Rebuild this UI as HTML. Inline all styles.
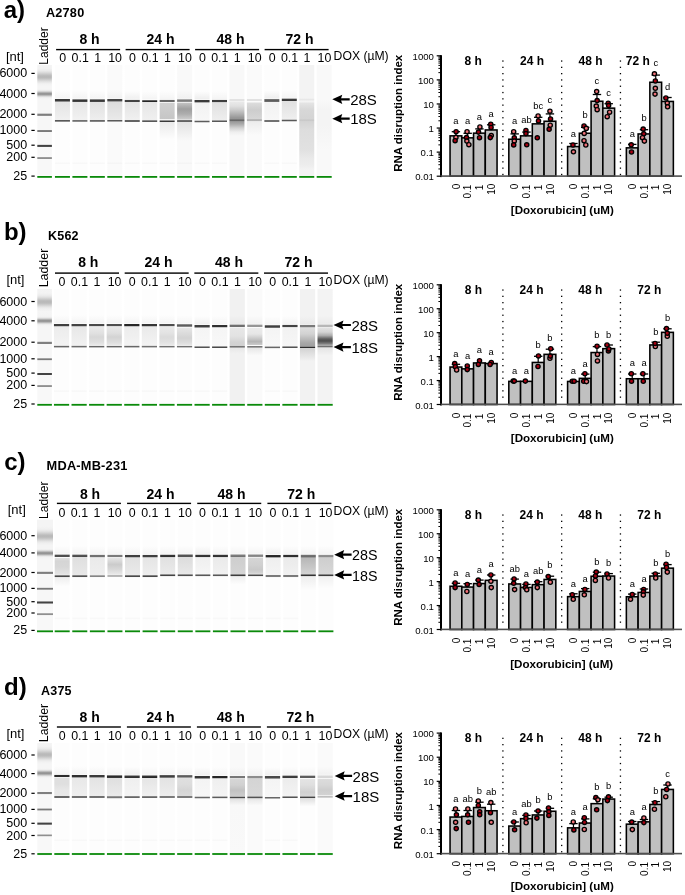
<!DOCTYPE html>
<html><head><meta charset="utf-8"><style>html,body{margin:0;padding:0;background:#fff;overflow:hidden}svg{display:block;filter:blur(0.3px)}text{font-family:"Liberation Sans", sans-serif}</style></head><body><svg width="685" height="895" viewBox="0 0 685 895" font-family='"Liberation Sans", sans-serif'><defs><linearGradient id="g1" x1="0" y1="0" x2="0" y2="1"><stop offset="0.0000" stop-color="rgb(244,244,244)"/><stop offset="0.0310" stop-color="rgb(242,242,242)"/><stop offset="0.0487" stop-color="rgb(236,236,236)"/><stop offset="0.0619" stop-color="rgb(225,225,225)"/><stop offset="0.0907" stop-color="rgb(191,191,191)"/><stop offset="0.0973" stop-color="rgb(187,187,187)"/><stop offset="0.1040" stop-color="rgb(185,185,185)"/><stop offset="0.1106" stop-color="rgb(186,186,186)"/><stop offset="0.1173" stop-color="rgb(191,191,191)"/><stop offset="0.1482" stop-color="rgb(227,227,227)"/><stop offset="0.1637" stop-color="rgb(239,239,239)"/><stop offset="0.1748" stop-color="rgb(243,243,243)"/><stop offset="0.1881" stop-color="rgb(245,245,245)"/><stop offset="0.2080" stop-color="rgb(245,245,245)"/><stop offset="0.2168" stop-color="rgb(243,243,243)"/><stop offset="0.2235" stop-color="rgb(238,238,238)"/><stop offset="0.2301" stop-color="rgb(226,226,226)"/><stop offset="0.2367" stop-color="rgb(205,205,205)"/><stop offset="0.2456" stop-color="rgb(169,169,169)"/><stop offset="0.2500" stop-color="rgb(154,154,154)"/><stop offset="0.2544" stop-color="rgb(146,146,146)"/><stop offset="0.2566" stop-color="rgb(146,146,146)"/><stop offset="0.2588" stop-color="rgb(148,148,148)"/><stop offset="0.2633" stop-color="rgb(159,159,159)"/><stop offset="0.2743" stop-color="rgb(204,204,204)"/><stop offset="0.2810" stop-color="rgb(226,226,226)"/><stop offset="0.2854" stop-color="rgb(235,235,235)"/><stop offset="0.2920" stop-color="rgb(242,242,242)"/><stop offset="0.3075" stop-color="rgb(246,246,246)"/><stop offset="0.4270" stop-color="rgb(246,246,246)"/><stop offset="0.4336" stop-color="rgb(126,126,126)"/><stop offset="0.4447" stop-color="rgb(127,127,127)"/><stop offset="0.4469" stop-color="rgb(143,143,143)"/><stop offset="0.4513" stop-color="rgb(223,223,223)"/><stop offset="0.4535" stop-color="rgb(247,247,247)"/><stop offset="0.5730" stop-color="rgb(247,247,247)"/><stop offset="0.5752" stop-color="rgb(214,214,214)"/><stop offset="0.5796" stop-color="rgb(130,130,130)"/><stop offset="0.5819" stop-color="rgb(122,122,122)"/><stop offset="0.5885" stop-color="rgb(122,122,122)"/><stop offset="0.5907" stop-color="rgb(139,139,139)"/><stop offset="0.5951" stop-color="rgb(222,222,222)"/><stop offset="0.5973" stop-color="rgb(247,247,247)"/><stop offset="0.7013" stop-color="rgb(247,247,247)"/><stop offset="0.7035" stop-color="rgb(223,223,223)"/><stop offset="0.7080" stop-color="rgb(103,103,103)"/><stop offset="0.7102" stop-color="rgb(67,67,67)"/><stop offset="0.7190" stop-color="rgb(67,67,67)"/><stop offset="0.7212" stop-color="rgb(79,79,79)"/><stop offset="0.7257" stop-color="rgb(199,199,199)"/><stop offset="0.7279" stop-color="rgb(247,247,247)"/><stop offset="0.8119" stop-color="rgb(248,248,248)"/><stop offset="0.8142" stop-color="rgb(227,227,227)"/><stop offset="0.8186" stop-color="rgb(157,157,157)"/><stop offset="0.8208" stop-color="rgb(143,143,143)"/><stop offset="0.8274" stop-color="rgb(143,143,143)"/><stop offset="0.8296" stop-color="rgb(164,164,164)"/><stop offset="0.8341" stop-color="rgb(234,234,234)"/><stop offset="0.8363" stop-color="rgb(248,248,248)"/><stop offset="0.9735" stop-color="rgb(248,248,248)"/><stop offset="0.9757" stop-color="rgb(251,251,251)"/><stop offset="1.0000" stop-color="rgb(251,251,251)"/></linearGradient><linearGradient id="g2" x1="0" y1="0" x2="0" y2="1"><stop offset="0.0000" stop-color="rgb(253,253,253)"/><stop offset="0.2235" stop-color="rgb(253,253,253)"/><stop offset="0.2898" stop-color="rgb(245,245,245)"/><stop offset="0.2987" stop-color="rgb(250,250,250)"/><stop offset="0.3053" stop-color="rgb(58,58,58)"/><stop offset="0.3164" stop-color="rgb(58,58,58)"/><stop offset="0.3186" stop-color="rgb(52,52,52)"/><stop offset="0.3208" stop-color="rgb(83,83,83)"/><stop offset="0.3230" stop-color="rgb(140,140,140)"/><stop offset="0.3252" stop-color="rgb(201,201,201)"/><stop offset="0.3274" stop-color="rgb(228,228,228)"/><stop offset="0.4823" stop-color="rgb(240,240,240)"/><stop offset="0.4845" stop-color="rgb(211,211,211)"/><stop offset="0.4889" stop-color="rgb(109,109,109)"/><stop offset="0.4912" stop-color="rgb(88,88,88)"/><stop offset="0.4978" stop-color="rgb(88,88,88)"/><stop offset="0.5044" stop-color="rgb(253,253,253)"/><stop offset="0.8584" stop-color="rgb(253,253,253)"/><stop offset="0.8673" stop-color="rgb(248,248,248)"/><stop offset="0.8739" stop-color="rgb(248,248,248)"/><stop offset="0.8805" stop-color="rgb(253,253,253)"/><stop offset="1.0000" stop-color="rgb(253,253,253)"/></linearGradient><linearGradient id="g3" x1="0" y1="0" x2="0" y2="1"><stop offset="0.0000" stop-color="rgb(253,253,253)"/><stop offset="0.2257" stop-color="rgb(253,253,253)"/><stop offset="0.2920" stop-color="rgb(245,245,245)"/><stop offset="0.3009" stop-color="rgb(250,250,250)"/><stop offset="0.3031" stop-color="rgb(198,198,198)"/><stop offset="0.3075" stop-color="rgb(66,66,66)"/><stop offset="0.3097" stop-color="rgb(53,53,53)"/><stop offset="0.3186" stop-color="rgb(53,53,53)"/><stop offset="0.3208" stop-color="rgb(49,49,49)"/><stop offset="0.3230" stop-color="rgb(68,68,68)"/><stop offset="0.3252" stop-color="rgb(128,128,128)"/><stop offset="0.3274" stop-color="rgb(190,190,190)"/><stop offset="0.3296" stop-color="rgb(230,230,230)"/><stop offset="0.4823" stop-color="rgb(241,241,241)"/><stop offset="0.4845" stop-color="rgb(234,234,234)"/><stop offset="0.4889" stop-color="rgb(148,148,148)"/><stop offset="0.4912" stop-color="rgb(113,113,113)"/><stop offset="0.4978" stop-color="rgb(113,113,113)"/><stop offset="0.5000" stop-color="rgb(141,141,141)"/><stop offset="0.5044" stop-color="rgb(234,234,234)"/><stop offset="0.5066" stop-color="rgb(253,253,253)"/><stop offset="0.8584" stop-color="rgb(253,253,253)"/><stop offset="0.8673" stop-color="rgb(248,248,248)"/><stop offset="0.8739" stop-color="rgb(248,248,248)"/><stop offset="0.8805" stop-color="rgb(253,253,253)"/><stop offset="1.0000" stop-color="rgb(253,253,253)"/></linearGradient><linearGradient id="g4" x1="0" y1="0" x2="0" y2="1"><stop offset="0.0000" stop-color="rgb(253,253,253)"/><stop offset="0.2257" stop-color="rgb(253,253,253)"/><stop offset="0.2920" stop-color="rgb(245,245,245)"/><stop offset="0.3009" stop-color="rgb(250,250,250)"/><stop offset="0.3031" stop-color="rgb(199,199,199)"/><stop offset="0.3075" stop-color="rgb(71,71,71)"/><stop offset="0.3097" stop-color="rgb(58,58,58)"/><stop offset="0.3186" stop-color="rgb(58,58,58)"/><stop offset="0.3208" stop-color="rgb(53,53,53)"/><stop offset="0.3230" stop-color="rgb(70,70,70)"/><stop offset="0.3252" stop-color="rgb(126,126,126)"/><stop offset="0.3274" stop-color="rgb(186,186,186)"/><stop offset="0.3296" stop-color="rgb(225,225,225)"/><stop offset="0.4823" stop-color="rgb(238,238,238)"/><stop offset="0.4845" stop-color="rgb(231,231,231)"/><stop offset="0.4889" stop-color="rgb(140,140,140)"/><stop offset="0.4912" stop-color="rgb(103,103,103)"/><stop offset="0.4978" stop-color="rgb(103,103,103)"/><stop offset="0.5000" stop-color="rgb(133,133,133)"/><stop offset="0.5044" stop-color="rgb(233,233,233)"/><stop offset="0.5066" stop-color="rgb(253,253,253)"/><stop offset="0.8584" stop-color="rgb(253,253,253)"/><stop offset="0.8673" stop-color="rgb(248,248,248)"/><stop offset="0.8739" stop-color="rgb(248,248,248)"/><stop offset="0.8805" stop-color="rgb(253,253,253)"/><stop offset="1.0000" stop-color="rgb(253,253,253)"/></linearGradient><linearGradient id="g5" x1="0" y1="0" x2="0" y2="1"><stop offset="0.0000" stop-color="rgb(250,250,250)"/><stop offset="0.2235" stop-color="rgb(250,250,250)"/><stop offset="0.2876" stop-color="rgb(242,242,242)"/><stop offset="0.2965" stop-color="rgb(246,246,246)"/><stop offset="0.2987" stop-color="rgb(224,224,224)"/><stop offset="0.3031" stop-color="rgb(106,106,106)"/><stop offset="0.3053" stop-color="rgb(70,70,70)"/><stop offset="0.3142" stop-color="rgb(70,70,70)"/><stop offset="0.3164" stop-color="rgb(68,68,68)"/><stop offset="0.3186" stop-color="rgb(59,59,59)"/><stop offset="0.3230" stop-color="rgb(160,160,160)"/><stop offset="0.3252" stop-color="rgb(220,220,220)"/><stop offset="0.4801" stop-color="rgb(233,233,233)"/><stop offset="0.4823" stop-color="rgb(235,235,235)"/><stop offset="0.4889" stop-color="rgb(90,90,90)"/><stop offset="0.4956" stop-color="rgb(90,90,90)"/><stop offset="0.4978" stop-color="rgb(111,111,111)"/><stop offset="0.5022" stop-color="rgb(218,218,218)"/><stop offset="0.5044" stop-color="rgb(250,250,250)"/><stop offset="0.8584" stop-color="rgb(250,250,250)"/><stop offset="0.8673" stop-color="rgb(245,245,245)"/><stop offset="0.8739" stop-color="rgb(245,245,245)"/><stop offset="0.8805" stop-color="rgb(250,250,250)"/><stop offset="1.0000" stop-color="rgb(250,250,250)"/></linearGradient><linearGradient id="g6" x1="0" y1="0" x2="0" y2="1"><stop offset="0.0000" stop-color="rgb(253,253,253)"/><stop offset="0.2279" stop-color="rgb(253,253,253)"/><stop offset="0.2942" stop-color="rgb(241,241,241)"/><stop offset="0.3031" stop-color="rgb(248,248,248)"/><stop offset="0.3053" stop-color="rgb(237,237,237)"/><stop offset="0.3097" stop-color="rgb(117,117,117)"/><stop offset="0.3119" stop-color="rgb(68,68,68)"/><stop offset="0.3208" stop-color="rgb(68,68,68)"/><stop offset="0.3230" stop-color="rgb(65,65,65)"/><stop offset="0.3252" stop-color="rgb(94,94,94)"/><stop offset="0.3296" stop-color="rgb(204,204,204)"/><stop offset="0.3319" stop-color="rgb(228,228,228)"/><stop offset="0.4845" stop-color="rgb(240,240,240)"/><stop offset="0.4867" stop-color="rgb(200,200,200)"/><stop offset="0.4912" stop-color="rgb(99,99,99)"/><stop offset="0.4934" stop-color="rgb(88,88,88)"/><stop offset="0.4978" stop-color="rgb(88,88,88)"/><stop offset="0.5000" stop-color="rgb(99,99,99)"/><stop offset="0.5044" stop-color="rgb(209,209,209)"/><stop offset="0.5066" stop-color="rgb(253,253,253)"/><stop offset="0.8584" stop-color="rgb(253,253,253)"/><stop offset="0.8673" stop-color="rgb(248,248,248)"/><stop offset="0.8739" stop-color="rgb(248,248,248)"/><stop offset="0.8805" stop-color="rgb(253,253,253)"/><stop offset="1.0000" stop-color="rgb(253,253,253)"/></linearGradient><linearGradient id="g7" x1="0" y1="0" x2="0" y2="1"><stop offset="0.0000" stop-color="rgb(253,253,253)"/><stop offset="0.2323" stop-color="rgb(253,253,253)"/><stop offset="0.2965" stop-color="rgb(245,245,245)"/><stop offset="0.3075" stop-color="rgb(251,251,251)"/><stop offset="0.3097" stop-color="rgb(238,238,238)"/><stop offset="0.3142" stop-color="rgb(95,95,95)"/><stop offset="0.3164" stop-color="rgb(38,38,38)"/><stop offset="0.3230" stop-color="rgb(38,38,38)"/><stop offset="0.3252" stop-color="rgb(51,51,51)"/><stop offset="0.3296" stop-color="rgb(180,180,180)"/><stop offset="0.3319" stop-color="rgb(230,230,230)"/><stop offset="0.4845" stop-color="rgb(239,239,239)"/><stop offset="0.4867" stop-color="rgb(241,241,241)"/><stop offset="0.4934" stop-color="rgb(88,88,88)"/><stop offset="0.5000" stop-color="rgb(88,88,88)"/><stop offset="0.5022" stop-color="rgb(110,110,110)"/><stop offset="0.5066" stop-color="rgb(220,220,220)"/><stop offset="0.5088" stop-color="rgb(253,253,253)"/><stop offset="0.8584" stop-color="rgb(253,253,253)"/><stop offset="0.8673" stop-color="rgb(248,248,248)"/><stop offset="0.8739" stop-color="rgb(248,248,248)"/><stop offset="0.8805" stop-color="rgb(253,253,253)"/><stop offset="1.0000" stop-color="rgb(253,253,253)"/></linearGradient><linearGradient id="g8" x1="0" y1="0" x2="0" y2="1"><stop offset="0.0000" stop-color="rgb(253,253,253)"/><stop offset="0.2301" stop-color="rgb(253,253,253)"/><stop offset="0.2965" stop-color="rgb(245,245,245)"/><stop offset="0.3031" stop-color="rgb(249,249,249)"/><stop offset="0.3053" stop-color="rgb(240,240,240)"/><stop offset="0.3097" stop-color="rgb(143,143,143)"/><stop offset="0.3119" stop-color="rgb(103,103,103)"/><stop offset="0.3252" stop-color="rgb(103,103,103)"/><stop offset="0.3274" stop-color="rgb(143,143,143)"/><stop offset="0.3319" stop-color="rgb(243,243,243)"/><stop offset="0.3341" stop-color="rgb(230,230,230)"/><stop offset="0.3363" stop-color="rgb(208,208,208)"/><stop offset="0.4779" stop-color="rgb(198,198,198)"/><stop offset="0.4823" stop-color="rgb(244,244,244)"/><stop offset="0.4845" stop-color="rgb(253,253,253)"/><stop offset="0.4867" stop-color="rgb(253,253,253)"/><stop offset="0.4889" stop-color="rgb(215,215,215)"/><stop offset="0.4934" stop-color="rgb(88,88,88)"/><stop offset="0.4956" stop-color="rgb(63,63,63)"/><stop offset="0.4978" stop-color="rgb(63,63,63)"/><stop offset="0.5022" stop-color="rgb(55,55,55)"/><stop offset="0.5066" stop-color="rgb(173,173,173)"/><stop offset="0.5088" stop-color="rgb(235,235,235)"/><stop offset="0.6571" stop-color="rgb(253,253,253)"/><stop offset="0.8584" stop-color="rgb(253,253,253)"/><stop offset="0.8673" stop-color="rgb(248,248,248)"/><stop offset="0.8717" stop-color="rgb(248,248,248)"/><stop offset="0.8805" stop-color="rgb(253,253,253)"/><stop offset="1.0000" stop-color="rgb(253,253,253)"/></linearGradient><linearGradient id="g9" x1="0" y1="0" x2="0" y2="1"><stop offset="0.0000" stop-color="rgb(249,249,249)"/><stop offset="0.2257" stop-color="rgb(249,249,249)"/><stop offset="0.2920" stop-color="rgb(241,241,241)"/><stop offset="0.3009" stop-color="rgb(246,246,246)"/><stop offset="0.3031" stop-color="rgb(214,214,214)"/><stop offset="0.3075" stop-color="rgb(132,132,132)"/><stop offset="0.3097" stop-color="rgb(124,124,124)"/><stop offset="0.3208" stop-color="rgb(124,124,124)"/><stop offset="0.3230" stop-color="rgb(141,141,141)"/><stop offset="0.3274" stop-color="rgb(224,224,224)"/><stop offset="0.3296" stop-color="rgb(249,249,249)"/><stop offset="0.3319" stop-color="rgb(233,233,233)"/><stop offset="0.3363" stop-color="rgb(194,194,194)"/><stop offset="0.3894" stop-color="rgb(159,159,159)"/><stop offset="0.4336" stop-color="rgb(174,174,174)"/><stop offset="0.4801" stop-color="rgb(204,204,204)"/><stop offset="0.4823" stop-color="rgb(222,222,222)"/><stop offset="0.4845" stop-color="rgb(245,245,245)"/><stop offset="0.4867" stop-color="rgb(209,209,209)"/><stop offset="0.4912" stop-color="rgb(109,109,109)"/><stop offset="0.4934" stop-color="rgb(99,99,99)"/><stop offset="0.4956" stop-color="rgb(99,99,99)"/><stop offset="0.4978" stop-color="rgb(94,94,94)"/><stop offset="0.5000" stop-color="rgb(98,98,98)"/><stop offset="0.5044" stop-color="rgb(187,187,187)"/><stop offset="0.5066" stop-color="rgb(227,227,227)"/><stop offset="0.6726" stop-color="rgb(249,249,249)"/><stop offset="0.8584" stop-color="rgb(249,249,249)"/><stop offset="0.8673" stop-color="rgb(244,244,244)"/><stop offset="0.8739" stop-color="rgb(244,244,244)"/><stop offset="0.8805" stop-color="rgb(249,249,249)"/><stop offset="1.0000" stop-color="rgb(249,249,249)"/></linearGradient><linearGradient id="g10" x1="0" y1="0" x2="0" y2="1"><stop offset="0.0000" stop-color="rgb(253,253,253)"/><stop offset="0.2323" stop-color="rgb(253,253,253)"/><stop offset="0.2965" stop-color="rgb(239,239,239)"/><stop offset="0.2987" stop-color="rgb(239,239,239)"/><stop offset="0.3053" stop-color="rgb(246,246,246)"/><stop offset="0.3075" stop-color="rgb(223,223,223)"/><stop offset="0.3119" stop-color="rgb(97,97,97)"/><stop offset="0.3142" stop-color="rgb(58,58,58)"/><stop offset="0.3230" stop-color="rgb(58,58,58)"/><stop offset="0.3252" stop-color="rgb(57,57,57)"/><stop offset="0.3274" stop-color="rgb(54,54,54)"/><stop offset="0.3319" stop-color="rgb(177,177,177)"/><stop offset="0.3341" stop-color="rgb(242,242,242)"/><stop offset="0.4889" stop-color="rgb(247,247,247)"/><stop offset="0.4912" stop-color="rgb(206,206,206)"/><stop offset="0.4956" stop-color="rgb(104,104,104)"/><stop offset="0.4978" stop-color="rgb(93,93,93)"/><stop offset="0.5022" stop-color="rgb(93,93,93)"/><stop offset="0.5044" stop-color="rgb(104,104,104)"/><stop offset="0.5088" stop-color="rgb(210,210,210)"/><stop offset="0.5111" stop-color="rgb(253,253,253)"/><stop offset="0.8584" stop-color="rgb(253,253,253)"/><stop offset="0.8673" stop-color="rgb(248,248,248)"/><stop offset="0.8739" stop-color="rgb(248,248,248)"/><stop offset="0.8805" stop-color="rgb(253,253,253)"/><stop offset="1.0000" stop-color="rgb(253,253,253)"/></linearGradient><linearGradient id="g11" x1="0" y1="0" x2="0" y2="1"><stop offset="0.0000" stop-color="rgb(253,253,253)"/><stop offset="0.2301" stop-color="rgb(253,253,253)"/><stop offset="0.2965" stop-color="rgb(245,245,245)"/><stop offset="0.3031" stop-color="rgb(249,249,249)"/><stop offset="0.3053" stop-color="rgb(238,238,238)"/><stop offset="0.3097" stop-color="rgb(114,114,114)"/><stop offset="0.3119" stop-color="rgb(63,63,63)"/><stop offset="0.3230" stop-color="rgb(63,63,63)"/><stop offset="0.3252" stop-color="rgb(54,54,54)"/><stop offset="0.3274" stop-color="rgb(96,96,96)"/><stop offset="0.3296" stop-color="rgb(150,150,150)"/><stop offset="0.3319" stop-color="rgb(212,212,212)"/><stop offset="0.3341" stop-color="rgb(225,225,225)"/><stop offset="0.4867" stop-color="rgb(238,238,238)"/><stop offset="0.4889" stop-color="rgb(209,209,209)"/><stop offset="0.4934" stop-color="rgb(109,109,109)"/><stop offset="0.4956" stop-color="rgb(88,88,88)"/><stop offset="0.5022" stop-color="rgb(88,88,88)"/><stop offset="0.5088" stop-color="rgb(253,253,253)"/><stop offset="0.8584" stop-color="rgb(253,253,253)"/><stop offset="0.8673" stop-color="rgb(248,248,248)"/><stop offset="0.8739" stop-color="rgb(248,248,248)"/><stop offset="0.8805" stop-color="rgb(253,253,253)"/><stop offset="1.0000" stop-color="rgb(253,253,253)"/></linearGradient><linearGradient id="g12" x1="0" y1="0" x2="0" y2="1"><stop offset="0.0000" stop-color="rgb(248,248,248)"/><stop offset="0.2987" stop-color="rgb(248,248,248)"/><stop offset="0.3053" stop-color="rgb(226,226,226)"/><stop offset="0.3142" stop-color="rgb(226,226,226)"/><stop offset="0.3186" stop-color="rgb(241,241,241)"/><stop offset="0.3208" stop-color="rgb(244,244,244)"/><stop offset="0.3274" stop-color="rgb(233,233,233)"/><stop offset="0.3628" stop-color="rgb(224,224,224)"/><stop offset="0.3982" stop-color="rgb(203,203,203)"/><stop offset="0.4690" stop-color="rgb(150,150,150)"/><stop offset="0.4779" stop-color="rgb(149,149,149)"/><stop offset="0.4801" stop-color="rgb(137,137,137)"/><stop offset="0.4845" stop-color="rgb(107,107,107)"/><stop offset="0.4867" stop-color="rgb(104,104,104)"/><stop offset="0.4934" stop-color="rgb(103,103,103)"/><stop offset="0.4956" stop-color="rgb(115,115,115)"/><stop offset="0.5000" stop-color="rgb(149,149,149)"/><stop offset="0.5022" stop-color="rgb(154,154,154)"/><stop offset="0.5221" stop-color="rgb(170,170,170)"/><stop offset="0.5575" stop-color="rgb(210,210,210)"/><stop offset="0.5929" stop-color="rgb(238,238,238)"/><stop offset="0.6283" stop-color="rgb(248,248,248)"/><stop offset="1.0000" stop-color="rgb(248,248,248)"/></linearGradient><linearGradient id="g13" x1="0" y1="0" x2="0" y2="1"><stop offset="0.0000" stop-color="rgb(250,250,250)"/><stop offset="0.2987" stop-color="rgb(250,250,250)"/><stop offset="0.3053" stop-color="rgb(225,225,225)"/><stop offset="0.3142" stop-color="rgb(225,225,225)"/><stop offset="0.3208" stop-color="rgb(250,250,250)"/><stop offset="0.3274" stop-color="rgb(250,250,250)"/><stop offset="0.3363" stop-color="rgb(220,220,220)"/><stop offset="0.3982" stop-color="rgb(205,205,205)"/><stop offset="0.4779" stop-color="rgb(214,214,214)"/><stop offset="0.4801" stop-color="rgb(201,201,201)"/><stop offset="0.4823" stop-color="rgb(185,185,185)"/><stop offset="0.4845" stop-color="rgb(172,172,172)"/><stop offset="0.4867" stop-color="rgb(172,172,172)"/><stop offset="0.4934" stop-color="rgb(182,182,182)"/><stop offset="0.5000" stop-color="rgb(232,232,232)"/><stop offset="0.5022" stop-color="rgb(236,236,236)"/><stop offset="0.6195" stop-color="rgb(250,250,250)"/><stop offset="1.0000" stop-color="rgb(250,250,250)"/></linearGradient><linearGradient id="g14" x1="0" y1="0" x2="0" y2="1"><stop offset="0.0000" stop-color="rgb(253,253,253)"/><stop offset="0.2257" stop-color="rgb(253,253,253)"/><stop offset="0.2920" stop-color="rgb(239,239,239)"/><stop offset="0.2987" stop-color="rgb(246,246,246)"/><stop offset="0.3009" stop-color="rgb(216,216,216)"/><stop offset="0.3053" stop-color="rgb(114,114,114)"/><stop offset="0.3075" stop-color="rgb(93,93,93)"/><stop offset="0.3186" stop-color="rgb(93,93,93)"/><stop offset="0.3208" stop-color="rgb(89,89,89)"/><stop offset="0.3230" stop-color="rgb(107,107,107)"/><stop offset="0.3252" stop-color="rgb(157,157,157)"/><stop offset="0.3274" stop-color="rgb(210,210,210)"/><stop offset="0.3296" stop-color="rgb(242,242,242)"/><stop offset="0.4845" stop-color="rgb(247,247,247)"/><stop offset="0.4867" stop-color="rgb(209,209,209)"/><stop offset="0.4912" stop-color="rgb(113,113,113)"/><stop offset="0.4934" stop-color="rgb(103,103,103)"/><stop offset="0.4978" stop-color="rgb(103,103,103)"/><stop offset="0.5000" stop-color="rgb(113,113,113)"/><stop offset="0.5044" stop-color="rgb(213,213,213)"/><stop offset="0.5066" stop-color="rgb(253,253,253)"/><stop offset="0.8584" stop-color="rgb(253,253,253)"/><stop offset="0.8673" stop-color="rgb(248,248,248)"/><stop offset="0.8739" stop-color="rgb(248,248,248)"/><stop offset="0.8805" stop-color="rgb(253,253,253)"/><stop offset="1.0000" stop-color="rgb(253,253,253)"/></linearGradient><linearGradient id="g15" x1="0" y1="0" x2="0" y2="1"><stop offset="0.0000" stop-color="rgb(253,253,253)"/><stop offset="0.2190" stop-color="rgb(253,253,253)"/><stop offset="0.2854" stop-color="rgb(245,245,245)"/><stop offset="0.2942" stop-color="rgb(250,250,250)"/><stop offset="0.3009" stop-color="rgb(63,63,63)"/><stop offset="0.3119" stop-color="rgb(63,63,63)"/><stop offset="0.3142" stop-color="rgb(56,56,56)"/><stop offset="0.3164" stop-color="rgb(85,85,85)"/><stop offset="0.3186" stop-color="rgb(139,139,139)"/><stop offset="0.3208" stop-color="rgb(199,199,199)"/><stop offset="0.3230" stop-color="rgb(225,225,225)"/><stop offset="0.4801" stop-color="rgb(239,239,239)"/><stop offset="0.4823" stop-color="rgb(199,199,199)"/><stop offset="0.4867" stop-color="rgb(99,99,99)"/><stop offset="0.4889" stop-color="rgb(88,88,88)"/><stop offset="0.4934" stop-color="rgb(88,88,88)"/><stop offset="0.4956" stop-color="rgb(99,99,99)"/><stop offset="0.5000" stop-color="rgb(209,209,209)"/><stop offset="0.5022" stop-color="rgb(253,253,253)"/><stop offset="0.8584" stop-color="rgb(253,253,253)"/><stop offset="0.8673" stop-color="rgb(248,248,248)"/><stop offset="0.8739" stop-color="rgb(248,248,248)"/><stop offset="0.8805" stop-color="rgb(253,253,253)"/><stop offset="1.0000" stop-color="rgb(253,253,253)"/></linearGradient><linearGradient id="g16" x1="0" y1="0" x2="0" y2="1"><stop offset="0.0000" stop-color="rgb(243,243,243)"/><stop offset="0.2942" stop-color="rgb(243,243,243)"/><stop offset="0.3009" stop-color="rgb(233,233,233)"/><stop offset="0.3031" stop-color="rgb(231,231,231)"/><stop offset="0.3097" stop-color="rgb(231,231,231)"/><stop offset="0.3164" stop-color="rgb(241,241,241)"/><stop offset="0.3186" stop-color="rgb(243,243,243)"/><stop offset="0.3274" stop-color="rgb(243,243,243)"/><stop offset="0.3363" stop-color="rgb(228,228,228)"/><stop offset="0.3982" stop-color="rgb(215,215,215)"/><stop offset="0.4779" stop-color="rgb(212,212,212)"/><stop offset="0.4845" stop-color="rgb(202,202,202)"/><stop offset="0.4934" stop-color="rgb(201,201,201)"/><stop offset="0.5000" stop-color="rgb(211,211,211)"/><stop offset="0.5022" stop-color="rgb(212,212,212)"/><stop offset="0.5752" stop-color="rgb(221,221,221)"/><stop offset="0.7522" stop-color="rgb(225,225,225)"/><stop offset="0.8230" stop-color="rgb(233,233,233)"/><stop offset="0.8850" stop-color="rgb(237,237,237)"/><stop offset="0.9292" stop-color="rgb(243,243,243)"/><stop offset="1.0000" stop-color="rgb(243,243,243)"/></linearGradient><linearGradient id="g17" x1="0" y1="0" x2="0" y2="1"><stop offset="0.0000" stop-color="rgb(249,249,249)"/><stop offset="0.3097" stop-color="rgb(249,249,249)"/><stop offset="0.3982" stop-color="rgb(244,244,244)"/><stop offset="0.5310" stop-color="rgb(244,244,244)"/><stop offset="0.7522" stop-color="rgb(249,249,249)"/><stop offset="1.0000" stop-color="rgb(249,249,249)"/></linearGradient><linearGradient id="g18" x1="0" y1="0" x2="0" y2="1"><stop offset="0.0000" stop-color="rgb(244,244,244)"/><stop offset="0.0342" stop-color="rgb(243,243,243)"/><stop offset="0.0534" stop-color="rgb(237,237,237)"/><stop offset="0.0684" stop-color="rgb(226,226,226)"/><stop offset="0.0983" stop-color="rgb(190,190,190)"/><stop offset="0.1047" stop-color="rgb(186,186,186)"/><stop offset="0.1111" stop-color="rgb(185,185,185)"/><stop offset="0.1175" stop-color="rgb(187,187,187)"/><stop offset="0.1239" stop-color="rgb(192,192,192)"/><stop offset="0.1517" stop-color="rgb(226,226,226)"/><stop offset="0.1603" stop-color="rgb(234,234,234)"/><stop offset="0.1688" stop-color="rgb(239,239,239)"/><stop offset="0.1923" stop-color="rgb(245,245,245)"/><stop offset="0.2329" stop-color="rgb(244,244,244)"/><stop offset="0.2415" stop-color="rgb(238,238,238)"/><stop offset="0.2479" stop-color="rgb(226,226,226)"/><stop offset="0.2543" stop-color="rgb(205,205,205)"/><stop offset="0.2628" stop-color="rgb(169,169,169)"/><stop offset="0.2671" stop-color="rgb(154,154,154)"/><stop offset="0.2714" stop-color="rgb(146,146,146)"/><stop offset="0.2735" stop-color="rgb(146,146,146)"/><stop offset="0.2756" stop-color="rgb(148,148,148)"/><stop offset="0.2799" stop-color="rgb(159,159,159)"/><stop offset="0.2906" stop-color="rgb(204,204,204)"/><stop offset="0.2970" stop-color="rgb(226,226,226)"/><stop offset="0.3034" stop-color="rgb(238,238,238)"/><stop offset="0.3098" stop-color="rgb(244,244,244)"/><stop offset="0.3248" stop-color="rgb(246,246,246)"/><stop offset="0.4466" stop-color="rgb(246,246,246)"/><stop offset="0.4487" stop-color="rgb(223,223,223)"/><stop offset="0.4530" stop-color="rgb(143,143,143)"/><stop offset="0.4551" stop-color="rgb(127,127,127)"/><stop offset="0.4658" stop-color="rgb(127,127,127)"/><stop offset="0.4722" stop-color="rgb(247,247,247)"/><stop offset="0.5897" stop-color="rgb(247,247,247)"/><stop offset="0.5962" stop-color="rgb(122,122,122)"/><stop offset="0.6047" stop-color="rgb(122,122,122)"/><stop offset="0.6068" stop-color="rgb(147,147,147)"/><stop offset="0.6111" stop-color="rgb(230,230,230)"/><stop offset="0.6132" stop-color="rgb(247,247,247)"/><stop offset="0.7137" stop-color="rgb(247,247,247)"/><stop offset="0.7201" stop-color="rgb(67,67,67)"/><stop offset="0.7308" stop-color="rgb(67,67,67)"/><stop offset="0.7329" stop-color="rgb(115,115,115)"/><stop offset="0.7372" stop-color="rgb(235,235,235)"/><stop offset="0.7393" stop-color="rgb(247,247,247)"/><stop offset="0.8184" stop-color="rgb(248,248,248)"/><stop offset="0.8205" stop-color="rgb(227,227,227)"/><stop offset="0.8248" stop-color="rgb(157,157,157)"/><stop offset="0.8269" stop-color="rgb(143,143,143)"/><stop offset="0.8333" stop-color="rgb(143,143,143)"/><stop offset="0.8355" stop-color="rgb(164,164,164)"/><stop offset="0.8397" stop-color="rgb(234,234,234)"/><stop offset="0.8419" stop-color="rgb(248,248,248)"/><stop offset="0.9744" stop-color="rgb(248,248,248)"/><stop offset="0.9765" stop-color="rgb(251,251,251)"/><stop offset="1.0000" stop-color="rgb(251,251,251)"/></linearGradient><linearGradient id="g19" x1="0" y1="0" x2="0" y2="1"><stop offset="0.0000" stop-color="rgb(253,253,253)"/><stop offset="0.2222" stop-color="rgb(253,253,253)"/><stop offset="0.2863" stop-color="rgb(245,245,245)"/><stop offset="0.2949" stop-color="rgb(250,250,250)"/><stop offset="0.2970" stop-color="rgb(200,200,200)"/><stop offset="0.3013" stop-color="rgb(76,76,76)"/><stop offset="0.3034" stop-color="rgb(63,63,63)"/><stop offset="0.3120" stop-color="rgb(63,63,63)"/><stop offset="0.3141" stop-color="rgb(60,60,60)"/><stop offset="0.3162" stop-color="rgb(80,80,80)"/><stop offset="0.3205" stop-color="rgb(198,198,198)"/><stop offset="0.3226" stop-color="rgb(236,236,236)"/><stop offset="0.4808" stop-color="rgb(243,243,243)"/><stop offset="0.4829" stop-color="rgb(225,225,225)"/><stop offset="0.4872" stop-color="rgb(132,132,132)"/><stop offset="0.4893" stop-color="rgb(103,103,103)"/><stop offset="0.4957" stop-color="rgb(103,103,103)"/><stop offset="0.4979" stop-color="rgb(143,143,143)"/><stop offset="0.5021" stop-color="rgb(243,243,243)"/><stop offset="0.5043" stop-color="rgb(253,253,253)"/><stop offset="0.8611" stop-color="rgb(253,253,253)"/><stop offset="0.8697" stop-color="rgb(248,248,248)"/><stop offset="0.8761" stop-color="rgb(248,248,248)"/><stop offset="0.8825" stop-color="rgb(253,253,253)"/><stop offset="1.0000" stop-color="rgb(253,253,253)"/></linearGradient><linearGradient id="g20" x1="0" y1="0" x2="0" y2="1"><stop offset="0.0000" stop-color="rgb(253,253,253)"/><stop offset="0.2222" stop-color="rgb(253,253,253)"/><stop offset="0.2863" stop-color="rgb(245,245,245)"/><stop offset="0.2949" stop-color="rgb(250,250,250)"/><stop offset="0.2970" stop-color="rgb(202,202,202)"/><stop offset="0.3013" stop-color="rgb(80,80,80)"/><stop offset="0.3034" stop-color="rgb(68,68,68)"/><stop offset="0.3120" stop-color="rgb(68,68,68)"/><stop offset="0.3141" stop-color="rgb(64,64,64)"/><stop offset="0.3162" stop-color="rgb(82,82,82)"/><stop offset="0.3184" stop-color="rgb(137,137,137)"/><stop offset="0.3205" stop-color="rgb(195,195,195)"/><stop offset="0.3226" stop-color="rgb(232,232,232)"/><stop offset="0.4808" stop-color="rgb(241,241,241)"/><stop offset="0.4829" stop-color="rgb(225,225,225)"/><stop offset="0.4872" stop-color="rgb(136,136,136)"/><stop offset="0.4893" stop-color="rgb(108,108,108)"/><stop offset="0.4957" stop-color="rgb(108,108,108)"/><stop offset="0.4979" stop-color="rgb(147,147,147)"/><stop offset="0.5021" stop-color="rgb(243,243,243)"/><stop offset="0.5043" stop-color="rgb(253,253,253)"/><stop offset="0.8611" stop-color="rgb(253,253,253)"/><stop offset="0.8697" stop-color="rgb(248,248,248)"/><stop offset="0.8761" stop-color="rgb(248,248,248)"/><stop offset="0.8825" stop-color="rgb(253,253,253)"/><stop offset="1.0000" stop-color="rgb(253,253,253)"/></linearGradient><linearGradient id="g21" x1="0" y1="0" x2="0" y2="1"><stop offset="0.0000" stop-color="rgb(253,253,253)"/><stop offset="0.2222" stop-color="rgb(253,253,253)"/><stop offset="0.2863" stop-color="rgb(245,245,245)"/><stop offset="0.2949" stop-color="rgb(250,250,250)"/><stop offset="0.2970" stop-color="rgb(203,203,203)"/><stop offset="0.3013" stop-color="rgb(85,85,85)"/><stop offset="0.3034" stop-color="rgb(73,73,73)"/><stop offset="0.3141" stop-color="rgb(73,73,73)"/><stop offset="0.3162" stop-color="rgb(97,97,97)"/><stop offset="0.3205" stop-color="rgb(217,217,217)"/><stop offset="0.3226" stop-color="rgb(253,253,253)"/><stop offset="0.3248" stop-color="rgb(253,253,253)"/><stop offset="0.3291" stop-color="rgb(233,233,233)"/><stop offset="0.3761" stop-color="rgb(225,225,225)"/><stop offset="0.4103" stop-color="rgb(215,215,215)"/><stop offset="0.4530" stop-color="rgb(223,223,223)"/><stop offset="0.4786" stop-color="rgb(233,233,233)"/><stop offset="0.4808" stop-color="rgb(250,250,250)"/><stop offset="0.4829" stop-color="rgb(233,233,233)"/><stop offset="0.4872" stop-color="rgb(133,133,133)"/><stop offset="0.4893" stop-color="rgb(103,103,103)"/><stop offset="0.4957" stop-color="rgb(103,103,103)"/><stop offset="0.4979" stop-color="rgb(143,143,143)"/><stop offset="0.5021" stop-color="rgb(243,243,243)"/><stop offset="0.5043" stop-color="rgb(253,253,253)"/><stop offset="0.8611" stop-color="rgb(253,253,253)"/><stop offset="0.8697" stop-color="rgb(248,248,248)"/><stop offset="0.8761" stop-color="rgb(248,248,248)"/><stop offset="0.8825" stop-color="rgb(253,253,253)"/><stop offset="1.0000" stop-color="rgb(253,253,253)"/></linearGradient><linearGradient id="g22" x1="0" y1="0" x2="0" y2="1"><stop offset="0.0000" stop-color="rgb(253,253,253)"/><stop offset="0.2222" stop-color="rgb(253,253,253)"/><stop offset="0.2863" stop-color="rgb(245,245,245)"/><stop offset="0.2949" stop-color="rgb(250,250,250)"/><stop offset="0.2970" stop-color="rgb(204,204,204)"/><stop offset="0.3013" stop-color="rgb(90,90,90)"/><stop offset="0.3034" stop-color="rgb(78,78,78)"/><stop offset="0.3141" stop-color="rgb(78,78,78)"/><stop offset="0.3162" stop-color="rgb(101,101,101)"/><stop offset="0.3205" stop-color="rgb(218,218,218)"/><stop offset="0.3226" stop-color="rgb(253,253,253)"/><stop offset="0.3248" stop-color="rgb(253,253,253)"/><stop offset="0.3291" stop-color="rgb(231,231,231)"/><stop offset="0.3761" stop-color="rgb(223,223,223)"/><stop offset="0.4103" stop-color="rgb(211,211,211)"/><stop offset="0.4530" stop-color="rgb(221,221,221)"/><stop offset="0.4786" stop-color="rgb(231,231,231)"/><stop offset="0.4808" stop-color="rgb(249,249,249)"/><stop offset="0.4829" stop-color="rgb(233,233,233)"/><stop offset="0.4872" stop-color="rgb(133,133,133)"/><stop offset="0.4893" stop-color="rgb(103,103,103)"/><stop offset="0.4957" stop-color="rgb(103,103,103)"/><stop offset="0.4979" stop-color="rgb(143,143,143)"/><stop offset="0.5021" stop-color="rgb(243,243,243)"/><stop offset="0.5043" stop-color="rgb(253,253,253)"/><stop offset="0.8611" stop-color="rgb(253,253,253)"/><stop offset="0.8697" stop-color="rgb(248,248,248)"/><stop offset="0.8761" stop-color="rgb(248,248,248)"/><stop offset="0.8825" stop-color="rgb(253,253,253)"/><stop offset="1.0000" stop-color="rgb(253,253,253)"/></linearGradient><linearGradient id="g23" x1="0" y1="0" x2="0" y2="1"><stop offset="0.0000" stop-color="rgb(253,253,253)"/><stop offset="0.2222" stop-color="rgb(253,253,253)"/><stop offset="0.2863" stop-color="rgb(245,245,245)"/><stop offset="0.2949" stop-color="rgb(250,250,250)"/><stop offset="0.2970" stop-color="rgb(194,194,194)"/><stop offset="0.3013" stop-color="rgb(52,52,52)"/><stop offset="0.3034" stop-color="rgb(38,38,38)"/><stop offset="0.3120" stop-color="rgb(38,38,38)"/><stop offset="0.3141" stop-color="rgb(35,35,35)"/><stop offset="0.3162" stop-color="rgb(58,58,58)"/><stop offset="0.3205" stop-color="rgb(193,193,193)"/><stop offset="0.3226" stop-color="rgb(236,236,236)"/><stop offset="0.4808" stop-color="rgb(243,243,243)"/><stop offset="0.4829" stop-color="rgb(225,225,225)"/><stop offset="0.4872" stop-color="rgb(132,132,132)"/><stop offset="0.4893" stop-color="rgb(103,103,103)"/><stop offset="0.4957" stop-color="rgb(103,103,103)"/><stop offset="0.4979" stop-color="rgb(143,143,143)"/><stop offset="0.5021" stop-color="rgb(243,243,243)"/><stop offset="0.5043" stop-color="rgb(253,253,253)"/><stop offset="0.8611" stop-color="rgb(253,253,253)"/><stop offset="0.8697" stop-color="rgb(248,248,248)"/><stop offset="0.8761" stop-color="rgb(248,248,248)"/><stop offset="0.8825" stop-color="rgb(253,253,253)"/><stop offset="1.0000" stop-color="rgb(253,253,253)"/></linearGradient><linearGradient id="g24" x1="0" y1="0" x2="0" y2="1"><stop offset="0.0000" stop-color="rgb(253,253,253)"/><stop offset="0.2222" stop-color="rgb(253,253,253)"/><stop offset="0.2863" stop-color="rgb(245,245,245)"/><stop offset="0.2949" stop-color="rgb(250,250,250)"/><stop offset="0.2970" stop-color="rgb(198,198,198)"/><stop offset="0.3013" stop-color="rgb(66,66,66)"/><stop offset="0.3034" stop-color="rgb(53,53,53)"/><stop offset="0.3120" stop-color="rgb(53,53,53)"/><stop offset="0.3141" stop-color="rgb(49,49,49)"/><stop offset="0.3162" stop-color="rgb(70,70,70)"/><stop offset="0.3184" stop-color="rgb(131,131,131)"/><stop offset="0.3205" stop-color="rgb(194,194,194)"/><stop offset="0.3226" stop-color="rgb(234,234,234)"/><stop offset="0.4808" stop-color="rgb(243,243,243)"/><stop offset="0.4829" stop-color="rgb(227,227,227)"/><stop offset="0.4872" stop-color="rgb(140,140,140)"/><stop offset="0.4893" stop-color="rgb(113,113,113)"/><stop offset="0.4957" stop-color="rgb(113,113,113)"/><stop offset="0.4979" stop-color="rgb(150,150,150)"/><stop offset="0.5021" stop-color="rgb(244,244,244)"/><stop offset="0.5043" stop-color="rgb(253,253,253)"/><stop offset="0.8611" stop-color="rgb(253,253,253)"/><stop offset="0.8697" stop-color="rgb(248,248,248)"/><stop offset="0.8761" stop-color="rgb(248,248,248)"/><stop offset="0.8825" stop-color="rgb(253,253,253)"/><stop offset="1.0000" stop-color="rgb(253,253,253)"/></linearGradient><linearGradient id="g25" x1="0" y1="0" x2="0" y2="1"><stop offset="0.0000" stop-color="rgb(253,253,253)"/><stop offset="0.2222" stop-color="rgb(253,253,253)"/><stop offset="0.2863" stop-color="rgb(245,245,245)"/><stop offset="0.2949" stop-color="rgb(250,250,250)"/><stop offset="0.2970" stop-color="rgb(204,204,204)"/><stop offset="0.3013" stop-color="rgb(90,90,90)"/><stop offset="0.3034" stop-color="rgb(78,78,78)"/><stop offset="0.3141" stop-color="rgb(78,78,78)"/><stop offset="0.3162" stop-color="rgb(101,101,101)"/><stop offset="0.3205" stop-color="rgb(218,218,218)"/><stop offset="0.3226" stop-color="rgb(253,253,253)"/><stop offset="0.3248" stop-color="rgb(253,253,253)"/><stop offset="0.3291" stop-color="rgb(233,233,233)"/><stop offset="0.3761" stop-color="rgb(227,227,227)"/><stop offset="0.4103" stop-color="rgb(219,219,219)"/><stop offset="0.4530" stop-color="rgb(225,225,225)"/><stop offset="0.4786" stop-color="rgb(233,233,233)"/><stop offset="0.4808" stop-color="rgb(250,250,250)"/><stop offset="0.4829" stop-color="rgb(234,234,234)"/><stop offset="0.4872" stop-color="rgb(141,141,141)"/><stop offset="0.4893" stop-color="rgb(113,113,113)"/><stop offset="0.4957" stop-color="rgb(113,113,113)"/><stop offset="0.4979" stop-color="rgb(150,150,150)"/><stop offset="0.5021" stop-color="rgb(244,244,244)"/><stop offset="0.5043" stop-color="rgb(253,253,253)"/><stop offset="0.8611" stop-color="rgb(253,253,253)"/><stop offset="0.8697" stop-color="rgb(248,248,248)"/><stop offset="0.8761" stop-color="rgb(248,248,248)"/><stop offset="0.8825" stop-color="rgb(253,253,253)"/><stop offset="1.0000" stop-color="rgb(253,253,253)"/></linearGradient><linearGradient id="g26" x1="0" y1="0" x2="0" y2="1"><stop offset="0.0000" stop-color="rgb(253,253,253)"/><stop offset="0.2265" stop-color="rgb(253,253,253)"/><stop offset="0.2906" stop-color="rgb(245,245,245)"/><stop offset="0.2970" stop-color="rgb(249,249,249)"/><stop offset="0.2991" stop-color="rgb(240,240,240)"/><stop offset="0.3034" stop-color="rgb(136,136,136)"/><stop offset="0.3056" stop-color="rgb(93,93,93)"/><stop offset="0.3184" stop-color="rgb(93,93,93)"/><stop offset="0.3205" stop-color="rgb(136,136,136)"/><stop offset="0.3248" stop-color="rgb(242,242,242)"/><stop offset="0.3269" stop-color="rgb(253,253,253)"/><stop offset="0.3291" stop-color="rgb(243,243,243)"/><stop offset="0.3312" stop-color="rgb(231,231,231)"/><stop offset="0.3333" stop-color="rgb(229,229,229)"/><stop offset="0.4188" stop-color="rgb(211,211,211)"/><stop offset="0.4530" stop-color="rgb(219,219,219)"/><stop offset="0.4786" stop-color="rgb(229,229,229)"/><stop offset="0.4808" stop-color="rgb(249,249,249)"/><stop offset="0.4829" stop-color="rgb(234,234,234)"/><stop offset="0.4872" stop-color="rgb(141,141,141)"/><stop offset="0.4893" stop-color="rgb(113,113,113)"/><stop offset="0.4957" stop-color="rgb(113,113,113)"/><stop offset="0.4979" stop-color="rgb(150,150,150)"/><stop offset="0.5021" stop-color="rgb(244,244,244)"/><stop offset="0.5043" stop-color="rgb(253,253,253)"/><stop offset="0.8611" stop-color="rgb(253,253,253)"/><stop offset="0.8697" stop-color="rgb(248,248,248)"/><stop offset="0.8761" stop-color="rgb(248,248,248)"/><stop offset="0.8825" stop-color="rgb(253,253,253)"/><stop offset="1.0000" stop-color="rgb(253,253,253)"/></linearGradient><linearGradient id="g27" x1="0" y1="0" x2="0" y2="1"><stop offset="0.0000" stop-color="rgb(253,253,253)"/><stop offset="0.2329" stop-color="rgb(253,253,253)"/><stop offset="0.2970" stop-color="rgb(241,241,241)"/><stop offset="0.3056" stop-color="rgb(249,249,249)"/><stop offset="0.3120" stop-color="rgb(63,63,63)"/><stop offset="0.3226" stop-color="rgb(63,63,63)"/><stop offset="0.3248" stop-color="rgb(61,61,61)"/><stop offset="0.3269" stop-color="rgb(97,97,97)"/><stop offset="0.3312" stop-color="rgb(220,220,220)"/><stop offset="0.3333" stop-color="rgb(245,245,245)"/><stop offset="0.4872" stop-color="rgb(248,248,248)"/><stop offset="0.4893" stop-color="rgb(215,215,215)"/><stop offset="0.4936" stop-color="rgb(105,105,105)"/><stop offset="0.4957" stop-color="rgb(83,83,83)"/><stop offset="0.5021" stop-color="rgb(83,83,83)"/><stop offset="0.5085" stop-color="rgb(253,253,253)"/><stop offset="0.8611" stop-color="rgb(253,253,253)"/><stop offset="0.8718" stop-color="rgb(248,248,248)"/><stop offset="0.8761" stop-color="rgb(248,248,248)"/><stop offset="0.8825" stop-color="rgb(253,253,253)"/><stop offset="1.0000" stop-color="rgb(253,253,253)"/></linearGradient><linearGradient id="g28" x1="0" y1="0" x2="0" y2="1"><stop offset="0.0000" stop-color="rgb(253,253,253)"/><stop offset="0.2308" stop-color="rgb(253,253,253)"/><stop offset="0.2949" stop-color="rgb(245,245,245)"/><stop offset="0.3034" stop-color="rgb(250,250,250)"/><stop offset="0.3056" stop-color="rgb(196,196,196)"/><stop offset="0.3098" stop-color="rgb(62,62,62)"/><stop offset="0.3120" stop-color="rgb(48,48,48)"/><stop offset="0.3226" stop-color="rgb(47,47,47)"/><stop offset="0.3248" stop-color="rgb(72,72,72)"/><stop offset="0.3291" stop-color="rgb(204,204,204)"/><stop offset="0.3312" stop-color="rgb(245,245,245)"/><stop offset="0.4872" stop-color="rgb(248,248,248)"/><stop offset="0.4893" stop-color="rgb(213,213,213)"/><stop offset="0.4936" stop-color="rgb(97,97,97)"/><stop offset="0.4957" stop-color="rgb(73,73,73)"/><stop offset="0.5021" stop-color="rgb(73,73,73)"/><stop offset="0.5085" stop-color="rgb(253,253,253)"/><stop offset="0.8611" stop-color="rgb(253,253,253)"/><stop offset="0.8697" stop-color="rgb(248,248,248)"/><stop offset="0.8761" stop-color="rgb(248,248,248)"/><stop offset="0.8825" stop-color="rgb(253,253,253)"/><stop offset="1.0000" stop-color="rgb(253,253,253)"/></linearGradient><linearGradient id="g29" x1="0" y1="0" x2="0" y2="1"><stop offset="0.0000" stop-color="rgb(241,241,241)"/><stop offset="0.2286" stop-color="rgb(241,241,241)"/><stop offset="0.2927" stop-color="rgb(233,233,233)"/><stop offset="0.3013" stop-color="rgb(238,238,238)"/><stop offset="0.3077" stop-color="rgb(111,111,111)"/><stop offset="0.3098" stop-color="rgb(111,111,111)"/><stop offset="0.3205" stop-color="rgb(111,111,111)"/><stop offset="0.3226" stop-color="rgb(137,137,137)"/><stop offset="0.3269" stop-color="rgb(224,224,224)"/><stop offset="0.3291" stop-color="rgb(241,241,241)"/><stop offset="0.3333" stop-color="rgb(231,231,231)"/><stop offset="0.4017" stop-color="rgb(227,227,227)"/><stop offset="0.4530" stop-color="rgb(211,211,211)"/><stop offset="0.4829" stop-color="rgb(209,209,209)"/><stop offset="0.4872" stop-color="rgb(158,158,158)"/><stop offset="0.4893" stop-color="rgb(116,116,116)"/><stop offset="0.4936" stop-color="rgb(115,115,115)"/><stop offset="0.4957" stop-color="rgb(113,113,113)"/><stop offset="0.4979" stop-color="rgb(127,127,127)"/><stop offset="0.5021" stop-color="rgb(206,206,206)"/><stop offset="0.5043" stop-color="rgb(232,232,232)"/><stop offset="0.5534" stop-color="rgb(241,241,241)"/><stop offset="1.0000" stop-color="rgb(241,241,241)"/></linearGradient><linearGradient id="g30" x1="0" y1="0" x2="0" y2="1"><stop offset="0.0000" stop-color="rgb(250,250,250)"/><stop offset="0.2286" stop-color="rgb(250,250,250)"/><stop offset="0.2927" stop-color="rgb(242,242,242)"/><stop offset="0.3013" stop-color="rgb(247,247,247)"/><stop offset="0.3077" stop-color="rgb(150,150,150)"/><stop offset="0.3098" stop-color="rgb(150,150,150)"/><stop offset="0.3205" stop-color="rgb(150,150,150)"/><stop offset="0.3226" stop-color="rgb(170,170,170)"/><stop offset="0.3269" stop-color="rgb(237,237,237)"/><stop offset="0.3291" stop-color="rgb(250,250,250)"/><stop offset="0.3333" stop-color="rgb(235,235,235)"/><stop offset="0.3846" stop-color="rgb(230,230,230)"/><stop offset="0.4188" stop-color="rgb(205,205,205)"/><stop offset="0.4487" stop-color="rgb(181,181,181)"/><stop offset="0.4509" stop-color="rgb(181,181,181)"/><stop offset="0.4744" stop-color="rgb(200,200,200)"/><stop offset="0.4829" stop-color="rgb(250,250,250)"/><stop offset="0.4893" stop-color="rgb(120,120,120)"/><stop offset="0.4936" stop-color="rgb(119,119,119)"/><stop offset="0.4957" stop-color="rgb(114,114,114)"/><stop offset="0.4979" stop-color="rgb(126,126,126)"/><stop offset="0.5021" stop-color="rgb(204,204,204)"/><stop offset="0.5043" stop-color="rgb(231,231,231)"/><stop offset="0.5684" stop-color="rgb(250,250,250)"/><stop offset="1.0000" stop-color="rgb(250,250,250)"/></linearGradient><linearGradient id="g31" x1="0" y1="0" x2="0" y2="1"><stop offset="0.0000" stop-color="rgb(253,253,253)"/><stop offset="0.2350" stop-color="rgb(253,253,253)"/><stop offset="0.2991" stop-color="rgb(245,245,245)"/><stop offset="0.3056" stop-color="rgb(249,249,249)"/><stop offset="0.3077" stop-color="rgb(238,238,238)"/><stop offset="0.3120" stop-color="rgb(114,114,114)"/><stop offset="0.3141" stop-color="rgb(63,63,63)"/><stop offset="0.3248" stop-color="rgb(63,63,63)"/><stop offset="0.3269" stop-color="rgb(60,60,60)"/><stop offset="0.3291" stop-color="rgb(108,108,108)"/><stop offset="0.3312" stop-color="rgb(168,168,168)"/><stop offset="0.3333" stop-color="rgb(231,231,231)"/><stop offset="0.3355" stop-color="rgb(244,244,244)"/><stop offset="0.4872" stop-color="rgb(248,248,248)"/><stop offset="0.4893" stop-color="rgb(239,239,239)"/><stop offset="0.4936" stop-color="rgb(142,142,142)"/><stop offset="0.4957" stop-color="rgb(103,103,103)"/><stop offset="0.5021" stop-color="rgb(103,103,103)"/><stop offset="0.5043" stop-color="rgb(133,133,133)"/><stop offset="0.5085" stop-color="rgb(233,233,233)"/><stop offset="0.5107" stop-color="rgb(253,253,253)"/><stop offset="0.8611" stop-color="rgb(253,253,253)"/><stop offset="0.8697" stop-color="rgb(248,248,248)"/><stop offset="0.8761" stop-color="rgb(248,248,248)"/><stop offset="0.8825" stop-color="rgb(253,253,253)"/><stop offset="1.0000" stop-color="rgb(253,253,253)"/></linearGradient><linearGradient id="g32" x1="0" y1="0" x2="0" y2="1"><stop offset="0.0000" stop-color="rgb(253,253,253)"/><stop offset="0.2308" stop-color="rgb(253,253,253)"/><stop offset="0.2949" stop-color="rgb(245,245,245)"/><stop offset="0.3013" stop-color="rgb(249,249,249)"/><stop offset="0.3034" stop-color="rgb(238,238,238)"/><stop offset="0.3077" stop-color="rgb(117,117,117)"/><stop offset="0.3098" stop-color="rgb(68,68,68)"/><stop offset="0.3205" stop-color="rgb(68,68,68)"/><stop offset="0.3226" stop-color="rgb(64,64,64)"/><stop offset="0.3248" stop-color="rgb(110,110,110)"/><stop offset="0.3269" stop-color="rgb(168,168,168)"/><stop offset="0.3291" stop-color="rgb(229,229,229)"/><stop offset="0.3312" stop-color="rgb(242,242,242)"/><stop offset="0.4872" stop-color="rgb(246,246,246)"/><stop offset="0.4893" stop-color="rgb(214,214,214)"/><stop offset="0.4936" stop-color="rgb(105,105,105)"/><stop offset="0.4957" stop-color="rgb(83,83,83)"/><stop offset="0.5021" stop-color="rgb(83,83,83)"/><stop offset="0.5085" stop-color="rgb(253,253,253)"/><stop offset="0.8611" stop-color="rgb(253,253,253)"/><stop offset="0.8718" stop-color="rgb(248,248,248)"/><stop offset="0.8761" stop-color="rgb(248,248,248)"/><stop offset="0.8825" stop-color="rgb(253,253,253)"/><stop offset="1.0000" stop-color="rgb(253,253,253)"/></linearGradient><linearGradient id="g33" x1="0" y1="0" x2="0" y2="1"><stop offset="0.0000" stop-color="rgb(242,242,242)"/><stop offset="0.2329" stop-color="rgb(242,242,242)"/><stop offset="0.2949" stop-color="rgb(234,234,234)"/><stop offset="0.3034" stop-color="rgb(238,238,238)"/><stop offset="0.3056" stop-color="rgb(224,224,224)"/><stop offset="0.3098" stop-color="rgb(146,146,146)"/><stop offset="0.3120" stop-color="rgb(122,122,122)"/><stop offset="0.3248" stop-color="rgb(122,122,122)"/><stop offset="0.3312" stop-color="rgb(242,242,242)"/><stop offset="0.3333" stop-color="rgb(242,242,242)"/><stop offset="0.3376" stop-color="rgb(220,220,220)"/><stop offset="0.3846" stop-color="rgb(210,210,210)"/><stop offset="0.4615" stop-color="rgb(167,167,167)"/><stop offset="0.4829" stop-color="rgb(162,162,162)"/><stop offset="0.4872" stop-color="rgb(242,242,242)"/><stop offset="0.4893" stop-color="rgb(204,204,204)"/><stop offset="0.4936" stop-color="rgb(77,77,77)"/><stop offset="0.4957" stop-color="rgb(52,52,52)"/><stop offset="0.4979" stop-color="rgb(52,52,52)"/><stop offset="0.5021" stop-color="rgb(39,39,39)"/><stop offset="0.5064" stop-color="rgb(150,150,150)"/><stop offset="0.5085" stop-color="rgb(212,212,212)"/><stop offset="0.6175" stop-color="rgb(242,242,242)"/><stop offset="1.0000" stop-color="rgb(242,242,242)"/></linearGradient><linearGradient id="g34" x1="0" y1="0" x2="0" y2="1"><stop offset="0.0000" stop-color="rgb(243,243,243)"/><stop offset="0.2286" stop-color="rgb(243,243,243)"/><stop offset="0.2927" stop-color="rgb(235,235,235)"/><stop offset="0.3013" stop-color="rgb(240,240,240)"/><stop offset="0.3077" stop-color="rgb(183,183,183)"/><stop offset="0.3205" stop-color="rgb(183,183,183)"/><stop offset="0.3226" stop-color="rgb(195,195,195)"/><stop offset="0.3248" stop-color="rgb(215,215,215)"/><stop offset="0.3269" stop-color="rgb(230,230,230)"/><stop offset="0.3291" stop-color="rgb(234,234,234)"/><stop offset="0.3333" stop-color="rgb(225,225,225)"/><stop offset="0.3675" stop-color="rgb(213,213,213)"/><stop offset="0.3974" stop-color="rgb(173,173,173)"/><stop offset="0.4274" stop-color="rgb(93,93,93)"/><stop offset="0.4444" stop-color="rgb(78,78,78)"/><stop offset="0.4658" stop-color="rgb(123,123,123)"/><stop offset="0.4808" stop-color="rgb(172,172,172)"/><stop offset="0.4829" stop-color="rgb(166,166,166)"/><stop offset="0.4850" stop-color="rgb(158,158,158)"/><stop offset="0.4872" stop-color="rgb(122,122,122)"/><stop offset="0.4893" stop-color="rgb(113,113,113)"/><stop offset="0.4915" stop-color="rgb(113,113,113)"/><stop offset="0.4936" stop-color="rgb(109,109,109)"/><stop offset="0.4957" stop-color="rgb(114,114,114)"/><stop offset="0.5000" stop-color="rgb(193,193,193)"/><stop offset="0.5021" stop-color="rgb(228,228,228)"/><stop offset="0.5684" stop-color="rgb(243,243,243)"/><stop offset="1.0000" stop-color="rgb(243,243,243)"/></linearGradient><linearGradient id="g35" x1="0" y1="0" x2="0" y2="1"><stop offset="0.0000" stop-color="rgb(244,244,244)"/><stop offset="0.0595" stop-color="rgb(244,244,244)"/><stop offset="0.0838" stop-color="rgb(240,240,240)"/><stop offset="0.0948" stop-color="rgb(234,234,234)"/><stop offset="0.1036" stop-color="rgb(227,227,227)"/><stop offset="0.1345" stop-color="rgb(191,191,191)"/><stop offset="0.1411" stop-color="rgb(186,186,186)"/><stop offset="0.1477" stop-color="rgb(185,185,185)"/><stop offset="0.1543" stop-color="rgb(187,187,187)"/><stop offset="0.1609" stop-color="rgb(192,192,192)"/><stop offset="0.1896" stop-color="rgb(226,226,226)"/><stop offset="0.2050" stop-color="rgb(238,238,238)"/><stop offset="0.2271" stop-color="rgb(244,244,244)"/><stop offset="0.2557" stop-color="rgb(244,244,244)"/><stop offset="0.2646" stop-color="rgb(238,238,238)"/><stop offset="0.2712" stop-color="rgb(225,225,225)"/><stop offset="0.2778" stop-color="rgb(204,204,204)"/><stop offset="0.2888" stop-color="rgb(159,159,159)"/><stop offset="0.2932" stop-color="rgb(148,148,148)"/><stop offset="0.2954" stop-color="rgb(146,146,146)"/><stop offset="0.2976" stop-color="rgb(146,146,146)"/><stop offset="0.3020" stop-color="rgb(154,154,154)"/><stop offset="0.3064" stop-color="rgb(169,169,169)"/><stop offset="0.3153" stop-color="rgb(206,206,206)"/><stop offset="0.3219" stop-color="rgb(227,227,227)"/><stop offset="0.3263" stop-color="rgb(236,236,236)"/><stop offset="0.3329" stop-color="rgb(243,243,243)"/><stop offset="0.3483" stop-color="rgb(246,246,246)"/><stop offset="0.4563" stop-color="rgb(246,246,246)"/><stop offset="0.4630" stop-color="rgb(126,126,126)"/><stop offset="0.4740" stop-color="rgb(127,127,127)"/><stop offset="0.4762" stop-color="rgb(143,143,143)"/><stop offset="0.4806" stop-color="rgb(223,223,223)"/><stop offset="0.4828" stop-color="rgb(247,247,247)"/><stop offset="0.5974" stop-color="rgb(247,247,247)"/><stop offset="0.5996" stop-color="rgb(214,214,214)"/><stop offset="0.6041" stop-color="rgb(130,130,130)"/><stop offset="0.6063" stop-color="rgb(122,122,122)"/><stop offset="0.6129" stop-color="rgb(122,122,122)"/><stop offset="0.6151" stop-color="rgb(139,139,139)"/><stop offset="0.6195" stop-color="rgb(222,222,222)"/><stop offset="0.6217" stop-color="rgb(247,247,247)"/><stop offset="0.7187" stop-color="rgb(247,247,247)"/><stop offset="0.7253" stop-color="rgb(67,67,67)"/><stop offset="0.7363" stop-color="rgb(67,67,67)"/><stop offset="0.7385" stop-color="rgb(115,115,115)"/><stop offset="0.7429" stop-color="rgb(235,235,235)"/><stop offset="0.7451" stop-color="rgb(247,247,247)"/><stop offset="0.8223" stop-color="rgb(248,248,248)"/><stop offset="0.8245" stop-color="rgb(227,227,227)"/><stop offset="0.8289" stop-color="rgb(157,157,157)"/><stop offset="0.8311" stop-color="rgb(143,143,143)"/><stop offset="0.8377" stop-color="rgb(143,143,143)"/><stop offset="0.8399" stop-color="rgb(164,164,164)"/><stop offset="0.8444" stop-color="rgb(234,234,234)"/><stop offset="0.8466" stop-color="rgb(248,248,248)"/><stop offset="0.9722" stop-color="rgb(248,248,248)"/><stop offset="0.9744" stop-color="rgb(251,251,251)"/><stop offset="0.9987" stop-color="rgb(251,251,251)"/></linearGradient><linearGradient id="g36" x1="0" y1="0" x2="0" y2="1"><stop offset="0.0000" stop-color="rgb(253,253,253)"/><stop offset="0.2315" stop-color="rgb(253,253,253)"/><stop offset="0.2954" stop-color="rgb(245,245,245)"/><stop offset="0.3042" stop-color="rgb(249,249,249)"/><stop offset="0.3064" stop-color="rgb(227,227,227)"/><stop offset="0.3108" stop-color="rgb(113,113,113)"/><stop offset="0.3131" stop-color="rgb(78,78,78)"/><stop offset="0.3263" stop-color="rgb(78,78,78)"/><stop offset="0.3329" stop-color="rgb(253,253,253)"/><stop offset="0.3351" stop-color="rgb(247,247,247)"/><stop offset="0.3373" stop-color="rgb(232,232,232)"/><stop offset="0.3395" stop-color="rgb(223,223,223)"/><stop offset="0.3660" stop-color="rgb(213,213,213)"/><stop offset="0.4189" stop-color="rgb(215,215,215)"/><stop offset="0.4828" stop-color="rgb(228,228,228)"/><stop offset="0.4850" stop-color="rgb(233,233,233)"/><stop offset="0.4872" stop-color="rgb(246,246,246)"/><stop offset="0.4894" stop-color="rgb(230,230,230)"/><stop offset="0.4938" stop-color="rgb(113,113,113)"/><stop offset="0.4960" stop-color="rgb(78,78,78)"/><stop offset="0.4982" stop-color="rgb(78,78,78)"/><stop offset="0.5026" stop-color="rgb(72,72,72)"/><stop offset="0.5049" stop-color="rgb(115,115,115)"/><stop offset="0.5071" stop-color="rgb(169,169,169)"/><stop offset="0.5093" stop-color="rgb(227,227,227)"/><stop offset="0.5115" stop-color="rgb(239,239,239)"/><stop offset="0.5886" stop-color="rgb(253,253,253)"/><stop offset="0.8598" stop-color="rgb(253,253,253)"/><stop offset="0.8686" stop-color="rgb(248,248,248)"/><stop offset="0.8752" stop-color="rgb(248,248,248)"/><stop offset="0.8818" stop-color="rgb(253,253,253)"/><stop offset="0.9987" stop-color="rgb(253,253,253)"/></linearGradient><linearGradient id="g37" x1="0" y1="0" x2="0" y2="1"><stop offset="0.0000" stop-color="rgb(253,253,253)"/><stop offset="0.2315" stop-color="rgb(253,253,253)"/><stop offset="0.2954" stop-color="rgb(245,245,245)"/><stop offset="0.3042" stop-color="rgb(249,249,249)"/><stop offset="0.3064" stop-color="rgb(228,228,228)"/><stop offset="0.3108" stop-color="rgb(117,117,117)"/><stop offset="0.3131" stop-color="rgb(83,83,83)"/><stop offset="0.3219" stop-color="rgb(83,83,83)"/><stop offset="0.3241" stop-color="rgb(81,81,81)"/><stop offset="0.3263" stop-color="rgb(72,72,72)"/><stop offset="0.3307" stop-color="rgb(166,166,166)"/><stop offset="0.3329" stop-color="rgb(223,223,223)"/><stop offset="0.4872" stop-color="rgb(232,232,232)"/><stop offset="0.4894" stop-color="rgb(214,214,214)"/><stop offset="0.4938" stop-color="rgb(114,114,114)"/><stop offset="0.4960" stop-color="rgb(83,83,83)"/><stop offset="0.5026" stop-color="rgb(83,83,83)"/><stop offset="0.5049" stop-color="rgb(128,128,128)"/><stop offset="0.5093" stop-color="rgb(242,242,242)"/><stop offset="0.5115" stop-color="rgb(253,253,253)"/><stop offset="0.8598" stop-color="rgb(253,253,253)"/><stop offset="0.8686" stop-color="rgb(248,248,248)"/><stop offset="0.8752" stop-color="rgb(248,248,248)"/><stop offset="0.8818" stop-color="rgb(253,253,253)"/><stop offset="0.9987" stop-color="rgb(253,253,253)"/></linearGradient><linearGradient id="g38" x1="0" y1="0" x2="0" y2="1"><stop offset="0.0000" stop-color="rgb(253,253,253)"/><stop offset="0.2315" stop-color="rgb(253,253,253)"/><stop offset="0.2976" stop-color="rgb(245,245,245)"/><stop offset="0.3064" stop-color="rgb(250,250,250)"/><stop offset="0.3086" stop-color="rgb(223,223,223)"/><stop offset="0.3131" stop-color="rgb(132,132,132)"/><stop offset="0.3153" stop-color="rgb(113,113,113)"/><stop offset="0.3241" stop-color="rgb(113,113,113)"/><stop offset="0.3263" stop-color="rgb(111,111,111)"/><stop offset="0.3285" stop-color="rgb(114,114,114)"/><stop offset="0.3329" stop-color="rgb(197,197,197)"/><stop offset="0.3351" stop-color="rgb(234,234,234)"/><stop offset="0.4872" stop-color="rgb(238,238,238)"/><stop offset="0.4894" stop-color="rgb(226,226,226)"/><stop offset="0.4938" stop-color="rgb(155,155,155)"/><stop offset="0.4960" stop-color="rgb(133,133,133)"/><stop offset="0.5026" stop-color="rgb(133,133,133)"/><stop offset="0.5049" stop-color="rgb(165,165,165)"/><stop offset="0.5093" stop-color="rgb(245,245,245)"/><stop offset="0.5115" stop-color="rgb(253,253,253)"/><stop offset="0.8598" stop-color="rgb(253,253,253)"/><stop offset="0.8686" stop-color="rgb(248,248,248)"/><stop offset="0.8752" stop-color="rgb(248,248,248)"/><stop offset="0.8818" stop-color="rgb(253,253,253)"/><stop offset="0.9987" stop-color="rgb(253,253,253)"/></linearGradient><linearGradient id="g39" x1="0" y1="0" x2="0" y2="1"><stop offset="0.0000" stop-color="rgb(253,253,253)"/><stop offset="0.2315" stop-color="rgb(253,253,253)"/><stop offset="0.2976" stop-color="rgb(245,245,245)"/><stop offset="0.3064" stop-color="rgb(250,250,250)"/><stop offset="0.3086" stop-color="rgb(225,225,225)"/><stop offset="0.3131" stop-color="rgb(140,140,140)"/><stop offset="0.3153" stop-color="rgb(123,123,123)"/><stop offset="0.3263" stop-color="rgb(123,123,123)"/><stop offset="0.3285" stop-color="rgb(132,132,132)"/><stop offset="0.3329" stop-color="rgb(218,218,218)"/><stop offset="0.3351" stop-color="rgb(248,248,248)"/><stop offset="0.3373" stop-color="rgb(235,235,235)"/><stop offset="0.3395" stop-color="rgb(228,228,228)"/><stop offset="0.3968" stop-color="rgb(203,203,203)"/><stop offset="0.4453" stop-color="rgb(218,218,218)"/><stop offset="0.4828" stop-color="rgb(233,233,233)"/><stop offset="0.4872" stop-color="rgb(242,242,242)"/><stop offset="0.4894" stop-color="rgb(221,221,221)"/><stop offset="0.4916" stop-color="rgb(194,194,194)"/><stop offset="0.4938" stop-color="rgb(173,173,173)"/><stop offset="0.5004" stop-color="rgb(173,173,173)"/><stop offset="0.5026" stop-color="rgb(189,189,189)"/><stop offset="0.5071" stop-color="rgb(242,242,242)"/><stop offset="0.5093" stop-color="rgb(253,253,253)"/><stop offset="0.8598" stop-color="rgb(253,253,253)"/><stop offset="0.8686" stop-color="rgb(248,248,248)"/><stop offset="0.8752" stop-color="rgb(248,248,248)"/><stop offset="0.8818" stop-color="rgb(253,253,253)"/><stop offset="0.9987" stop-color="rgb(253,253,253)"/></linearGradient><linearGradient id="g40" x1="0" y1="0" x2="0" y2="1"><stop offset="0.0000" stop-color="rgb(253,253,253)"/><stop offset="0.2337" stop-color="rgb(253,253,253)"/><stop offset="0.2998" stop-color="rgb(245,245,245)"/><stop offset="0.3064" stop-color="rgb(249,249,249)"/><stop offset="0.3086" stop-color="rgb(238,238,238)"/><stop offset="0.3131" stop-color="rgb(114,114,114)"/><stop offset="0.3153" stop-color="rgb(63,63,63)"/><stop offset="0.3263" stop-color="rgb(63,63,63)"/><stop offset="0.3285" stop-color="rgb(54,54,54)"/><stop offset="0.3307" stop-color="rgb(96,96,96)"/><stop offset="0.3329" stop-color="rgb(150,150,150)"/><stop offset="0.3351" stop-color="rgb(212,212,212)"/><stop offset="0.3373" stop-color="rgb(225,225,225)"/><stop offset="0.4872" stop-color="rgb(234,234,234)"/><stop offset="0.4894" stop-color="rgb(215,215,215)"/><stop offset="0.4938" stop-color="rgb(107,107,107)"/><stop offset="0.4960" stop-color="rgb(73,73,73)"/><stop offset="0.5026" stop-color="rgb(73,73,73)"/><stop offset="0.5049" stop-color="rgb(121,121,121)"/><stop offset="0.5093" stop-color="rgb(241,241,241)"/><stop offset="0.5115" stop-color="rgb(253,253,253)"/><stop offset="0.8598" stop-color="rgb(253,253,253)"/><stop offset="0.8686" stop-color="rgb(248,248,248)"/><stop offset="0.8752" stop-color="rgb(248,248,248)"/><stop offset="0.8818" stop-color="rgb(253,253,253)"/><stop offset="0.9987" stop-color="rgb(253,253,253)"/></linearGradient><linearGradient id="g41" x1="0" y1="0" x2="0" y2="1"><stop offset="0.0000" stop-color="rgb(253,253,253)"/><stop offset="0.2337" stop-color="rgb(253,253,253)"/><stop offset="0.2998" stop-color="rgb(245,245,245)"/><stop offset="0.3064" stop-color="rgb(249,249,249)"/><stop offset="0.3086" stop-color="rgb(238,238,238)"/><stop offset="0.3131" stop-color="rgb(114,114,114)"/><stop offset="0.3153" stop-color="rgb(63,63,63)"/><stop offset="0.3263" stop-color="rgb(63,63,63)"/><stop offset="0.3285" stop-color="rgb(56,56,56)"/><stop offset="0.3307" stop-color="rgb(99,99,99)"/><stop offset="0.3329" stop-color="rgb(155,155,155)"/><stop offset="0.3351" stop-color="rgb(217,217,217)"/><stop offset="0.3373" stop-color="rgb(229,229,229)"/><stop offset="0.4872" stop-color="rgb(238,238,238)"/><stop offset="0.4894" stop-color="rgb(218,218,218)"/><stop offset="0.4938" stop-color="rgb(107,107,107)"/><stop offset="0.4960" stop-color="rgb(73,73,73)"/><stop offset="0.5026" stop-color="rgb(73,73,73)"/><stop offset="0.5049" stop-color="rgb(121,121,121)"/><stop offset="0.5093" stop-color="rgb(241,241,241)"/><stop offset="0.5115" stop-color="rgb(253,253,253)"/><stop offset="0.8598" stop-color="rgb(253,253,253)"/><stop offset="0.8686" stop-color="rgb(248,248,248)"/><stop offset="0.8752" stop-color="rgb(248,248,248)"/><stop offset="0.8818" stop-color="rgb(253,253,253)"/><stop offset="0.9987" stop-color="rgb(253,253,253)"/></linearGradient><linearGradient id="g42" x1="0" y1="0" x2="0" y2="1"><stop offset="0.0000" stop-color="rgb(253,253,253)"/><stop offset="0.2315" stop-color="rgb(253,253,253)"/><stop offset="0.2976" stop-color="rgb(245,245,245)"/><stop offset="0.3064" stop-color="rgb(250,250,250)"/><stop offset="0.3131" stop-color="rgb(53,53,53)"/><stop offset="0.3241" stop-color="rgb(53,53,53)"/><stop offset="0.3263" stop-color="rgb(46,46,46)"/><stop offset="0.3285" stop-color="rgb(77,77,77)"/><stop offset="0.3307" stop-color="rgb(135,135,135)"/><stop offset="0.3329" stop-color="rgb(198,198,198)"/><stop offset="0.3351" stop-color="rgb(225,225,225)"/><stop offset="0.4784" stop-color="rgb(234,234,234)"/><stop offset="0.4806" stop-color="rgb(237,237,237)"/><stop offset="0.4872" stop-color="rgb(68,68,68)"/><stop offset="0.4938" stop-color="rgb(68,68,68)"/><stop offset="0.4960" stop-color="rgb(93,93,93)"/><stop offset="0.5004" stop-color="rgb(216,216,216)"/><stop offset="0.5026" stop-color="rgb(253,253,253)"/><stop offset="0.8598" stop-color="rgb(253,253,253)"/><stop offset="0.8686" stop-color="rgb(248,248,248)"/><stop offset="0.8752" stop-color="rgb(248,248,248)"/><stop offset="0.8818" stop-color="rgb(253,253,253)"/><stop offset="0.9987" stop-color="rgb(253,253,253)"/></linearGradient><linearGradient id="g43" x1="0" y1="0" x2="0" y2="1"><stop offset="0.0000" stop-color="rgb(253,253,253)"/><stop offset="0.2293" stop-color="rgb(253,253,253)"/><stop offset="0.2954" stop-color="rgb(245,245,245)"/><stop offset="0.3042" stop-color="rgb(250,250,250)"/><stop offset="0.3064" stop-color="rgb(206,206,206)"/><stop offset="0.3108" stop-color="rgb(94,94,94)"/><stop offset="0.3131" stop-color="rgb(83,83,83)"/><stop offset="0.3219" stop-color="rgb(83,83,83)"/><stop offset="0.3241" stop-color="rgb(77,77,77)"/><stop offset="0.3263" stop-color="rgb(89,89,89)"/><stop offset="0.3285" stop-color="rgb(135,135,135)"/><stop offset="0.3307" stop-color="rgb(186,186,186)"/><stop offset="0.3329" stop-color="rgb(220,220,220)"/><stop offset="0.4784" stop-color="rgb(232,232,232)"/><stop offset="0.4806" stop-color="rgb(234,234,234)"/><stop offset="0.4872" stop-color="rgb(78,78,78)"/><stop offset="0.4938" stop-color="rgb(78,78,78)"/><stop offset="0.4960" stop-color="rgb(101,101,101)"/><stop offset="0.5004" stop-color="rgb(218,218,218)"/><stop offset="0.5026" stop-color="rgb(253,253,253)"/><stop offset="0.8598" stop-color="rgb(253,253,253)"/><stop offset="0.8686" stop-color="rgb(248,248,248)"/><stop offset="0.8752" stop-color="rgb(248,248,248)"/><stop offset="0.8818" stop-color="rgb(253,253,253)"/><stop offset="0.9987" stop-color="rgb(253,253,253)"/></linearGradient><linearGradient id="g44" x1="0" y1="0" x2="0" y2="1"><stop offset="0.0000" stop-color="rgb(253,253,253)"/><stop offset="0.2315" stop-color="rgb(253,253,253)"/><stop offset="0.2976" stop-color="rgb(241,241,241)"/><stop offset="0.3064" stop-color="rgb(249,249,249)"/><stop offset="0.3131" stop-color="rgb(53,53,53)"/><stop offset="0.3241" stop-color="rgb(53,53,53)"/><stop offset="0.3263" stop-color="rgb(49,49,49)"/><stop offset="0.3285" stop-color="rgb(85,85,85)"/><stop offset="0.3307" stop-color="rgb(147,147,147)"/><stop offset="0.3329" stop-color="rgb(212,212,212)"/><stop offset="0.3351" stop-color="rgb(239,239,239)"/><stop offset="0.4806" stop-color="rgb(246,246,246)"/><stop offset="0.4872" stop-color="rgb(88,88,88)"/><stop offset="0.4938" stop-color="rgb(88,88,88)"/><stop offset="0.4960" stop-color="rgb(110,110,110)"/><stop offset="0.5004" stop-color="rgb(220,220,220)"/><stop offset="0.5026" stop-color="rgb(253,253,253)"/><stop offset="0.8598" stop-color="rgb(253,253,253)"/><stop offset="0.8686" stop-color="rgb(248,248,248)"/><stop offset="0.8752" stop-color="rgb(248,248,248)"/><stop offset="0.8818" stop-color="rgb(253,253,253)"/><stop offset="0.9987" stop-color="rgb(253,253,253)"/></linearGradient><linearGradient id="g45" x1="0" y1="0" x2="0" y2="1"><stop offset="0.0000" stop-color="rgb(253,253,253)"/><stop offset="0.2315" stop-color="rgb(253,253,253)"/><stop offset="0.2976" stop-color="rgb(245,245,245)"/><stop offset="0.3064" stop-color="rgb(250,250,250)"/><stop offset="0.3131" stop-color="rgb(53,53,53)"/><stop offset="0.3241" stop-color="rgb(53,53,53)"/><stop offset="0.3263" stop-color="rgb(48,48,48)"/><stop offset="0.3285" stop-color="rgb(82,82,82)"/><stop offset="0.3307" stop-color="rgb(143,143,143)"/><stop offset="0.3329" stop-color="rgb(207,207,207)"/><stop offset="0.3351" stop-color="rgb(234,234,234)"/><stop offset="0.4784" stop-color="rgb(241,241,241)"/><stop offset="0.4806" stop-color="rgb(243,243,243)"/><stop offset="0.4872" stop-color="rgb(88,88,88)"/><stop offset="0.4938" stop-color="rgb(88,88,88)"/><stop offset="0.4960" stop-color="rgb(110,110,110)"/><stop offset="0.5004" stop-color="rgb(220,220,220)"/><stop offset="0.5026" stop-color="rgb(253,253,253)"/><stop offset="0.8598" stop-color="rgb(253,253,253)"/><stop offset="0.8686" stop-color="rgb(248,248,248)"/><stop offset="0.8752" stop-color="rgb(248,248,248)"/><stop offset="0.8818" stop-color="rgb(253,253,253)"/><stop offset="0.9987" stop-color="rgb(253,253,253)"/></linearGradient><linearGradient id="g46" x1="0" y1="0" x2="0" y2="1"><stop offset="0.0000" stop-color="rgb(253,253,253)"/><stop offset="0.2293" stop-color="rgb(253,253,253)"/><stop offset="0.2954" stop-color="rgb(245,245,245)"/><stop offset="0.3042" stop-color="rgb(250,250,250)"/><stop offset="0.3064" stop-color="rgb(216,216,216)"/><stop offset="0.3108" stop-color="rgb(132,132,132)"/><stop offset="0.3131" stop-color="rgb(123,123,123)"/><stop offset="0.3219" stop-color="rgb(123,123,123)"/><stop offset="0.3241" stop-color="rgb(114,114,114)"/><stop offset="0.3263" stop-color="rgb(117,117,117)"/><stop offset="0.3285" stop-color="rgb(145,145,145)"/><stop offset="0.3307" stop-color="rgb(180,180,180)"/><stop offset="0.3329" stop-color="rgb(206,206,206)"/><stop offset="0.4784" stop-color="rgb(212,212,212)"/><stop offset="0.4806" stop-color="rgb(217,217,217)"/><stop offset="0.4850" stop-color="rgb(116,116,116)"/><stop offset="0.4872" stop-color="rgb(63,63,63)"/><stop offset="0.4916" stop-color="rgb(62,62,62)"/><stop offset="0.4938" stop-color="rgb(58,58,58)"/><stop offset="0.4960" stop-color="rgb(80,80,80)"/><stop offset="0.5004" stop-color="rgb(200,200,200)"/><stop offset="0.5026" stop-color="rgb(239,239,239)"/><stop offset="0.5710" stop-color="rgb(253,253,253)"/><stop offset="0.8598" stop-color="rgb(253,253,253)"/><stop offset="0.8686" stop-color="rgb(248,248,248)"/><stop offset="0.8752" stop-color="rgb(248,248,248)"/><stop offset="0.8818" stop-color="rgb(253,253,253)"/><stop offset="0.9987" stop-color="rgb(253,253,253)"/></linearGradient><linearGradient id="g47" x1="0" y1="0" x2="0" y2="1"><stop offset="0.0000" stop-color="rgb(253,253,253)"/><stop offset="0.2293" stop-color="rgb(253,253,253)"/><stop offset="0.2954" stop-color="rgb(245,245,245)"/><stop offset="0.3042" stop-color="rgb(250,250,250)"/><stop offset="0.3064" stop-color="rgb(219,219,219)"/><stop offset="0.3108" stop-color="rgb(141,141,141)"/><stop offset="0.3131" stop-color="rgb(133,133,133)"/><stop offset="0.3241" stop-color="rgb(133,133,133)"/><stop offset="0.3263" stop-color="rgb(149,149,149)"/><stop offset="0.3307" stop-color="rgb(229,229,229)"/><stop offset="0.3329" stop-color="rgb(249,249,249)"/><stop offset="0.3351" stop-color="rgb(229,229,229)"/><stop offset="0.3373" stop-color="rgb(213,213,213)"/><stop offset="0.4012" stop-color="rgb(208,208,208)"/><stop offset="0.4431" stop-color="rgb(201,201,201)"/><stop offset="0.4740" stop-color="rgb(212,212,212)"/><stop offset="0.4762" stop-color="rgb(221,221,221)"/><stop offset="0.4784" stop-color="rgb(241,241,241)"/><stop offset="0.4806" stop-color="rgb(253,253,253)"/><stop offset="0.4872" stop-color="rgb(73,73,73)"/><stop offset="0.4938" stop-color="rgb(73,73,73)"/><stop offset="0.4960" stop-color="rgb(97,97,97)"/><stop offset="0.5004" stop-color="rgb(217,217,217)"/><stop offset="0.5026" stop-color="rgb(253,253,253)"/><stop offset="0.8598" stop-color="rgb(253,253,253)"/><stop offset="0.8686" stop-color="rgb(248,248,248)"/><stop offset="0.8752" stop-color="rgb(248,248,248)"/><stop offset="0.8818" stop-color="rgb(253,253,253)"/><stop offset="0.9987" stop-color="rgb(253,253,253)"/></linearGradient><linearGradient id="g48" x1="0" y1="0" x2="0" y2="1"><stop offset="0.0000" stop-color="rgb(253,253,253)"/><stop offset="0.2337" stop-color="rgb(253,253,253)"/><stop offset="0.2998" stop-color="rgb(241,241,241)"/><stop offset="0.3086" stop-color="rgb(248,248,248)"/><stop offset="0.3108" stop-color="rgb(193,193,193)"/><stop offset="0.3153" stop-color="rgb(52,52,52)"/><stop offset="0.3175" stop-color="rgb(38,38,38)"/><stop offset="0.3263" stop-color="rgb(38,38,38)"/><stop offset="0.3285" stop-color="rgb(35,35,35)"/><stop offset="0.3307" stop-color="rgb(60,60,60)"/><stop offset="0.3351" stop-color="rgb(196,196,196)"/><stop offset="0.3373" stop-color="rgb(239,239,239)"/><stop offset="0.4850" stop-color="rgb(244,244,244)"/><stop offset="0.4916" stop-color="rgb(121,121,121)"/><stop offset="0.4938" stop-color="rgb(123,123,123)"/><stop offset="0.5026" stop-color="rgb(123,123,123)"/><stop offset="0.5049" stop-color="rgb(158,158,158)"/><stop offset="0.5093" stop-color="rgb(244,244,244)"/><stop offset="0.5115" stop-color="rgb(253,253,253)"/><stop offset="0.8598" stop-color="rgb(253,253,253)"/><stop offset="0.8686" stop-color="rgb(248,248,248)"/><stop offset="0.8752" stop-color="rgb(248,248,248)"/><stop offset="0.8818" stop-color="rgb(253,253,253)"/><stop offset="0.9987" stop-color="rgb(253,253,253)"/></linearGradient><linearGradient id="g49" x1="0" y1="0" x2="0" y2="1"><stop offset="0.0000" stop-color="rgb(253,253,253)"/><stop offset="0.2315" stop-color="rgb(253,253,253)"/><stop offset="0.2976" stop-color="rgb(245,245,245)"/><stop offset="0.3064" stop-color="rgb(250,250,250)"/><stop offset="0.3086" stop-color="rgb(210,210,210)"/><stop offset="0.3131" stop-color="rgb(75,75,75)"/><stop offset="0.3153" stop-color="rgb(48,48,48)"/><stop offset="0.3241" stop-color="rgb(48,48,48)"/><stop offset="0.3263" stop-color="rgb(46,46,46)"/><stop offset="0.3285" stop-color="rgb(53,53,53)"/><stop offset="0.3329" stop-color="rgb(179,179,179)"/><stop offset="0.3351" stop-color="rgb(234,234,234)"/><stop offset="0.4850" stop-color="rgb(241,241,241)"/><stop offset="0.4916" stop-color="rgb(121,121,121)"/><stop offset="0.4938" stop-color="rgb(123,123,123)"/><stop offset="0.5026" stop-color="rgb(123,123,123)"/><stop offset="0.5049" stop-color="rgb(158,158,158)"/><stop offset="0.5093" stop-color="rgb(244,244,244)"/><stop offset="0.5115" stop-color="rgb(253,253,253)"/><stop offset="0.8598" stop-color="rgb(253,253,253)"/><stop offset="0.8686" stop-color="rgb(248,248,248)"/><stop offset="0.8752" stop-color="rgb(248,248,248)"/><stop offset="0.8818" stop-color="rgb(253,253,253)"/><stop offset="0.9987" stop-color="rgb(253,253,253)"/></linearGradient><linearGradient id="g50" x1="0" y1="0" x2="0" y2="1"><stop offset="0.0000" stop-color="rgb(253,253,253)"/><stop offset="0.2315" stop-color="rgb(253,253,253)"/><stop offset="0.2976" stop-color="rgb(245,245,245)"/><stop offset="0.3064" stop-color="rgb(250,250,250)"/><stop offset="0.3131" stop-color="rgb(113,113,113)"/><stop offset="0.3241" stop-color="rgb(113,113,113)"/><stop offset="0.3263" stop-color="rgb(104,104,104)"/><stop offset="0.3285" stop-color="rgb(82,82,82)"/><stop offset="0.3307" stop-color="rgb(97,97,97)"/><stop offset="0.3329" stop-color="rgb(126,126,126)"/><stop offset="0.3351" stop-color="rgb(173,173,173)"/><stop offset="0.3373" stop-color="rgb(183,183,183)"/><stop offset="0.4784" stop-color="rgb(210,210,210)"/><stop offset="0.4806" stop-color="rgb(216,216,216)"/><stop offset="0.4850" stop-color="rgb(109,109,109)"/><stop offset="0.4872" stop-color="rgb(53,53,53)"/><stop offset="0.4916" stop-color="rgb(52,52,52)"/><stop offset="0.4938" stop-color="rgb(48,48,48)"/><stop offset="0.4960" stop-color="rgb(71,71,71)"/><stop offset="0.5004" stop-color="rgb(198,198,198)"/><stop offset="0.5026" stop-color="rgb(238,238,238)"/><stop offset="0.6239" stop-color="rgb(253,253,253)"/><stop offset="0.9987" stop-color="rgb(253,253,253)"/></linearGradient><linearGradient id="g51" x1="0" y1="0" x2="0" y2="1"><stop offset="0.0000" stop-color="rgb(253,253,253)"/><stop offset="0.2315" stop-color="rgb(253,253,253)"/><stop offset="0.2976" stop-color="rgb(245,245,245)"/><stop offset="0.3064" stop-color="rgb(250,250,250)"/><stop offset="0.3086" stop-color="rgb(229,229,229)"/><stop offset="0.3131" stop-color="rgb(158,158,158)"/><stop offset="0.3153" stop-color="rgb(143,143,143)"/><stop offset="0.3241" stop-color="rgb(143,143,143)"/><stop offset="0.3285" stop-color="rgb(130,130,130)"/><stop offset="0.3307" stop-color="rgb(151,151,151)"/><stop offset="0.3329" stop-color="rgb(176,176,176)"/><stop offset="0.3351" stop-color="rgb(206,206,206)"/><stop offset="0.4784" stop-color="rgb(215,215,215)"/><stop offset="0.4806" stop-color="rgb(220,220,220)"/><stop offset="0.4850" stop-color="rgb(117,117,117)"/><stop offset="0.4872" stop-color="rgb(63,63,63)"/><stop offset="0.4916" stop-color="rgb(62,62,62)"/><stop offset="0.4938" stop-color="rgb(59,59,59)"/><stop offset="0.4960" stop-color="rgb(82,82,82)"/><stop offset="0.5004" stop-color="rgb(203,203,203)"/><stop offset="0.5026" stop-color="rgb(241,241,241)"/><stop offset="0.6063" stop-color="rgb(253,253,253)"/><stop offset="0.9987" stop-color="rgb(253,253,253)"/></linearGradient><linearGradient id="g52" x1="0" y1="0" x2="0" y2="1"><stop offset="0.0000" stop-color="rgb(244,244,244)"/><stop offset="0.0288" stop-color="rgb(242,242,242)"/><stop offset="0.0465" stop-color="rgb(236,236,236)"/><stop offset="0.0619" stop-color="rgb(224,224,224)"/><stop offset="0.0907" stop-color="rgb(191,191,191)"/><stop offset="0.0973" stop-color="rgb(186,186,186)"/><stop offset="0.1040" stop-color="rgb(185,185,185)"/><stop offset="0.1106" stop-color="rgb(187,187,187)"/><stop offset="0.1173" stop-color="rgb(192,192,192)"/><stop offset="0.1460" stop-color="rgb(226,226,226)"/><stop offset="0.1549" stop-color="rgb(234,234,234)"/><stop offset="0.1637" stop-color="rgb(239,239,239)"/><stop offset="0.1748" stop-color="rgb(243,243,243)"/><stop offset="0.1903" stop-color="rgb(245,245,245)"/><stop offset="0.2168" stop-color="rgb(245,245,245)"/><stop offset="0.2279" stop-color="rgb(244,244,244)"/><stop offset="0.2345" stop-color="rgb(239,239,239)"/><stop offset="0.2412" stop-color="rgb(228,228,228)"/><stop offset="0.2478" stop-color="rgb(207,207,207)"/><stop offset="0.2566" stop-color="rgb(170,170,170)"/><stop offset="0.2611" stop-color="rgb(155,155,155)"/><stop offset="0.2655" stop-color="rgb(147,147,147)"/><stop offset="0.2677" stop-color="rgb(146,146,146)"/><stop offset="0.2699" stop-color="rgb(148,148,148)"/><stop offset="0.2743" stop-color="rgb(158,158,158)"/><stop offset="0.2876" stop-color="rgb(210,210,210)"/><stop offset="0.2920" stop-color="rgb(224,224,224)"/><stop offset="0.2965" stop-color="rgb(234,234,234)"/><stop offset="0.3031" stop-color="rgb(242,242,242)"/><stop offset="0.3097" stop-color="rgb(245,245,245)"/><stop offset="0.3186" stop-color="rgb(246,246,246)"/><stop offset="0.4292" stop-color="rgb(246,246,246)"/><stop offset="0.4314" stop-color="rgb(230,230,230)"/><stop offset="0.4358" stop-color="rgb(150,150,150)"/><stop offset="0.4381" stop-color="rgb(126,126,126)"/><stop offset="0.4491" stop-color="rgb(127,127,127)"/><stop offset="0.4513" stop-color="rgb(159,159,159)"/><stop offset="0.4558" stop-color="rgb(239,239,239)"/><stop offset="0.4580" stop-color="rgb(247,247,247)"/><stop offset="0.5752" stop-color="rgb(247,247,247)"/><stop offset="0.5774" stop-color="rgb(239,239,239)"/><stop offset="0.5819" stop-color="rgb(155,155,155)"/><stop offset="0.5841" stop-color="rgb(122,122,122)"/><stop offset="0.5929" stop-color="rgb(122,122,122)"/><stop offset="0.5951" stop-color="rgb(155,155,155)"/><stop offset="0.5996" stop-color="rgb(239,239,239)"/><stop offset="0.6018" stop-color="rgb(247,247,247)"/><stop offset="0.6991" stop-color="rgb(247,247,247)"/><stop offset="0.7013" stop-color="rgb(235,235,235)"/><stop offset="0.7058" stop-color="rgb(115,115,115)"/><stop offset="0.7080" stop-color="rgb(67,67,67)"/><stop offset="0.7190" stop-color="rgb(67,67,67)"/><stop offset="0.7257" stop-color="rgb(247,247,247)"/><stop offset="0.8053" stop-color="rgb(248,248,248)"/><stop offset="0.8075" stop-color="rgb(234,234,234)"/><stop offset="0.8119" stop-color="rgb(164,164,164)"/><stop offset="0.8142" stop-color="rgb(143,143,143)"/><stop offset="0.8208" stop-color="rgb(143,143,143)"/><stop offset="0.8230" stop-color="rgb(157,157,157)"/><stop offset="0.8274" stop-color="rgb(227,227,227)"/><stop offset="0.8296" stop-color="rgb(248,248,248)"/><stop offset="0.9735" stop-color="rgb(248,248,248)"/><stop offset="0.9757" stop-color="rgb(251,251,251)"/><stop offset="1.0000" stop-color="rgb(251,251,251)"/></linearGradient><linearGradient id="g53" x1="0" y1="0" x2="0" y2="1"><stop offset="0.0000" stop-color="rgb(253,253,253)"/><stop offset="0.2035" stop-color="rgb(253,253,253)"/><stop offset="0.2699" stop-color="rgb(245,245,245)"/><stop offset="0.2765" stop-color="rgb(249,249,249)"/><stop offset="0.2788" stop-color="rgb(236,236,236)"/><stop offset="0.2832" stop-color="rgb(99,99,99)"/><stop offset="0.2854" stop-color="rgb(43,43,43)"/><stop offset="0.2987" stop-color="rgb(43,43,43)"/><stop offset="0.3009" stop-color="rgb(99,99,99)"/><stop offset="0.3053" stop-color="rgb(239,239,239)"/><stop offset="0.3075" stop-color="rgb(250,250,250)"/><stop offset="0.3097" stop-color="rgb(235,235,235)"/><stop offset="0.3119" stop-color="rgb(223,223,223)"/><stop offset="0.3628" stop-color="rgb(223,223,223)"/><stop offset="0.4159" stop-color="rgb(231,231,231)"/><stop offset="0.4646" stop-color="rgb(233,233,233)"/><stop offset="0.4668" stop-color="rgb(213,213,213)"/><stop offset="0.4690" stop-color="rgb(173,173,173)"/><stop offset="0.4712" stop-color="rgb(123,123,123)"/><stop offset="0.4735" stop-color="rgb(103,103,103)"/><stop offset="0.4823" stop-color="rgb(103,103,103)"/><stop offset="0.4845" stop-color="rgb(123,123,123)"/><stop offset="0.4889" stop-color="rgb(223,223,223)"/><stop offset="0.4912" stop-color="rgb(253,253,253)"/><stop offset="0.8496" stop-color="rgb(253,253,253)"/><stop offset="0.8584" stop-color="rgb(248,248,248)"/><stop offset="0.8650" stop-color="rgb(248,248,248)"/><stop offset="0.8717" stop-color="rgb(253,253,253)"/><stop offset="1.0000" stop-color="rgb(253,253,253)"/></linearGradient><linearGradient id="g54" x1="0" y1="0" x2="0" y2="1"><stop offset="0.0000" stop-color="rgb(253,253,253)"/><stop offset="0.2058" stop-color="rgb(253,253,253)"/><stop offset="0.2699" stop-color="rgb(245,245,245)"/><stop offset="0.2788" stop-color="rgb(249,249,249)"/><stop offset="0.2810" stop-color="rgb(223,223,223)"/><stop offset="0.2854" stop-color="rgb(89,89,89)"/><stop offset="0.2876" stop-color="rgb(48,48,48)"/><stop offset="0.2965" stop-color="rgb(48,48,48)"/><stop offset="0.2987" stop-color="rgb(47,47,47)"/><stop offset="0.3009" stop-color="rgb(40,40,40)"/><stop offset="0.3053" stop-color="rgb(164,164,164)"/><stop offset="0.3075" stop-color="rgb(232,232,232)"/><stop offset="0.4646" stop-color="rgb(239,239,239)"/><stop offset="0.4668" stop-color="rgb(222,222,222)"/><stop offset="0.4712" stop-color="rgb(137,137,137)"/><stop offset="0.4735" stop-color="rgb(113,113,113)"/><stop offset="0.4823" stop-color="rgb(113,113,113)"/><stop offset="0.4845" stop-color="rgb(141,141,141)"/><stop offset="0.4889" stop-color="rgb(234,234,234)"/><stop offset="0.4912" stop-color="rgb(253,253,253)"/><stop offset="0.8496" stop-color="rgb(253,253,253)"/><stop offset="0.8584" stop-color="rgb(248,248,248)"/><stop offset="0.8650" stop-color="rgb(248,248,248)"/><stop offset="0.8717" stop-color="rgb(253,253,253)"/><stop offset="1.0000" stop-color="rgb(253,253,253)"/></linearGradient><linearGradient id="g55" x1="0" y1="0" x2="0" y2="1"><stop offset="0.0000" stop-color="rgb(253,253,253)"/><stop offset="0.2058" stop-color="rgb(253,253,253)"/><stop offset="0.2699" stop-color="rgb(245,245,245)"/><stop offset="0.2788" stop-color="rgb(249,249,249)"/><stop offset="0.2810" stop-color="rgb(225,225,225)"/><stop offset="0.2854" stop-color="rgb(97,97,97)"/><stop offset="0.2876" stop-color="rgb(58,58,58)"/><stop offset="0.2965" stop-color="rgb(58,58,58)"/><stop offset="0.2987" stop-color="rgb(56,56,56)"/><stop offset="0.3009" stop-color="rgb(48,48,48)"/><stop offset="0.3053" stop-color="rgb(161,161,161)"/><stop offset="0.3075" stop-color="rgb(227,227,227)"/><stop offset="0.4668" stop-color="rgb(236,236,236)"/><stop offset="0.4735" stop-color="rgb(111,111,111)"/><stop offset="0.4757" stop-color="rgb(113,113,113)"/><stop offset="0.4823" stop-color="rgb(113,113,113)"/><stop offset="0.4845" stop-color="rgb(122,122,122)"/><stop offset="0.4889" stop-color="rgb(216,216,216)"/><stop offset="0.4912" stop-color="rgb(253,253,253)"/><stop offset="0.8496" stop-color="rgb(253,253,253)"/><stop offset="0.8584" stop-color="rgb(248,248,248)"/><stop offset="0.8650" stop-color="rgb(248,248,248)"/><stop offset="0.8717" stop-color="rgb(253,253,253)"/><stop offset="1.0000" stop-color="rgb(253,253,253)"/></linearGradient><linearGradient id="g56" x1="0" y1="0" x2="0" y2="1"><stop offset="0.0000" stop-color="rgb(253,253,253)"/><stop offset="0.2080" stop-color="rgb(253,253,253)"/><stop offset="0.2743" stop-color="rgb(245,245,245)"/><stop offset="0.2832" stop-color="rgb(250,250,250)"/><stop offset="0.2854" stop-color="rgb(195,195,195)"/><stop offset="0.2898" stop-color="rgb(57,57,57)"/><stop offset="0.2920" stop-color="rgb(43,43,43)"/><stop offset="0.3009" stop-color="rgb(43,43,43)"/><stop offset="0.3031" stop-color="rgb(37,37,37)"/><stop offset="0.3053" stop-color="rgb(56,56,56)"/><stop offset="0.3075" stop-color="rgb(116,116,116)"/><stop offset="0.3097" stop-color="rgb(181,181,181)"/><stop offset="0.3119" stop-color="rgb(223,223,223)"/><stop offset="0.4668" stop-color="rgb(234,234,234)"/><stop offset="0.4690" stop-color="rgb(225,225,225)"/><stop offset="0.4735" stop-color="rgb(147,147,147)"/><stop offset="0.4757" stop-color="rgb(117,117,117)"/><stop offset="0.4845" stop-color="rgb(118,118,118)"/><stop offset="0.4867" stop-color="rgb(136,136,136)"/><stop offset="0.4912" stop-color="rgb(226,226,226)"/><stop offset="0.4934" stop-color="rgb(253,253,253)"/><stop offset="0.8496" stop-color="rgb(253,253,253)"/><stop offset="0.8584" stop-color="rgb(248,248,248)"/><stop offset="0.8650" stop-color="rgb(248,248,248)"/><stop offset="0.8717" stop-color="rgb(253,253,253)"/><stop offset="1.0000" stop-color="rgb(253,253,253)"/></linearGradient><linearGradient id="g57" x1="0" y1="0" x2="0" y2="1"><stop offset="0.0000" stop-color="rgb(253,253,253)"/><stop offset="0.2102" stop-color="rgb(253,253,253)"/><stop offset="0.2743" stop-color="rgb(241,241,241)"/><stop offset="0.2765" stop-color="rgb(241,241,241)"/><stop offset="0.2832" stop-color="rgb(247,247,247)"/><stop offset="0.2854" stop-color="rgb(223,223,223)"/><stop offset="0.2898" stop-color="rgb(93,93,93)"/><stop offset="0.2920" stop-color="rgb(53,53,53)"/><stop offset="0.3009" stop-color="rgb(53,53,53)"/><stop offset="0.3031" stop-color="rgb(52,52,52)"/><stop offset="0.3053" stop-color="rgb(48,48,48)"/><stop offset="0.3097" stop-color="rgb(172,172,172)"/><stop offset="0.3119" stop-color="rgb(239,239,239)"/><stop offset="0.4668" stop-color="rgb(244,244,244)"/><stop offset="0.4690" stop-color="rgb(227,227,227)"/><stop offset="0.4735" stop-color="rgb(132,132,132)"/><stop offset="0.4757" stop-color="rgb(103,103,103)"/><stop offset="0.4823" stop-color="rgb(103,103,103)"/><stop offset="0.4845" stop-color="rgb(143,143,143)"/><stop offset="0.4889" stop-color="rgb(243,243,243)"/><stop offset="0.4912" stop-color="rgb(253,253,253)"/><stop offset="0.8496" stop-color="rgb(253,253,253)"/><stop offset="0.8584" stop-color="rgb(248,248,248)"/><stop offset="0.8650" stop-color="rgb(248,248,248)"/><stop offset="0.8717" stop-color="rgb(253,253,253)"/><stop offset="1.0000" stop-color="rgb(253,253,253)"/></linearGradient><linearGradient id="g58" x1="0" y1="0" x2="0" y2="1"><stop offset="0.0000" stop-color="rgb(253,253,253)"/><stop offset="0.2102" stop-color="rgb(253,253,253)"/><stop offset="0.2743" stop-color="rgb(245,245,245)"/><stop offset="0.2832" stop-color="rgb(249,249,249)"/><stop offset="0.2854" stop-color="rgb(223,223,223)"/><stop offset="0.2898" stop-color="rgb(89,89,89)"/><stop offset="0.2920" stop-color="rgb(48,48,48)"/><stop offset="0.3009" stop-color="rgb(48,48,48)"/><stop offset="0.3031" stop-color="rgb(47,47,47)"/><stop offset="0.3053" stop-color="rgb(39,39,39)"/><stop offset="0.3097" stop-color="rgb(161,161,161)"/><stop offset="0.3119" stop-color="rgb(229,229,229)"/><stop offset="0.4668" stop-color="rgb(240,240,240)"/><stop offset="0.4690" stop-color="rgb(223,223,223)"/><stop offset="0.4735" stop-color="rgb(131,131,131)"/><stop offset="0.4757" stop-color="rgb(103,103,103)"/><stop offset="0.4823" stop-color="rgb(103,103,103)"/><stop offset="0.4845" stop-color="rgb(143,143,143)"/><stop offset="0.4889" stop-color="rgb(243,243,243)"/><stop offset="0.4912" stop-color="rgb(253,253,253)"/><stop offset="0.8496" stop-color="rgb(253,253,253)"/><stop offset="0.8584" stop-color="rgb(248,248,248)"/><stop offset="0.8650" stop-color="rgb(248,248,248)"/><stop offset="0.8717" stop-color="rgb(253,253,253)"/><stop offset="1.0000" stop-color="rgb(253,253,253)"/></linearGradient><linearGradient id="g59" x1="0" y1="0" x2="0" y2="1"><stop offset="0.0000" stop-color="rgb(253,253,253)"/><stop offset="0.2058" stop-color="rgb(253,253,253)"/><stop offset="0.2721" stop-color="rgb(245,245,245)"/><stop offset="0.2810" stop-color="rgb(250,250,250)"/><stop offset="0.2832" stop-color="rgb(213,213,213)"/><stop offset="0.2876" stop-color="rgb(88,88,88)"/><stop offset="0.2898" stop-color="rgb(63,63,63)"/><stop offset="0.2987" stop-color="rgb(63,63,63)"/><stop offset="0.3009" stop-color="rgb(60,60,60)"/><stop offset="0.3031" stop-color="rgb(64,64,64)"/><stop offset="0.3075" stop-color="rgb(176,176,176)"/><stop offset="0.3097" stop-color="rgb(227,227,227)"/><stop offset="0.4668" stop-color="rgb(237,237,237)"/><stop offset="0.4690" stop-color="rgb(205,205,205)"/><stop offset="0.4735" stop-color="rgb(122,122,122)"/><stop offset="0.4757" stop-color="rgb(113,113,113)"/><stop offset="0.4801" stop-color="rgb(113,113,113)"/><stop offset="0.4823" stop-color="rgb(122,122,122)"/><stop offset="0.4867" stop-color="rgb(216,216,216)"/><stop offset="0.4889" stop-color="rgb(253,253,253)"/><stop offset="0.8496" stop-color="rgb(253,253,253)"/><stop offset="0.8584" stop-color="rgb(248,248,248)"/><stop offset="0.8650" stop-color="rgb(248,248,248)"/><stop offset="0.8717" stop-color="rgb(253,253,253)"/><stop offset="1.0000" stop-color="rgb(253,253,253)"/></linearGradient><linearGradient id="g60" x1="0" y1="0" x2="0" y2="1"><stop offset="0.0000" stop-color="rgb(253,253,253)"/><stop offset="0.2058" stop-color="rgb(253,253,253)"/><stop offset="0.2721" stop-color="rgb(245,245,245)"/><stop offset="0.2810" stop-color="rgb(250,250,250)"/><stop offset="0.2832" stop-color="rgb(219,219,219)"/><stop offset="0.2876" stop-color="rgb(114,114,114)"/><stop offset="0.2898" stop-color="rgb(93,93,93)"/><stop offset="0.3009" stop-color="rgb(93,93,93)"/><stop offset="0.3031" stop-color="rgb(104,104,104)"/><stop offset="0.3075" stop-color="rgb(210,210,210)"/><stop offset="0.3097" stop-color="rgb(253,253,253)"/><stop offset="0.3142" stop-color="rgb(223,223,223)"/><stop offset="0.3717" stop-color="rgb(220,220,220)"/><stop offset="0.4159" stop-color="rgb(213,213,213)"/><stop offset="0.4646" stop-color="rgb(218,218,218)"/><stop offset="0.4668" stop-color="rgb(236,236,236)"/><stop offset="0.4690" stop-color="rgb(216,216,216)"/><stop offset="0.4735" stop-color="rgb(122,122,122)"/><stop offset="0.4757" stop-color="rgb(113,113,113)"/><stop offset="0.4801" stop-color="rgb(113,113,113)"/><stop offset="0.4823" stop-color="rgb(122,122,122)"/><stop offset="0.4867" stop-color="rgb(216,216,216)"/><stop offset="0.4889" stop-color="rgb(253,253,253)"/><stop offset="0.8496" stop-color="rgb(253,253,253)"/><stop offset="0.8584" stop-color="rgb(248,248,248)"/><stop offset="0.8650" stop-color="rgb(248,248,248)"/><stop offset="0.8717" stop-color="rgb(253,253,253)"/><stop offset="1.0000" stop-color="rgb(253,253,253)"/></linearGradient><linearGradient id="g61" x1="0" y1="0" x2="0" y2="1"><stop offset="0.0000" stop-color="rgb(253,253,253)"/><stop offset="0.2146" stop-color="rgb(253,253,253)"/><stop offset="0.2810" stop-color="rgb(241,241,241)"/><stop offset="0.2898" stop-color="rgb(249,249,249)"/><stop offset="0.2965" stop-color="rgb(53,53,53)"/><stop offset="0.3075" stop-color="rgb(53,53,53)"/><stop offset="0.3097" stop-color="rgb(51,51,51)"/><stop offset="0.3119" stop-color="rgb(88,88,88)"/><stop offset="0.3164" stop-color="rgb(217,217,217)"/><stop offset="0.3186" stop-color="rgb(244,244,244)"/><stop offset="0.4712" stop-color="rgb(247,247,247)"/><stop offset="0.4735" stop-color="rgb(209,209,209)"/><stop offset="0.4779" stop-color="rgb(113,113,113)"/><stop offset="0.4801" stop-color="rgb(103,103,103)"/><stop offset="0.4845" stop-color="rgb(103,103,103)"/><stop offset="0.4867" stop-color="rgb(113,113,113)"/><stop offset="0.4912" stop-color="rgb(213,213,213)"/><stop offset="0.4934" stop-color="rgb(253,253,253)"/><stop offset="0.8496" stop-color="rgb(253,253,253)"/><stop offset="0.8584" stop-color="rgb(248,248,248)"/><stop offset="0.8650" stop-color="rgb(248,248,248)"/><stop offset="0.8717" stop-color="rgb(253,253,253)"/><stop offset="1.0000" stop-color="rgb(253,253,253)"/></linearGradient><linearGradient id="g62" x1="0" y1="0" x2="0" y2="1"><stop offset="0.0000" stop-color="rgb(253,253,253)"/><stop offset="0.2124" stop-color="rgb(253,253,253)"/><stop offset="0.2788" stop-color="rgb(245,245,245)"/><stop offset="0.2876" stop-color="rgb(250,250,250)"/><stop offset="0.2898" stop-color="rgb(194,194,194)"/><stop offset="0.2942" stop-color="rgb(52,52,52)"/><stop offset="0.2965" stop-color="rgb(38,38,38)"/><stop offset="0.3053" stop-color="rgb(38,38,38)"/><stop offset="0.3075" stop-color="rgb(35,35,35)"/><stop offset="0.3097" stop-color="rgb(60,60,60)"/><stop offset="0.3142" stop-color="rgb(196,196,196)"/><stop offset="0.3164" stop-color="rgb(239,239,239)"/><stop offset="0.4690" stop-color="rgb(244,244,244)"/><stop offset="0.4712" stop-color="rgb(235,235,235)"/><stop offset="0.4757" stop-color="rgb(134,134,134)"/><stop offset="0.4779" stop-color="rgb(93,93,93)"/><stop offset="0.4845" stop-color="rgb(93,93,93)"/><stop offset="0.4867" stop-color="rgb(125,125,125)"/><stop offset="0.4912" stop-color="rgb(232,232,232)"/><stop offset="0.4934" stop-color="rgb(253,253,253)"/><stop offset="0.8496" stop-color="rgb(253,253,253)"/><stop offset="0.8584" stop-color="rgb(248,248,248)"/><stop offset="0.8650" stop-color="rgb(248,248,248)"/><stop offset="0.8717" stop-color="rgb(253,253,253)"/><stop offset="1.0000" stop-color="rgb(253,253,253)"/></linearGradient><linearGradient id="g63" x1="0" y1="0" x2="0" y2="1"><stop offset="0.0000" stop-color="rgb(249,249,249)"/><stop offset="0.2124" stop-color="rgb(249,249,249)"/><stop offset="0.2788" stop-color="rgb(241,241,241)"/><stop offset="0.2876" stop-color="rgb(246,246,246)"/><stop offset="0.2898" stop-color="rgb(212,212,212)"/><stop offset="0.2942" stop-color="rgb(128,128,128)"/><stop offset="0.2965" stop-color="rgb(119,119,119)"/><stop offset="0.3075" stop-color="rgb(119,119,119)"/><stop offset="0.3097" stop-color="rgb(136,136,136)"/><stop offset="0.3142" stop-color="rgb(223,223,223)"/><stop offset="0.3164" stop-color="rgb(246,246,246)"/><stop offset="0.3186" stop-color="rgb(228,228,228)"/><stop offset="0.3208" stop-color="rgb(214,214,214)"/><stop offset="0.3717" stop-color="rgb(209,209,209)"/><stop offset="0.4181" stop-color="rgb(194,194,194)"/><stop offset="0.4668" stop-color="rgb(204,204,204)"/><stop offset="0.4690" stop-color="rgb(226,226,226)"/><stop offset="0.4712" stop-color="rgb(237,237,237)"/><stop offset="0.4757" stop-color="rgb(121,121,121)"/><stop offset="0.4779" stop-color="rgb(74,74,74)"/><stop offset="0.4801" stop-color="rgb(74,74,74)"/><stop offset="0.4823" stop-color="rgb(71,71,71)"/><stop offset="0.4845" stop-color="rgb(65,65,65)"/><stop offset="0.4867" stop-color="rgb(94,94,94)"/><stop offset="0.4889" stop-color="rgb(146,146,146)"/><stop offset="0.4912" stop-color="rgb(201,201,201)"/><stop offset="0.4934" stop-color="rgb(225,225,225)"/><stop offset="0.5509" stop-color="rgb(248,248,248)"/><stop offset="1.0000" stop-color="rgb(249,249,249)"/></linearGradient><linearGradient id="g64" x1="0" y1="0" x2="0" y2="1"><stop offset="0.0000" stop-color="rgb(250,250,250)"/><stop offset="0.2124" stop-color="rgb(250,250,250)"/><stop offset="0.2788" stop-color="rgb(242,242,242)"/><stop offset="0.2854" stop-color="rgb(246,246,246)"/><stop offset="0.2876" stop-color="rgb(240,240,240)"/><stop offset="0.2920" stop-color="rgb(169,169,169)"/><stop offset="0.2942" stop-color="rgb(140,140,140)"/><stop offset="0.3053" stop-color="rgb(140,140,140)"/><stop offset="0.3075" stop-color="rgb(128,128,128)"/><stop offset="0.3097" stop-color="rgb(146,146,146)"/><stop offset="0.3119" stop-color="rgb(170,170,170)"/><stop offset="0.3142" stop-color="rgb(205,205,205)"/><stop offset="0.3164" stop-color="rgb(212,212,212)"/><stop offset="0.4690" stop-color="rgb(216,216,216)"/><stop offset="0.4712" stop-color="rgb(211,211,211)"/><stop offset="0.4757" stop-color="rgb(123,123,123)"/><stop offset="0.4779" stop-color="rgb(85,85,85)"/><stop offset="0.4823" stop-color="rgb(83,83,83)"/><stop offset="0.4845" stop-color="rgb(78,78,78)"/><stop offset="0.4867" stop-color="rgb(106,106,106)"/><stop offset="0.4912" stop-color="rgb(208,208,208)"/><stop offset="0.4934" stop-color="rgb(231,231,231)"/><stop offset="0.5531" stop-color="rgb(250,250,250)"/><stop offset="1.0000" stop-color="rgb(250,250,250)"/></linearGradient><linearGradient id="g65" x1="0" y1="0" x2="0" y2="1"><stop offset="0.0000" stop-color="rgb(253,253,253)"/><stop offset="0.2146" stop-color="rgb(253,253,253)"/><stop offset="0.2810" stop-color="rgb(241,241,241)"/><stop offset="0.2876" stop-color="rgb(247,247,247)"/><stop offset="0.2898" stop-color="rgb(237,237,237)"/><stop offset="0.2942" stop-color="rgb(121,121,121)"/><stop offset="0.2965" stop-color="rgb(73,73,73)"/><stop offset="0.3075" stop-color="rgb(73,73,73)"/><stop offset="0.3097" stop-color="rgb(71,71,71)"/><stop offset="0.3119" stop-color="rgb(92,92,92)"/><stop offset="0.3164" stop-color="rgb(208,208,208)"/><stop offset="0.3186" stop-color="rgb(244,244,244)"/><stop offset="0.4735" stop-color="rgb(247,247,247)"/><stop offset="0.4801" stop-color="rgb(103,103,103)"/><stop offset="0.4867" stop-color="rgb(103,103,103)"/><stop offset="0.4889" stop-color="rgb(123,123,123)"/><stop offset="0.4934" stop-color="rgb(223,223,223)"/><stop offset="0.4956" stop-color="rgb(253,253,253)"/><stop offset="0.8496" stop-color="rgb(253,253,253)"/><stop offset="0.8584" stop-color="rgb(248,248,248)"/><stop offset="0.8650" stop-color="rgb(248,248,248)"/><stop offset="0.8717" stop-color="rgb(253,253,253)"/><stop offset="1.0000" stop-color="rgb(253,253,253)"/></linearGradient><linearGradient id="g66" x1="0" y1="0" x2="0" y2="1"><stop offset="0.0000" stop-color="rgb(253,253,253)"/><stop offset="0.2102" stop-color="rgb(253,253,253)"/><stop offset="0.2765" stop-color="rgb(245,245,245)"/><stop offset="0.2854" stop-color="rgb(250,250,250)"/><stop offset="0.2920" stop-color="rgb(63,63,63)"/><stop offset="0.3031" stop-color="rgb(63,63,63)"/><stop offset="0.3053" stop-color="rgb(59,59,59)"/><stop offset="0.3075" stop-color="rgb(91,91,91)"/><stop offset="0.3097" stop-color="rgb(149,149,149)"/><stop offset="0.3119" stop-color="rgb(211,211,211)"/><stop offset="0.3142" stop-color="rgb(236,236,236)"/><stop offset="0.4690" stop-color="rgb(243,243,243)"/><stop offset="0.4712" stop-color="rgb(212,212,212)"/><stop offset="0.4757" stop-color="rgb(105,105,105)"/><stop offset="0.4779" stop-color="rgb(83,83,83)"/><stop offset="0.4845" stop-color="rgb(83,83,83)"/><stop offset="0.4912" stop-color="rgb(253,253,253)"/><stop offset="0.8496" stop-color="rgb(253,253,253)"/><stop offset="0.8584" stop-color="rgb(248,248,248)"/><stop offset="0.8650" stop-color="rgb(248,248,248)"/><stop offset="0.8717" stop-color="rgb(253,253,253)"/><stop offset="1.0000" stop-color="rgb(253,253,253)"/></linearGradient><linearGradient id="g67" x1="0" y1="0" x2="0" y2="1"><stop offset="0.0000" stop-color="rgb(253,253,253)"/><stop offset="0.2102" stop-color="rgb(253,253,253)"/><stop offset="0.2765" stop-color="rgb(245,245,245)"/><stop offset="0.2854" stop-color="rgb(250,250,250)"/><stop offset="0.2920" stop-color="rgb(93,93,93)"/><stop offset="0.3053" stop-color="rgb(93,93,93)"/><stop offset="0.3075" stop-color="rgb(125,125,125)"/><stop offset="0.3119" stop-color="rgb(232,232,232)"/><stop offset="0.3142" stop-color="rgb(249,249,249)"/><stop offset="0.3186" stop-color="rgb(228,228,228)"/><stop offset="0.3717" stop-color="rgb(223,223,223)"/><stop offset="0.4336" stop-color="rgb(208,208,208)"/><stop offset="0.4668" stop-color="rgb(213,213,213)"/><stop offset="0.4690" stop-color="rgb(233,233,233)"/><stop offset="0.4712" stop-color="rgb(217,217,217)"/><stop offset="0.4757" stop-color="rgb(97,97,97)"/><stop offset="0.4779" stop-color="rgb(73,73,73)"/><stop offset="0.4801" stop-color="rgb(73,73,73)"/><stop offset="0.4845" stop-color="rgb(60,60,60)"/><stop offset="0.4889" stop-color="rgb(165,165,165)"/><stop offset="0.4912" stop-color="rgb(224,224,224)"/><stop offset="0.5597" stop-color="rgb(253,253,253)"/><stop offset="1.0000" stop-color="rgb(253,253,253)"/></linearGradient><linearGradient id="g68" x1="0" y1="0" x2="0" y2="1"><stop offset="0.0000" stop-color="rgb(250,250,250)"/><stop offset="0.2102" stop-color="rgb(250,250,250)"/><stop offset="0.2743" stop-color="rgb(242,242,242)"/><stop offset="0.2832" stop-color="rgb(246,246,246)"/><stop offset="0.2854" stop-color="rgb(243,243,243)"/><stop offset="0.2898" stop-color="rgb(222,222,222)"/><stop offset="0.2920" stop-color="rgb(215,215,215)"/><stop offset="0.3053" stop-color="rgb(215,215,215)"/><stop offset="0.3119" stop-color="rgb(250,250,250)"/><stop offset="0.3142" stop-color="rgb(245,245,245)"/><stop offset="0.3186" stop-color="rgb(220,220,220)"/><stop offset="0.3717" stop-color="rgb(215,215,215)"/><stop offset="0.4159" stop-color="rgb(205,205,205)"/><stop offset="0.4624" stop-color="rgb(210,210,210)"/><stop offset="0.4646" stop-color="rgb(237,237,237)"/><stop offset="0.4668" stop-color="rgb(238,238,238)"/><stop offset="0.4712" stop-color="rgb(198,198,198)"/><stop offset="0.4735" stop-color="rgb(190,190,190)"/><stop offset="0.4801" stop-color="rgb(190,190,190)"/><stop offset="0.4867" stop-color="rgb(250,250,250)"/><stop offset="1.0000" stop-color="rgb(250,250,250)"/></linearGradient></defs><rect width="685" height="895" fill="#fff"/><text x="3.70" y="17.50" font-size="24" font-weight="bold">a)</text><text x="46.00" y="17.30" font-size="12.7" font-weight="bold" letter-spacing="0.2">A2780</text><text transform="translate(48.40,64.70) rotate(-90)" font-size="12">Ladder</text><text x="5.90" y="60.60" font-size="13">[nt]</text><rect x="56.10" y="48.90" width="64.00" height="1.4" fill="#000"/><text x="89.55" y="44.40" font-size="14" font-weight="bold" text-anchor="middle">8 h</text><rect x="125.60" y="48.90" width="64.00" height="1.4" fill="#000"/><text x="160.50" y="44.40" font-size="14" font-weight="bold" text-anchor="middle">24 h</text><rect x="195.10" y="48.90" width="64.00" height="1.4" fill="#000"/><text x="230.50" y="44.40" font-size="14" font-weight="bold" text-anchor="middle">48 h</text><rect x="264.60" y="48.90" width="64.00" height="1.4" fill="#000"/><text x="299.50" y="44.40" font-size="14" font-weight="bold" text-anchor="middle">72 h</text><text x="62.75" y="62.40" font-size="12.4" text-anchor="middle">0</text><text x="80.20" y="62.40" font-size="12.4" text-anchor="middle">0.1</text><text x="97.65" y="62.40" font-size="12.4" text-anchor="middle">1</text><text x="115.10" y="62.40" font-size="12.4" text-anchor="middle">10</text><text x="132.55" y="62.40" font-size="12.4" text-anchor="middle">0</text><text x="150.00" y="62.40" font-size="12.4" text-anchor="middle">0.1</text><text x="167.45" y="62.40" font-size="12.4" text-anchor="middle">1</text><text x="184.90" y="62.40" font-size="12.4" text-anchor="middle">10</text><text x="202.35" y="62.40" font-size="12.4" text-anchor="middle">0</text><text x="219.80" y="62.40" font-size="12.4" text-anchor="middle">0.1</text><text x="237.25" y="62.40" font-size="12.4" text-anchor="middle">1</text><text x="254.70" y="62.40" font-size="12.4" text-anchor="middle">10</text><text x="272.15" y="62.40" font-size="12.4" text-anchor="middle">0</text><text x="289.60" y="62.40" font-size="12.4" text-anchor="middle">0.1</text><text x="307.05" y="62.40" font-size="12.4" text-anchor="middle">1</text><text x="324.50" y="62.40" font-size="12.4" text-anchor="middle">10</text><text x="333.60" y="60.10" font-size="12.2">DOX (µM)</text><rect x="37.30" y="65.00" width="14.60" height="113.00" fill="url(#g1)"/><rect x="54.95" y="65.00" width="15.00" height="113.00" fill="url(#g2)"/><rect x="72.40" y="65.00" width="15.00" height="113.00" fill="url(#g3)"/><rect x="89.85" y="65.00" width="15.00" height="113.00" fill="url(#g4)"/><rect x="107.30" y="65.00" width="15.00" height="113.00" fill="url(#g5)"/><rect x="124.75" y="65.00" width="15.00" height="113.00" fill="url(#g6)"/><rect x="142.20" y="65.00" width="15.00" height="113.00" fill="url(#g7)"/><rect x="159.65" y="65.00" width="15.00" height="113.00" fill="url(#g8)"/><rect x="177.10" y="65.00" width="15.00" height="113.00" fill="url(#g9)"/><rect x="194.55" y="65.00" width="15.00" height="113.00" fill="url(#g10)"/><rect x="212.00" y="65.00" width="15.00" height="113.00" fill="url(#g11)"/><rect x="229.45" y="65.00" width="15.00" height="113.00" fill="url(#g12)"/><rect x="246.90" y="65.00" width="15.00" height="113.00" fill="url(#g13)"/><rect x="264.35" y="65.00" width="15.00" height="113.00" fill="url(#g14)"/><rect x="281.80" y="65.00" width="15.00" height="113.00" fill="url(#g15)"/><rect x="299.25" y="65.00" width="15.00" height="113.00" fill="url(#g16)"/><rect x="316.70" y="65.00" width="15.00" height="113.00" fill="url(#g17)"/><rect x="37.30" y="176.00" width="14.60" height="1.8" fill="#0a8a0a"/><rect x="54.95" y="176.00" width="15.00" height="1.8" fill="#0a8a0a"/><rect x="72.40" y="176.00" width="15.00" height="1.8" fill="#0a8a0a"/><rect x="89.85" y="176.00" width="15.00" height="1.8" fill="#0a8a0a"/><rect x="107.30" y="176.00" width="15.00" height="1.8" fill="#0a8a0a"/><rect x="124.75" y="176.00" width="15.00" height="1.8" fill="#0a8a0a"/><rect x="142.20" y="176.00" width="15.00" height="1.8" fill="#0a8a0a"/><rect x="159.65" y="176.00" width="15.00" height="1.8" fill="#0a8a0a"/><rect x="177.10" y="176.00" width="15.00" height="1.8" fill="#0a8a0a"/><rect x="194.55" y="176.00" width="15.00" height="1.8" fill="#0a8a0a"/><rect x="212.00" y="176.00" width="15.00" height="1.8" fill="#0a8a0a"/><rect x="229.45" y="176.00" width="15.00" height="1.8" fill="#0a8a0a"/><rect x="246.90" y="176.00" width="15.00" height="1.8" fill="#0a8a0a"/><rect x="264.35" y="176.00" width="15.00" height="1.8" fill="#0a8a0a"/><rect x="281.80" y="176.00" width="15.00" height="1.8" fill="#0a8a0a"/><rect x="299.25" y="176.00" width="15.00" height="1.8" fill="#0a8a0a"/><rect x="316.70" y="176.00" width="15.00" height="1.8" fill="#0a8a0a"/><text x="27.20" y="77.45" font-size="12.5" text-anchor="end">6000</text><rect x="31.4" y="72.80" width="3.3" height="1.2" fill="#000"/><text x="27.20" y="97.55" font-size="12.5" text-anchor="end">4000</text><rect x="31.4" y="92.90" width="3.3" height="1.2" fill="#000"/><text x="27.20" y="118.35" font-size="12.5" text-anchor="end">2000</text><rect x="31.4" y="113.70" width="3.3" height="1.2" fill="#000"/><text x="27.20" y="134.45" font-size="12.5" text-anchor="end">1000</text><rect x="31.4" y="129.80" width="3.3" height="1.2" fill="#000"/><text x="27.20" y="149.25" font-size="12.5" text-anchor="end">500</text><rect x="31.4" y="144.60" width="3.3" height="1.2" fill="#000"/><text x="27.20" y="161.35" font-size="12.5" text-anchor="end">200</text><rect x="31.4" y="156.70" width="3.3" height="1.2" fill="#000"/><text x="27.20" y="180.15" font-size="12.5" text-anchor="end">25</text><rect x="31.4" y="175.50" width="3.3" height="1.2" fill="#000"/><path d="M332.30,99.30 L342.30,94.70 L341.10,98.20 L349.70,98.20 L349.70,100.40 L341.10,100.40 L342.30,103.90 Z" fill="#000"/><text x="350.20" y="104.90" font-size="15">28S</text><path d="M332.30,118.70 L342.30,114.10 L341.10,117.60 L349.70,117.60 L349.70,119.80 L341.10,119.80 L342.30,123.30 Z" fill="#000"/><text x="350.20" y="124.30" font-size="15">18S</text><rect x="502.25" y="60.40" width="1.3" height="1.3" fill="#000"/><rect x="502.25" y="66.70" width="1.3" height="1.3" fill="#000"/><rect x="502.25" y="73.00" width="1.3" height="1.3" fill="#000"/><rect x="502.25" y="79.30" width="1.3" height="1.3" fill="#000"/><rect x="502.25" y="85.60" width="1.3" height="1.3" fill="#000"/><rect x="502.25" y="91.90" width="1.3" height="1.3" fill="#000"/><rect x="502.25" y="98.20" width="1.3" height="1.3" fill="#000"/><rect x="502.25" y="104.50" width="1.3" height="1.3" fill="#000"/><rect x="502.25" y="110.80" width="1.3" height="1.3" fill="#000"/><rect x="502.25" y="117.10" width="1.3" height="1.3" fill="#000"/><rect x="502.25" y="123.40" width="1.3" height="1.3" fill="#000"/><rect x="502.25" y="129.70" width="1.3" height="1.3" fill="#000"/><rect x="502.25" y="136.00" width="1.3" height="1.3" fill="#000"/><rect x="502.25" y="142.30" width="1.3" height="1.3" fill="#000"/><rect x="502.25" y="148.60" width="1.3" height="1.3" fill="#000"/><rect x="502.25" y="154.90" width="1.3" height="1.3" fill="#000"/><rect x="502.25" y="161.20" width="1.3" height="1.3" fill="#000"/><rect x="502.25" y="167.50" width="1.3" height="1.3" fill="#000"/><rect x="502.25" y="173.80" width="1.3" height="1.3" fill="#000"/><rect x="561.02" y="60.40" width="1.3" height="1.3" fill="#000"/><rect x="561.02" y="66.70" width="1.3" height="1.3" fill="#000"/><rect x="561.02" y="73.00" width="1.3" height="1.3" fill="#000"/><rect x="561.02" y="79.30" width="1.3" height="1.3" fill="#000"/><rect x="561.02" y="85.60" width="1.3" height="1.3" fill="#000"/><rect x="561.02" y="91.90" width="1.3" height="1.3" fill="#000"/><rect x="561.02" y="98.20" width="1.3" height="1.3" fill="#000"/><rect x="561.02" y="104.50" width="1.3" height="1.3" fill="#000"/><rect x="561.02" y="110.80" width="1.3" height="1.3" fill="#000"/><rect x="561.02" y="117.10" width="1.3" height="1.3" fill="#000"/><rect x="561.02" y="123.40" width="1.3" height="1.3" fill="#000"/><rect x="561.02" y="129.70" width="1.3" height="1.3" fill="#000"/><rect x="561.02" y="136.00" width="1.3" height="1.3" fill="#000"/><rect x="561.02" y="142.30" width="1.3" height="1.3" fill="#000"/><rect x="561.02" y="148.60" width="1.3" height="1.3" fill="#000"/><rect x="561.02" y="154.90" width="1.3" height="1.3" fill="#000"/><rect x="561.02" y="161.20" width="1.3" height="1.3" fill="#000"/><rect x="561.02" y="167.50" width="1.3" height="1.3" fill="#000"/><rect x="561.02" y="173.80" width="1.3" height="1.3" fill="#000"/><rect x="619.79" y="60.40" width="1.3" height="1.3" fill="#000"/><rect x="619.79" y="66.70" width="1.3" height="1.3" fill="#000"/><rect x="619.79" y="73.00" width="1.3" height="1.3" fill="#000"/><rect x="619.79" y="79.30" width="1.3" height="1.3" fill="#000"/><rect x="619.79" y="85.60" width="1.3" height="1.3" fill="#000"/><rect x="619.79" y="91.90" width="1.3" height="1.3" fill="#000"/><rect x="619.79" y="98.20" width="1.3" height="1.3" fill="#000"/><rect x="619.79" y="104.50" width="1.3" height="1.3" fill="#000"/><rect x="619.79" y="110.80" width="1.3" height="1.3" fill="#000"/><rect x="619.79" y="117.10" width="1.3" height="1.3" fill="#000"/><rect x="619.79" y="123.40" width="1.3" height="1.3" fill="#000"/><rect x="619.79" y="129.70" width="1.3" height="1.3" fill="#000"/><rect x="619.79" y="136.00" width="1.3" height="1.3" fill="#000"/><rect x="619.79" y="142.30" width="1.3" height="1.3" fill="#000"/><rect x="619.79" y="148.60" width="1.3" height="1.3" fill="#000"/><rect x="619.79" y="154.90" width="1.3" height="1.3" fill="#000"/><rect x="619.79" y="161.20" width="1.3" height="1.3" fill="#000"/><rect x="619.79" y="167.50" width="1.3" height="1.3" fill="#000"/><rect x="619.79" y="173.80" width="1.3" height="1.3" fill="#000"/><rect x="450.05" y="135.85" width="11.75" height="40.35" fill="#c0c0c0" stroke="#000" stroke-width="1.55"/><rect x="461.80" y="137.85" width="11.75" height="38.35" fill="#c0c0c0" stroke="#000" stroke-width="1.55"/><rect x="473.55" y="133.15" width="11.75" height="43.05" fill="#c0c0c0" stroke="#000" stroke-width="1.55"/><rect x="485.30" y="129.95" width="11.75" height="46.25" fill="#c0c0c0" stroke="#000" stroke-width="1.55"/><rect x="508.82" y="139.25" width="11.75" height="36.95" fill="#c0c0c0" stroke="#000" stroke-width="1.55"/><rect x="520.57" y="135.85" width="11.75" height="40.35" fill="#c0c0c0" stroke="#000" stroke-width="1.55"/><rect x="532.32" y="123.85" width="11.75" height="52.35" fill="#c0c0c0" stroke="#000" stroke-width="1.55"/><rect x="544.07" y="121.25" width="11.75" height="54.95" fill="#c0c0c0" stroke="#000" stroke-width="1.55"/><rect x="567.59" y="146.55" width="11.75" height="29.65" fill="#c0c0c0" stroke="#000" stroke-width="1.55"/><rect x="579.34" y="133.25" width="11.75" height="42.95" fill="#c0c0c0" stroke="#000" stroke-width="1.55"/><rect x="591.09" y="101.25" width="11.75" height="74.95" fill="#c0c0c0" stroke="#000" stroke-width="1.55"/><rect x="602.84" y="108.15" width="11.75" height="68.05" fill="#c0c0c0" stroke="#000" stroke-width="1.55"/><rect x="626.36" y="147.85" width="11.75" height="28.35" fill="#c0c0c0" stroke="#000" stroke-width="1.55"/><rect x="638.11" y="133.95" width="11.75" height="42.25" fill="#c0c0c0" stroke="#000" stroke-width="1.55"/><rect x="649.86" y="82.25" width="11.75" height="93.95" fill="#c0c0c0" stroke="#000" stroke-width="1.55"/><rect x="661.61" y="101.45" width="11.75" height="74.75" fill="#c0c0c0" stroke="#000" stroke-width="1.55"/><rect x="455.32" y="131.70" width="1.2" height="4.00" fill="#000"/><rect x="451.72" y="131.05" width="8.4" height="1.3" fill="#000"/><circle cx="456.12" cy="131.70" r="2.1" fill="#a80012" stroke="#000" stroke-width="1.35"/><circle cx="455.92" cy="137.40" r="2.1" fill="#ee7077" stroke="#000" stroke-width="1.35"/><circle cx="455.12" cy="140.70" r="2.1" fill="#a80012" stroke="#000" stroke-width="1.35"/><text x="455.92" y="124.20" font-size="9.4" text-anchor="middle">a</text><rect x="467.07" y="133.30" width="1.2" height="4.40" fill="#000"/><rect x="463.47" y="132.65" width="8.4" height="1.3" fill="#000"/><circle cx="467.07" cy="131.70" r="2.1" fill="#ee7077" stroke="#000" stroke-width="1.35"/><circle cx="466.47" cy="137.60" r="2.1" fill="#a80012" stroke="#000" stroke-width="1.35"/><circle cx="466.87" cy="141.10" r="2.1" fill="#ee7077" stroke="#000" stroke-width="1.35"/><circle cx="468.87" cy="144.70" r="2.1" fill="#ee7077" stroke="#000" stroke-width="1.35"/><text x="467.67" y="124.30" font-size="9.4" text-anchor="middle">a</text><rect x="478.82" y="128.90" width="1.2" height="4.10" fill="#000"/><rect x="475.22" y="128.25" width="8.4" height="1.3" fill="#000"/><circle cx="479.92" cy="127.00" r="2.1" fill="#ee7077" stroke="#000" stroke-width="1.35"/><circle cx="478.52" cy="132.10" r="2.1" fill="#a80012" stroke="#000" stroke-width="1.35"/><circle cx="479.52" cy="137.70" r="2.1" fill="#a80012" stroke="#000" stroke-width="1.35"/><text x="479.42" y="119.90" font-size="9.4" text-anchor="middle">a</text><rect x="490.57" y="124.80" width="1.2" height="5.00" fill="#000"/><rect x="486.97" y="124.15" width="8.4" height="1.3" fill="#000"/><circle cx="490.77" cy="124.20" r="2.1" fill="#a80012" stroke="#000" stroke-width="1.35"/><circle cx="491.07" cy="127.50" r="2.1" fill="#a80012" stroke="#000" stroke-width="1.35"/><circle cx="491.27" cy="135.60" r="2.1" fill="#ee7077" stroke="#000" stroke-width="1.35"/><circle cx="490.27" cy="137.60" r="2.1" fill="#a80012" stroke="#000" stroke-width="1.35"/><text x="491.17" y="116.80" font-size="9.4" text-anchor="middle">a</text><rect x="514.09" y="133.90" width="1.2" height="5.20" fill="#000"/><rect x="510.49" y="133.25" width="8.4" height="1.3" fill="#000"/><circle cx="513.69" cy="131.70" r="2.1" fill="#ee7077" stroke="#000" stroke-width="1.35"/><circle cx="514.29" cy="137.80" r="2.1" fill="#a80012" stroke="#000" stroke-width="1.35"/><circle cx="514.29" cy="141.10" r="2.1" fill="#ee7077" stroke="#000" stroke-width="1.35"/><circle cx="513.69" cy="144.90" r="2.1" fill="#a80012" stroke="#000" stroke-width="1.35"/><text x="514.69" y="124.20" font-size="9.4" text-anchor="middle">a</text><rect x="525.84" y="132.10" width="1.2" height="3.60" fill="#000"/><rect x="522.24" y="131.45" width="8.4" height="1.3" fill="#000"/><circle cx="525.94" cy="130.50" r="2.1" fill="#a80012" stroke="#000" stroke-width="1.35"/><circle cx="525.94" cy="133.60" r="2.1" fill="#a80012" stroke="#000" stroke-width="1.35"/><circle cx="526.74" cy="144.80" r="2.1" fill="#a80012" stroke="#000" stroke-width="1.35"/><text x="526.44" y="123.10" font-size="9.4" text-anchor="middle">ab</text><rect x="537.59" y="117.30" width="1.2" height="6.40" fill="#000"/><rect x="533.99" y="116.65" width="8.4" height="1.3" fill="#000"/><circle cx="538.09" cy="115.90" r="2.1" fill="#ee7077" stroke="#000" stroke-width="1.35"/><circle cx="538.49" cy="120.90" r="2.1" fill="#a80012" stroke="#000" stroke-width="1.35"/><circle cx="537.29" cy="137.80" r="2.1" fill="#a80012" stroke="#000" stroke-width="1.35"/><text x="538.19" y="109.10" font-size="9.4" text-anchor="middle">bc</text><rect x="549.34" y="113.90" width="1.2" height="7.20" fill="#000"/><rect x="545.74" y="113.25" width="8.4" height="1.3" fill="#000"/><circle cx="549.94" cy="111.20" r="2.1" fill="#ee7077" stroke="#000" stroke-width="1.35"/><circle cx="550.54" cy="118.90" r="2.1" fill="#a80012" stroke="#000" stroke-width="1.35"/><circle cx="550.24" cy="125.20" r="2.1" fill="#ee7077" stroke="#000" stroke-width="1.35"/><circle cx="549.14" cy="129.30" r="2.1" fill="#a80012" stroke="#000" stroke-width="1.35"/><text x="549.94" y="103.40" font-size="9.4" text-anchor="middle">c</text><rect x="572.86" y="143.50" width="1.2" height="2.90" fill="#000"/><rect x="569.26" y="142.85" width="8.4" height="1.3" fill="#000"/><circle cx="572.96" cy="145.00" r="2.1" fill="#a80012" stroke="#000" stroke-width="1.35"/><circle cx="573.46" cy="151.80" r="2.1" fill="#ee7077" stroke="#000" stroke-width="1.35"/><text x="573.46" y="136.90" font-size="9.4" text-anchor="middle">a</text><rect x="584.61" y="127.40" width="1.2" height="5.70" fill="#000"/><rect x="581.01" y="126.75" width="8.4" height="1.3" fill="#000"/><circle cx="584.01" cy="126.00" r="2.1" fill="#a80012" stroke="#000" stroke-width="1.35"/><circle cx="586.31" cy="128.40" r="2.1" fill="#ee7077" stroke="#000" stroke-width="1.35"/><circle cx="584.21" cy="133.40" r="2.1" fill="#ee7077" stroke="#000" stroke-width="1.35"/><circle cx="584.01" cy="140.70" r="2.1" fill="#ee7077" stroke="#000" stroke-width="1.35"/><circle cx="585.81" cy="145.00" r="2.1" fill="#ee7077" stroke="#000" stroke-width="1.35"/><text x="585.21" y="118.00" font-size="9.4" text-anchor="middle">b</text><rect x="596.36" y="94.50" width="1.2" height="6.60" fill="#000"/><rect x="592.76" y="93.85" width="8.4" height="1.3" fill="#000"/><circle cx="596.66" cy="91.60" r="2.1" fill="#ee7077" stroke="#000" stroke-width="1.35"/><circle cx="597.16" cy="100.60" r="2.1" fill="#a80012" stroke="#000" stroke-width="1.35"/><circle cx="596.26" cy="106.10" r="2.1" fill="#ee7077" stroke="#000" stroke-width="1.35"/><circle cx="597.16" cy="109.70" r="2.1" fill="#ee7077" stroke="#000" stroke-width="1.35"/><text x="596.96" y="83.80" font-size="9.4" text-anchor="middle">c</text><rect x="608.11" y="103.70" width="1.2" height="4.30" fill="#000"/><rect x="604.51" y="103.05" width="8.4" height="1.3" fill="#000"/><circle cx="608.21" cy="103.20" r="2.1" fill="#a80012" stroke="#000" stroke-width="1.35"/><circle cx="608.61" cy="105.60" r="2.1" fill="#a80012" stroke="#000" stroke-width="1.35"/><circle cx="609.61" cy="112.20" r="2.1" fill="#ee7077" stroke="#000" stroke-width="1.35"/><circle cx="607.21" cy="116.70" r="2.1" fill="#ee7077" stroke="#000" stroke-width="1.35"/><text x="608.71" y="95.90" font-size="9.4" text-anchor="middle">c</text><rect x="631.63" y="144.40" width="1.2" height="3.30" fill="#000"/><rect x="628.03" y="143.75" width="8.4" height="1.3" fill="#000"/><circle cx="631.24" cy="144.80" r="2.1" fill="#a80012" stroke="#000" stroke-width="1.35"/><circle cx="631.53" cy="152.00" r="2.1" fill="#a80012" stroke="#000" stroke-width="1.35"/><text x="632.24" y="137.10" font-size="9.4" text-anchor="middle">a</text><rect x="643.38" y="129.70" width="1.2" height="4.10" fill="#000"/><rect x="639.78" y="129.05" width="8.4" height="1.3" fill="#000"/><circle cx="643.19" cy="129.10" r="2.1" fill="#a80012" stroke="#000" stroke-width="1.35"/><circle cx="643.78" cy="133.80" r="2.1" fill="#a80012" stroke="#000" stroke-width="1.35"/><circle cx="642.49" cy="137.70" r="2.1" fill="#ee7077" stroke="#000" stroke-width="1.35"/><circle cx="644.38" cy="141.10" r="2.1" fill="#ee7077" stroke="#000" stroke-width="1.35"/><text x="643.99" y="120.90" font-size="9.4" text-anchor="middle">b</text><rect x="655.13" y="75.10" width="1.2" height="7.00" fill="#000"/><rect x="651.53" y="74.45" width="8.4" height="1.3" fill="#000"/><circle cx="654.44" cy="73.80" r="2.1" fill="#ee7077" stroke="#000" stroke-width="1.35"/><circle cx="655.34" cy="81.00" r="2.1" fill="#a80012" stroke="#000" stroke-width="1.35"/><circle cx="655.34" cy="88.30" r="2.1" fill="#ee7077" stroke="#000" stroke-width="1.35"/><circle cx="655.03" cy="94.10" r="2.1" fill="#ee7077" stroke="#000" stroke-width="1.35"/><text x="655.74" y="66.10" font-size="9.4" text-anchor="middle">c</text><rect x="666.88" y="97.50" width="1.2" height="3.80" fill="#000"/><rect x="663.28" y="96.85" width="8.4" height="1.3" fill="#000"/><circle cx="665.88" cy="98.00" r="2.1" fill="#a80012" stroke="#000" stroke-width="1.35"/><circle cx="667.28" cy="103.10" r="2.1" fill="#ee7077" stroke="#000" stroke-width="1.35"/><circle cx="667.59" cy="106.80" r="2.1" fill="#ee7077" stroke="#000" stroke-width="1.35"/><text x="667.49" y="89.60" font-size="9.4" text-anchor="middle">d</text><rect x="440.00" y="55.20" width="2" height="121.90" fill="#000"/><rect x="440.00" y="175.30" width="242.00" height="1.6" fill="#505050"/><rect x="436.7" y="55.20" width="4.5" height="1.2" fill="#000"/><text x="433.90" y="59.90" font-size="9.6" text-anchor="end">1000</text><rect x="438.4" y="72.13" width="2.8" height="1" fill="#000"/><rect x="438.4" y="67.89" width="2.8" height="1" fill="#000"/><rect x="438.4" y="64.88" width="2.8" height="1" fill="#000"/><rect x="438.4" y="62.55" width="2.8" height="1" fill="#000"/><rect x="438.4" y="60.64" width="2.8" height="1" fill="#000"/><rect x="438.4" y="59.03" width="2.8" height="1" fill="#000"/><rect x="438.4" y="57.63" width="2.8" height="1" fill="#000"/><rect x="438.4" y="56.40" width="2.8" height="1" fill="#000"/><rect x="436.7" y="79.28" width="4.5" height="1.2" fill="#000"/><text x="433.90" y="83.98" font-size="9.6" text-anchor="end">100</text><rect x="438.4" y="96.21" width="2.8" height="1" fill="#000"/><rect x="438.4" y="91.97" width="2.8" height="1" fill="#000"/><rect x="438.4" y="88.96" width="2.8" height="1" fill="#000"/><rect x="438.4" y="86.63" width="2.8" height="1" fill="#000"/><rect x="438.4" y="84.72" width="2.8" height="1" fill="#000"/><rect x="438.4" y="83.11" width="2.8" height="1" fill="#000"/><rect x="438.4" y="81.71" width="2.8" height="1" fill="#000"/><rect x="438.4" y="80.48" width="2.8" height="1" fill="#000"/><rect x="436.7" y="103.36" width="4.5" height="1.2" fill="#000"/><text x="433.90" y="108.06" font-size="9.6" text-anchor="end">10</text><rect x="438.4" y="120.29" width="2.8" height="1" fill="#000"/><rect x="438.4" y="116.05" width="2.8" height="1" fill="#000"/><rect x="438.4" y="113.04" width="2.8" height="1" fill="#000"/><rect x="438.4" y="110.71" width="2.8" height="1" fill="#000"/><rect x="438.4" y="108.80" width="2.8" height="1" fill="#000"/><rect x="438.4" y="107.19" width="2.8" height="1" fill="#000"/><rect x="438.4" y="105.79" width="2.8" height="1" fill="#000"/><rect x="438.4" y="104.56" width="2.8" height="1" fill="#000"/><rect x="436.7" y="127.44" width="4.5" height="1.2" fill="#000"/><text x="433.90" y="132.14" font-size="9.6" text-anchor="end">1</text><rect x="438.4" y="144.37" width="2.8" height="1" fill="#000"/><rect x="438.4" y="140.13" width="2.8" height="1" fill="#000"/><rect x="438.4" y="137.12" width="2.8" height="1" fill="#000"/><rect x="438.4" y="134.79" width="2.8" height="1" fill="#000"/><rect x="438.4" y="132.88" width="2.8" height="1" fill="#000"/><rect x="438.4" y="131.27" width="2.8" height="1" fill="#000"/><rect x="438.4" y="129.87" width="2.8" height="1" fill="#000"/><rect x="438.4" y="128.64" width="2.8" height="1" fill="#000"/><rect x="436.7" y="151.52" width="4.5" height="1.2" fill="#000"/><text x="433.90" y="156.22" font-size="9.6" text-anchor="end">0.1</text><rect x="438.4" y="168.45" width="2.8" height="1" fill="#000"/><rect x="438.4" y="164.21" width="2.8" height="1" fill="#000"/><rect x="438.4" y="161.20" width="2.8" height="1" fill="#000"/><rect x="438.4" y="158.87" width="2.8" height="1" fill="#000"/><rect x="438.4" y="156.96" width="2.8" height="1" fill="#000"/><rect x="438.4" y="155.35" width="2.8" height="1" fill="#000"/><rect x="438.4" y="153.95" width="2.8" height="1" fill="#000"/><rect x="438.4" y="152.72" width="2.8" height="1" fill="#000"/><rect x="436.7" y="175.60" width="4.5" height="1.2" fill="#000"/><text x="433.90" y="180.30" font-size="9.6" text-anchor="end">0.01</text><text x="473.20" y="64.80" font-size="12" font-weight="bold" text-anchor="middle">8 h</text><text x="532.00" y="64.80" font-size="12" font-weight="bold" text-anchor="middle">24 h</text><text x="590.50" y="64.80" font-size="12" font-weight="bold" text-anchor="middle">48 h</text><text x="637.80" y="64.80" font-size="12" font-weight="bold" text-anchor="middle">72 h</text><text transform="translate(459.52,183.60) rotate(-90)" font-size="10" text-anchor="end">0</text><text transform="translate(471.27,184.70) rotate(-90)" font-size="10" text-anchor="end">0.1</text><text transform="translate(483.02,184.70) rotate(-90)" font-size="10" text-anchor="end">1</text><text transform="translate(494.77,183.60) rotate(-90)" font-size="10" text-anchor="end">10</text><text transform="translate(518.29,183.60) rotate(-90)" font-size="10" text-anchor="end">0</text><text transform="translate(530.04,184.70) rotate(-90)" font-size="10" text-anchor="end">0.1</text><text transform="translate(541.79,184.70) rotate(-90)" font-size="10" text-anchor="end">1</text><text transform="translate(553.54,183.60) rotate(-90)" font-size="10" text-anchor="end">10</text><text transform="translate(577.06,183.60) rotate(-90)" font-size="10" text-anchor="end">0</text><text transform="translate(588.81,184.70) rotate(-90)" font-size="10" text-anchor="end">0.1</text><text transform="translate(600.56,184.70) rotate(-90)" font-size="10" text-anchor="end">1</text><text transform="translate(612.31,183.60) rotate(-90)" font-size="10" text-anchor="end">10</text><text transform="translate(635.84,183.60) rotate(-90)" font-size="10" text-anchor="end">0</text><text transform="translate(647.59,184.70) rotate(-90)" font-size="10" text-anchor="end">0.1</text><text transform="translate(659.34,184.70) rotate(-90)" font-size="10" text-anchor="end">1</text><text transform="translate(671.09,183.60) rotate(-90)" font-size="10" text-anchor="end">10</text><text transform="translate(402.40,113.30) rotate(-90)" font-size="11.5" font-weight="bold" text-anchor="middle">RNA disruption index</text><text x="562.30" y="214.00" font-size="11.6" font-weight="bold" text-anchor="middle">[Doxorubicin] (uM)</text><text x="3.90" y="240.10" font-size="24" font-weight="bold">b)</text><text x="48.10" y="240.10" font-size="12.5" font-weight="bold" letter-spacing="0.2">K562</text><text transform="translate(47.80,287.30) rotate(-90)" font-size="12.4">Ladder</text><text x="6.40" y="283.90" font-size="13">[nt]</text><rect x="55.00" y="272.40" width="64.00" height="1.4" fill="#000"/><text x="88.30" y="267.30" font-size="14" font-weight="bold" text-anchor="middle">8 h</text><rect x="124.67" y="272.40" width="64.00" height="1.4" fill="#000"/><text x="158.50" y="267.30" font-size="14" font-weight="bold" text-anchor="middle">24 h</text><rect x="194.34" y="272.40" width="64.00" height="1.4" fill="#000"/><text x="229.10" y="267.30" font-size="14" font-weight="bold" text-anchor="middle">48 h</text><rect x="264.01" y="272.40" width="64.00" height="1.4" fill="#000"/><text x="298.50" y="267.30" font-size="14" font-weight="bold" text-anchor="middle">72 h</text><text x="61.85" y="285.70" font-size="12.4" text-anchor="middle">0</text><text x="79.42" y="285.70" font-size="12.4" text-anchor="middle">0.1</text><text x="96.99" y="285.70" font-size="12.4" text-anchor="middle">1</text><text x="114.56" y="285.70" font-size="12.4" text-anchor="middle">10</text><text x="132.13" y="285.70" font-size="12.4" text-anchor="middle">0</text><text x="149.70" y="285.70" font-size="12.4" text-anchor="middle">0.1</text><text x="167.27" y="285.70" font-size="12.4" text-anchor="middle">1</text><text x="184.84" y="285.70" font-size="12.4" text-anchor="middle">10</text><text x="202.41" y="285.70" font-size="12.4" text-anchor="middle">0</text><text x="219.98" y="285.70" font-size="12.4" text-anchor="middle">0.1</text><text x="237.55" y="285.70" font-size="12.4" text-anchor="middle">1</text><text x="255.12" y="285.70" font-size="12.4" text-anchor="middle">10</text><text x="272.69" y="285.70" font-size="12.4" text-anchor="middle">0</text><text x="290.26" y="285.70" font-size="12.4" text-anchor="middle">0.1</text><text x="307.83" y="285.70" font-size="12.4" text-anchor="middle">1</text><text x="325.40" y="285.70" font-size="12.4" text-anchor="middle">10</text><text x="333.60" y="284.10" font-size="12.2">DOX (µM)</text><rect x="37.30" y="289.00" width="14.60" height="117.00" fill="url(#g18)"/><rect x="53.95" y="289.00" width="15.20" height="117.00" fill="url(#g19)"/><rect x="71.52" y="289.00" width="15.20" height="117.00" fill="url(#g20)"/><rect x="89.09" y="289.00" width="15.20" height="117.00" fill="url(#g21)"/><rect x="106.66" y="289.00" width="15.20" height="117.00" fill="url(#g22)"/><rect x="124.23" y="289.00" width="15.20" height="117.00" fill="url(#g23)"/><rect x="141.80" y="289.00" width="15.20" height="117.00" fill="url(#g24)"/><rect x="159.37" y="289.00" width="15.20" height="117.00" fill="url(#g25)"/><rect x="176.94" y="289.00" width="15.20" height="117.00" fill="url(#g26)"/><rect x="194.51" y="289.00" width="15.20" height="117.00" fill="url(#g27)"/><rect x="212.08" y="289.00" width="15.20" height="117.00" fill="url(#g28)"/><rect x="229.65" y="289.00" width="15.20" height="117.00" fill="url(#g29)"/><rect x="247.22" y="289.00" width="15.20" height="117.00" fill="url(#g30)"/><rect x="264.79" y="289.00" width="15.20" height="117.00" fill="url(#g31)"/><rect x="282.36" y="289.00" width="15.20" height="117.00" fill="url(#g32)"/><rect x="299.93" y="289.00" width="15.20" height="117.00" fill="url(#g33)"/><rect x="317.50" y="289.00" width="15.20" height="117.00" fill="url(#g34)"/><rect x="37.30" y="403.90" width="14.60" height="1.8" fill="#0a8a0a"/><rect x="53.95" y="403.90" width="15.20" height="1.8" fill="#0a8a0a"/><rect x="71.52" y="403.90" width="15.20" height="1.8" fill="#0a8a0a"/><rect x="89.09" y="403.90" width="15.20" height="1.8" fill="#0a8a0a"/><rect x="106.66" y="403.90" width="15.20" height="1.8" fill="#0a8a0a"/><rect x="124.23" y="403.90" width="15.20" height="1.8" fill="#0a8a0a"/><rect x="141.80" y="403.90" width="15.20" height="1.8" fill="#0a8a0a"/><rect x="159.37" y="403.90" width="15.20" height="1.8" fill="#0a8a0a"/><rect x="176.94" y="403.90" width="15.20" height="1.8" fill="#0a8a0a"/><rect x="194.51" y="403.90" width="15.20" height="1.8" fill="#0a8a0a"/><rect x="212.08" y="403.90" width="15.20" height="1.8" fill="#0a8a0a"/><rect x="229.65" y="403.90" width="15.20" height="1.8" fill="#0a8a0a"/><rect x="247.22" y="403.90" width="15.20" height="1.8" fill="#0a8a0a"/><rect x="264.79" y="403.90" width="15.20" height="1.8" fill="#0a8a0a"/><rect x="282.36" y="403.90" width="15.20" height="1.8" fill="#0a8a0a"/><rect x="299.93" y="403.90" width="15.20" height="1.8" fill="#0a8a0a"/><rect x="317.50" y="403.90" width="15.20" height="1.8" fill="#0a8a0a"/><text x="27.20" y="305.55" font-size="12.5" text-anchor="end">6000</text><rect x="31.4" y="300.90" width="3.3" height="1.2" fill="#000"/><text x="27.20" y="324.85" font-size="12.5" text-anchor="end">4000</text><rect x="31.4" y="320.20" width="3.3" height="1.2" fill="#000"/><text x="27.20" y="346.25" font-size="12.5" text-anchor="end">2000</text><rect x="31.4" y="341.60" width="3.3" height="1.2" fill="#000"/><text x="27.20" y="362.85" font-size="12.5" text-anchor="end">1000</text><rect x="31.4" y="358.20" width="3.3" height="1.2" fill="#000"/><text x="27.20" y="377.15" font-size="12.5" text-anchor="end">500</text><rect x="31.4" y="372.50" width="3.3" height="1.2" fill="#000"/><text x="27.20" y="389.45" font-size="12.5" text-anchor="end">200</text><rect x="31.4" y="384.80" width="3.3" height="1.2" fill="#000"/><text x="27.20" y="408.05" font-size="12.5" text-anchor="end">25</text><rect x="31.4" y="403.40" width="3.3" height="1.2" fill="#000"/><path d="M333.50,325.00 L343.50,320.40 L342.30,323.90 L350.90,323.90 L350.90,326.10 L342.30,326.10 L343.50,329.60 Z" fill="#000"/><text x="351.40" y="330.60" font-size="15">28S</text><path d="M333.50,347.10 L343.50,342.50 L342.30,346.00 L350.90,346.00 L350.90,348.20 L342.30,348.20 L343.50,351.70 Z" fill="#000"/><text x="351.40" y="352.70" font-size="15">18S</text><rect x="502.25" y="289.40" width="1.3" height="1.3" fill="#000"/><rect x="502.25" y="295.70" width="1.3" height="1.3" fill="#000"/><rect x="502.25" y="302.00" width="1.3" height="1.3" fill="#000"/><rect x="502.25" y="308.30" width="1.3" height="1.3" fill="#000"/><rect x="502.25" y="314.60" width="1.3" height="1.3" fill="#000"/><rect x="502.25" y="320.90" width="1.3" height="1.3" fill="#000"/><rect x="502.25" y="327.20" width="1.3" height="1.3" fill="#000"/><rect x="502.25" y="333.50" width="1.3" height="1.3" fill="#000"/><rect x="502.25" y="339.80" width="1.3" height="1.3" fill="#000"/><rect x="502.25" y="346.10" width="1.3" height="1.3" fill="#000"/><rect x="502.25" y="352.40" width="1.3" height="1.3" fill="#000"/><rect x="502.25" y="358.70" width="1.3" height="1.3" fill="#000"/><rect x="502.25" y="365.00" width="1.3" height="1.3" fill="#000"/><rect x="502.25" y="371.30" width="1.3" height="1.3" fill="#000"/><rect x="502.25" y="377.60" width="1.3" height="1.3" fill="#000"/><rect x="502.25" y="383.90" width="1.3" height="1.3" fill="#000"/><rect x="502.25" y="390.20" width="1.3" height="1.3" fill="#000"/><rect x="502.25" y="396.50" width="1.3" height="1.3" fill="#000"/><rect x="561.02" y="289.40" width="1.3" height="1.3" fill="#000"/><rect x="561.02" y="295.70" width="1.3" height="1.3" fill="#000"/><rect x="561.02" y="302.00" width="1.3" height="1.3" fill="#000"/><rect x="561.02" y="308.30" width="1.3" height="1.3" fill="#000"/><rect x="561.02" y="314.60" width="1.3" height="1.3" fill="#000"/><rect x="561.02" y="320.90" width="1.3" height="1.3" fill="#000"/><rect x="561.02" y="327.20" width="1.3" height="1.3" fill="#000"/><rect x="561.02" y="333.50" width="1.3" height="1.3" fill="#000"/><rect x="561.02" y="339.80" width="1.3" height="1.3" fill="#000"/><rect x="561.02" y="346.10" width="1.3" height="1.3" fill="#000"/><rect x="561.02" y="352.40" width="1.3" height="1.3" fill="#000"/><rect x="561.02" y="358.70" width="1.3" height="1.3" fill="#000"/><rect x="561.02" y="365.00" width="1.3" height="1.3" fill="#000"/><rect x="561.02" y="371.30" width="1.3" height="1.3" fill="#000"/><rect x="561.02" y="377.60" width="1.3" height="1.3" fill="#000"/><rect x="561.02" y="383.90" width="1.3" height="1.3" fill="#000"/><rect x="561.02" y="390.20" width="1.3" height="1.3" fill="#000"/><rect x="561.02" y="396.50" width="1.3" height="1.3" fill="#000"/><rect x="619.79" y="289.40" width="1.3" height="1.3" fill="#000"/><rect x="619.79" y="295.70" width="1.3" height="1.3" fill="#000"/><rect x="619.79" y="302.00" width="1.3" height="1.3" fill="#000"/><rect x="619.79" y="308.30" width="1.3" height="1.3" fill="#000"/><rect x="619.79" y="314.60" width="1.3" height="1.3" fill="#000"/><rect x="619.79" y="320.90" width="1.3" height="1.3" fill="#000"/><rect x="619.79" y="327.20" width="1.3" height="1.3" fill="#000"/><rect x="619.79" y="333.50" width="1.3" height="1.3" fill="#000"/><rect x="619.79" y="339.80" width="1.3" height="1.3" fill="#000"/><rect x="619.79" y="346.10" width="1.3" height="1.3" fill="#000"/><rect x="619.79" y="352.40" width="1.3" height="1.3" fill="#000"/><rect x="619.79" y="358.70" width="1.3" height="1.3" fill="#000"/><rect x="619.79" y="365.00" width="1.3" height="1.3" fill="#000"/><rect x="619.79" y="371.30" width="1.3" height="1.3" fill="#000"/><rect x="619.79" y="377.60" width="1.3" height="1.3" fill="#000"/><rect x="619.79" y="383.90" width="1.3" height="1.3" fill="#000"/><rect x="619.79" y="390.20" width="1.3" height="1.3" fill="#000"/><rect x="619.79" y="396.50" width="1.3" height="1.3" fill="#000"/><rect x="450.05" y="367.05" width="11.75" height="37.45" fill="#c0c0c0" stroke="#000" stroke-width="1.55"/><rect x="461.80" y="368.85" width="11.75" height="35.65" fill="#c0c0c0" stroke="#000" stroke-width="1.55"/><rect x="473.55" y="362.95" width="11.75" height="41.55" fill="#c0c0c0" stroke="#000" stroke-width="1.55"/><rect x="485.30" y="363.55" width="11.75" height="40.95" fill="#c0c0c0" stroke="#000" stroke-width="1.55"/><rect x="508.82" y="381.35" width="11.75" height="23.15" fill="#c0c0c0" stroke="#000" stroke-width="1.55"/><rect x="520.57" y="381.35" width="11.75" height="23.15" fill="#c0c0c0" stroke="#000" stroke-width="1.55"/><rect x="532.32" y="362.45" width="11.75" height="42.05" fill="#c0c0c0" stroke="#000" stroke-width="1.55"/><rect x="544.07" y="354.35" width="11.75" height="50.15" fill="#c0c0c0" stroke="#000" stroke-width="1.55"/><rect x="567.59" y="381.45" width="11.75" height="23.05" fill="#c0c0c0" stroke="#000" stroke-width="1.55"/><rect x="579.34" y="378.35" width="11.75" height="26.15" fill="#c0c0c0" stroke="#000" stroke-width="1.55"/><rect x="591.09" y="352.55" width="11.75" height="51.95" fill="#c0c0c0" stroke="#000" stroke-width="1.55"/><rect x="602.84" y="348.65" width="11.75" height="55.85" fill="#c0c0c0" stroke="#000" stroke-width="1.55"/><rect x="626.36" y="378.75" width="11.75" height="25.75" fill="#c0c0c0" stroke="#000" stroke-width="1.55"/><rect x="638.11" y="378.75" width="11.75" height="25.75" fill="#c0c0c0" stroke="#000" stroke-width="1.55"/><rect x="649.86" y="344.95" width="11.75" height="59.55" fill="#c0c0c0" stroke="#000" stroke-width="1.55"/><rect x="661.61" y="332.35" width="11.75" height="72.15" fill="#c0c0c0" stroke="#000" stroke-width="1.55"/><rect x="455.32" y="364.30" width="1.2" height="2.60" fill="#000"/><rect x="451.72" y="363.65" width="8.4" height="1.3" fill="#000"/><circle cx="454.72" cy="363.60" r="2.1" fill="#a80012" stroke="#000" stroke-width="1.35"/><circle cx="455.32" cy="366.80" r="2.1" fill="#a80012" stroke="#000" stroke-width="1.35"/><circle cx="456.62" cy="370.00" r="2.1" fill="#ee7077" stroke="#000" stroke-width="1.35"/><text x="455.92" y="357.10" font-size="9.4" text-anchor="middle">a</text><circle cx="467.27" cy="366.00" r="2.1" fill="#a80012" stroke="#000" stroke-width="1.35"/><circle cx="467.27" cy="369.60" r="2.1" fill="#a80012" stroke="#000" stroke-width="1.35"/><text x="467.67" y="359.30" font-size="9.4" text-anchor="middle">a</text><circle cx="479.52" cy="360.70" r="2.1" fill="#a80012" stroke="#000" stroke-width="1.35"/><circle cx="478.32" cy="364.40" r="2.1" fill="#a80012" stroke="#000" stroke-width="1.35"/><text x="479.42" y="353.10" font-size="9.4" text-anchor="middle">a</text><circle cx="491.27" cy="362.50" r="2.1" fill="#a80012" stroke="#000" stroke-width="1.35"/><circle cx="490.07" cy="364.40" r="2.1" fill="#a80012" stroke="#000" stroke-width="1.35"/><text x="491.17" y="355.10" font-size="9.4" text-anchor="middle">a</text><circle cx="513.19" cy="381.10" r="2.1" fill="#a80012" stroke="#000" stroke-width="1.35"/><circle cx="514.29" cy="381.10" r="2.1" fill="#a80012" stroke="#000" stroke-width="1.35"/><text x="514.69" y="373.70" font-size="9.4" text-anchor="middle">a</text><circle cx="525.34" cy="381.10" r="2.1" fill="#a80012" stroke="#000" stroke-width="1.35"/><text x="526.44" y="373.70" font-size="9.4" text-anchor="middle">a</text><rect x="537.59" y="356.30" width="1.2" height="6.00" fill="#000"/><rect x="533.99" y="355.65" width="8.4" height="1.3" fill="#000"/><circle cx="538.49" cy="355.90" r="2.1" fill="#a80012" stroke="#000" stroke-width="1.35"/><circle cx="537.99" cy="366.50" r="2.1" fill="#a80012" stroke="#000" stroke-width="1.35"/><text x="538.19" y="348.10" font-size="9.4" text-anchor="middle">b</text><rect x="549.34" y="349.20" width="1.2" height="5.00" fill="#000"/><rect x="545.74" y="348.55" width="8.4" height="1.3" fill="#000"/><circle cx="549.94" cy="358.30" r="2.1" fill="#ee7077" stroke="#000" stroke-width="1.35"/><circle cx="550.34" cy="356.10" r="2.1" fill="#a80012" stroke="#000" stroke-width="1.35"/><circle cx="550.74" cy="348.80" r="2.1" fill="#a80012" stroke="#000" stroke-width="1.35"/><text x="549.94" y="341.00" font-size="9.4" text-anchor="middle">b</text><circle cx="572.26" cy="381.20" r="2.1" fill="#a80012" stroke="#000" stroke-width="1.35"/><circle cx="574.16" cy="381.20" r="2.1" fill="#a80012" stroke="#000" stroke-width="1.35"/><text x="573.46" y="373.90" font-size="9.4" text-anchor="middle">a</text><rect x="584.61" y="374.10" width="1.2" height="4.10" fill="#000"/><rect x="581.01" y="373.45" width="8.4" height="1.3" fill="#000"/><circle cx="584.91" cy="373.80" r="2.1" fill="#a80012" stroke="#000" stroke-width="1.35"/><circle cx="583.71" cy="381.20" r="2.1" fill="#a80012" stroke="#000" stroke-width="1.35"/><circle cx="586.51" cy="381.60" r="2.1" fill="#ee7077" stroke="#000" stroke-width="1.35"/><text x="585.21" y="366.80" font-size="9.4" text-anchor="middle">a</text><rect x="596.36" y="346.60" width="1.2" height="5.80" fill="#000"/><rect x="592.76" y="345.95" width="8.4" height="1.3" fill="#000"/><circle cx="597.06" cy="346.20" r="2.1" fill="#a80012" stroke="#000" stroke-width="1.35"/><circle cx="597.46" cy="354.40" r="2.1" fill="#ee7077" stroke="#000" stroke-width="1.35"/><circle cx="597.46" cy="360.90" r="2.1" fill="#ee7077" stroke="#000" stroke-width="1.35"/><text x="596.96" y="338.40" font-size="9.4" text-anchor="middle">b</text><rect x="608.11" y="345.00" width="1.2" height="3.50" fill="#000"/><rect x="604.51" y="344.35" width="8.4" height="1.3" fill="#000"/><circle cx="607.01" cy="345.00" r="2.1" fill="#a80012" stroke="#000" stroke-width="1.35"/><circle cx="608.41" cy="350.90" r="2.1" fill="#a80012" stroke="#000" stroke-width="1.35"/><circle cx="608.91" cy="348.90" r="2.1" fill="#a80012" stroke="#000" stroke-width="1.35"/><text x="608.71" y="337.60" font-size="9.4" text-anchor="middle">b</text><rect x="631.63" y="374.00" width="1.2" height="4.60" fill="#000"/><rect x="628.03" y="373.35" width="8.4" height="1.3" fill="#000"/><circle cx="631.34" cy="373.70" r="2.1" fill="#a80012" stroke="#000" stroke-width="1.35"/><circle cx="631.53" cy="381.20" r="2.1" fill="#a80012" stroke="#000" stroke-width="1.35"/><text x="632.24" y="366.30" font-size="9.4" text-anchor="middle">a</text><rect x="643.38" y="374.00" width="1.2" height="4.60" fill="#000"/><rect x="639.78" y="373.35" width="8.4" height="1.3" fill="#000"/><circle cx="642.88" cy="373.70" r="2.1" fill="#a80012" stroke="#000" stroke-width="1.35"/><circle cx="643.28" cy="381.20" r="2.1" fill="#a80012" stroke="#000" stroke-width="1.35"/><text x="643.99" y="366.30" font-size="9.4" text-anchor="middle">a</text><rect x="655.13" y="342.20" width="1.2" height="2.60" fill="#000"/><rect x="651.53" y="341.55" width="8.4" height="1.3" fill="#000"/><circle cx="655.34" cy="346.50" r="2.1" fill="#ee7077" stroke="#000" stroke-width="1.35"/><circle cx="655.03" cy="343.40" r="2.1" fill="#a80012" stroke="#000" stroke-width="1.35"/><text x="655.74" y="334.80" font-size="9.4" text-anchor="middle">b</text><rect x="666.88" y="328.80" width="1.2" height="3.40" fill="#000"/><rect x="663.28" y="328.15" width="8.4" height="1.3" fill="#000"/><circle cx="667.28" cy="336.30" r="2.1" fill="#ee7077" stroke="#000" stroke-width="1.35"/><circle cx="667.28" cy="333.30" r="2.1" fill="#a80012" stroke="#000" stroke-width="1.35"/><circle cx="666.49" cy="328.60" r="2.1" fill="#a80012" stroke="#000" stroke-width="1.35"/><text x="667.49" y="321.20" font-size="9.4" text-anchor="middle">b</text><rect x="440.00" y="284.20" width="2" height="121.20" fill="#000"/><rect x="440.00" y="403.60" width="242.00" height="1.6" fill="#505050"/><rect x="436.7" y="284.20" width="4.5" height="1.2" fill="#000"/><text x="433.90" y="288.90" font-size="9.6" text-anchor="end">1000</text><rect x="438.4" y="301.03" width="2.8" height="1" fill="#000"/><rect x="438.4" y="296.82" width="2.8" height="1" fill="#000"/><rect x="438.4" y="293.83" width="2.8" height="1" fill="#000"/><rect x="438.4" y="291.51" width="2.8" height="1" fill="#000"/><rect x="438.4" y="289.61" width="2.8" height="1" fill="#000"/><rect x="438.4" y="288.01" width="2.8" height="1" fill="#000"/><rect x="438.4" y="286.62" width="2.8" height="1" fill="#000"/><rect x="438.4" y="285.40" width="2.8" height="1" fill="#000"/><rect x="436.7" y="308.14" width="4.5" height="1.2" fill="#000"/><text x="433.90" y="312.84" font-size="9.6" text-anchor="end">100</text><rect x="438.4" y="324.97" width="2.8" height="1" fill="#000"/><rect x="438.4" y="320.76" width="2.8" height="1" fill="#000"/><rect x="438.4" y="317.77" width="2.8" height="1" fill="#000"/><rect x="438.4" y="315.45" width="2.8" height="1" fill="#000"/><rect x="438.4" y="313.55" width="2.8" height="1" fill="#000"/><rect x="438.4" y="311.95" width="2.8" height="1" fill="#000"/><rect x="438.4" y="310.56" width="2.8" height="1" fill="#000"/><rect x="438.4" y="309.34" width="2.8" height="1" fill="#000"/><rect x="436.7" y="332.08" width="4.5" height="1.2" fill="#000"/><text x="433.90" y="336.78" font-size="9.6" text-anchor="end">10</text><rect x="438.4" y="348.91" width="2.8" height="1" fill="#000"/><rect x="438.4" y="344.70" width="2.8" height="1" fill="#000"/><rect x="438.4" y="341.71" width="2.8" height="1" fill="#000"/><rect x="438.4" y="339.39" width="2.8" height="1" fill="#000"/><rect x="438.4" y="337.49" width="2.8" height="1" fill="#000"/><rect x="438.4" y="335.89" width="2.8" height="1" fill="#000"/><rect x="438.4" y="334.50" width="2.8" height="1" fill="#000"/><rect x="438.4" y="333.28" width="2.8" height="1" fill="#000"/><rect x="436.7" y="356.02" width="4.5" height="1.2" fill="#000"/><text x="433.90" y="360.72" font-size="9.6" text-anchor="end">1</text><rect x="438.4" y="372.85" width="2.8" height="1" fill="#000"/><rect x="438.4" y="368.64" width="2.8" height="1" fill="#000"/><rect x="438.4" y="365.65" width="2.8" height="1" fill="#000"/><rect x="438.4" y="363.33" width="2.8" height="1" fill="#000"/><rect x="438.4" y="361.43" width="2.8" height="1" fill="#000"/><rect x="438.4" y="359.83" width="2.8" height="1" fill="#000"/><rect x="438.4" y="358.44" width="2.8" height="1" fill="#000"/><rect x="438.4" y="357.22" width="2.8" height="1" fill="#000"/><rect x="436.7" y="379.96" width="4.5" height="1.2" fill="#000"/><text x="433.90" y="384.66" font-size="9.6" text-anchor="end">0.1</text><rect x="438.4" y="396.79" width="2.8" height="1" fill="#000"/><rect x="438.4" y="392.58" width="2.8" height="1" fill="#000"/><rect x="438.4" y="389.59" width="2.8" height="1" fill="#000"/><rect x="438.4" y="387.27" width="2.8" height="1" fill="#000"/><rect x="438.4" y="385.37" width="2.8" height="1" fill="#000"/><rect x="438.4" y="383.77" width="2.8" height="1" fill="#000"/><rect x="438.4" y="382.38" width="2.8" height="1" fill="#000"/><rect x="438.4" y="381.16" width="2.8" height="1" fill="#000"/><rect x="436.7" y="403.90" width="4.5" height="1.2" fill="#000"/><text x="433.90" y="408.60" font-size="9.6" text-anchor="end">0.01</text><text x="473.40" y="293.80" font-size="12" font-weight="bold" text-anchor="middle">8 h</text><text x="531.60" y="293.80" font-size="12" font-weight="bold" text-anchor="middle">24 h</text><text x="590.30" y="293.80" font-size="12" font-weight="bold" text-anchor="middle">48 h</text><text x="649.30" y="293.80" font-size="12" font-weight="bold" text-anchor="middle">72 h</text><text transform="translate(459.52,412.60) rotate(-90)" font-size="10" text-anchor="end">0</text><text transform="translate(471.27,413.70) rotate(-90)" font-size="10" text-anchor="end">0.1</text><text transform="translate(483.02,413.70) rotate(-90)" font-size="10" text-anchor="end">1</text><text transform="translate(494.77,412.60) rotate(-90)" font-size="10" text-anchor="end">10</text><text transform="translate(518.29,412.60) rotate(-90)" font-size="10" text-anchor="end">0</text><text transform="translate(530.04,413.70) rotate(-90)" font-size="10" text-anchor="end">0.1</text><text transform="translate(541.79,413.70) rotate(-90)" font-size="10" text-anchor="end">1</text><text transform="translate(553.54,412.60) rotate(-90)" font-size="10" text-anchor="end">10</text><text transform="translate(577.06,412.60) rotate(-90)" font-size="10" text-anchor="end">0</text><text transform="translate(588.81,413.70) rotate(-90)" font-size="10" text-anchor="end">0.1</text><text transform="translate(600.56,413.70) rotate(-90)" font-size="10" text-anchor="end">1</text><text transform="translate(612.31,412.60) rotate(-90)" font-size="10" text-anchor="end">10</text><text transform="translate(635.84,412.60) rotate(-90)" font-size="10" text-anchor="end">0</text><text transform="translate(647.59,413.70) rotate(-90)" font-size="10" text-anchor="end">0.1</text><text transform="translate(659.34,413.70) rotate(-90)" font-size="10" text-anchor="end">1</text><text transform="translate(671.09,412.60) rotate(-90)" font-size="10" text-anchor="end">10</text><text transform="translate(402.40,342.30) rotate(-90)" font-size="11.5" font-weight="bold" text-anchor="middle">RNA disruption index</text><text x="562.30" y="442.40" font-size="11.6" font-weight="bold" text-anchor="middle">[Doxorubicin] (uM)</text><text x="4.20" y="470.00" font-size="24" font-weight="bold">c)</text><text x="46.60" y="469.70" font-size="12.8" font-weight="bold" letter-spacing="0.2">MDA-MB-231</text><text transform="translate(48.20,518.90) rotate(-90)" font-size="12">Ladder</text><text x="7.70" y="514.30" font-size="13">[nt]</text><rect x="56.90" y="502.70" width="64.00" height="1.4" fill="#000"/><text x="90.00" y="498.70" font-size="14" font-weight="bold" text-anchor="middle">8 h</text><rect x="127.07" y="502.70" width="64.00" height="1.4" fill="#000"/><text x="160.50" y="498.70" font-size="14" font-weight="bold" text-anchor="middle">24 h</text><rect x="197.24" y="502.70" width="64.00" height="1.4" fill="#000"/><text x="231.50" y="498.70" font-size="14" font-weight="bold" text-anchor="middle">48 h</text><rect x="267.41" y="502.70" width="64.00" height="1.4" fill="#000"/><text x="301.20" y="498.70" font-size="14" font-weight="bold" text-anchor="middle">72 h</text><text x="61.90" y="516.70" font-size="12.4" text-anchor="middle">0</text><text x="79.48" y="516.70" font-size="12.4" text-anchor="middle">0.1</text><text x="97.06" y="516.70" font-size="12.4" text-anchor="middle">1</text><text x="114.64" y="516.70" font-size="12.4" text-anchor="middle">10</text><text x="132.22" y="516.70" font-size="12.4" text-anchor="middle">0</text><text x="149.80" y="516.70" font-size="12.4" text-anchor="middle">0.1</text><text x="167.38" y="516.70" font-size="12.4" text-anchor="middle">1</text><text x="184.96" y="516.70" font-size="12.4" text-anchor="middle">10</text><text x="202.54" y="516.70" font-size="12.4" text-anchor="middle">0</text><text x="220.12" y="516.70" font-size="12.4" text-anchor="middle">0.1</text><text x="237.70" y="516.70" font-size="12.4" text-anchor="middle">1</text><text x="255.28" y="516.70" font-size="12.4" text-anchor="middle">10</text><text x="272.86" y="516.70" font-size="12.4" text-anchor="middle">0</text><text x="290.44" y="516.70" font-size="12.4" text-anchor="middle">0.1</text><text x="308.02" y="516.70" font-size="12.4" text-anchor="middle">1</text><text x="325.60" y="516.70" font-size="12.4" text-anchor="middle">10</text><text x="333.60" y="514.70" font-size="12.2">DOX (µM)</text><rect x="37.00" y="519.60" width="16.00" height="113.40" fill="url(#g35)"/><rect x="54.70" y="519.60" width="15.00" height="113.40" fill="url(#g36)"/><rect x="72.28" y="519.60" width="15.00" height="113.40" fill="url(#g37)"/><rect x="89.86" y="519.60" width="15.00" height="113.40" fill="url(#g38)"/><rect x="107.44" y="519.60" width="15.00" height="113.40" fill="url(#g39)"/><rect x="125.02" y="519.60" width="15.00" height="113.40" fill="url(#g40)"/><rect x="142.60" y="519.60" width="15.00" height="113.40" fill="url(#g41)"/><rect x="160.18" y="519.60" width="15.00" height="113.40" fill="url(#g42)"/><rect x="177.76" y="519.60" width="15.00" height="113.40" fill="url(#g43)"/><rect x="195.34" y="519.60" width="15.00" height="113.40" fill="url(#g44)"/><rect x="212.92" y="519.60" width="15.00" height="113.40" fill="url(#g45)"/><rect x="230.50" y="519.60" width="15.00" height="113.40" fill="url(#g46)"/><rect x="248.08" y="519.60" width="15.00" height="113.40" fill="url(#g47)"/><rect x="265.66" y="519.60" width="15.00" height="113.40" fill="url(#g48)"/><rect x="283.24" y="519.60" width="15.00" height="113.40" fill="url(#g49)"/><rect x="300.82" y="519.60" width="15.00" height="113.40" fill="url(#g50)"/><rect x="318.40" y="519.60" width="15.00" height="113.40" fill="url(#g51)"/><rect x="37.00" y="630.40" width="16.00" height="1.8" fill="#0a8a0a"/><rect x="54.70" y="630.40" width="15.00" height="1.8" fill="#0a8a0a"/><rect x="72.28" y="630.40" width="15.00" height="1.8" fill="#0a8a0a"/><rect x="89.86" y="630.40" width="15.00" height="1.8" fill="#0a8a0a"/><rect x="107.44" y="630.40" width="15.00" height="1.8" fill="#0a8a0a"/><rect x="125.02" y="630.40" width="15.00" height="1.8" fill="#0a8a0a"/><rect x="142.60" y="630.40" width="15.00" height="1.8" fill="#0a8a0a"/><rect x="160.18" y="630.40" width="15.00" height="1.8" fill="#0a8a0a"/><rect x="177.76" y="630.40" width="15.00" height="1.8" fill="#0a8a0a"/><rect x="195.34" y="630.40" width="15.00" height="1.8" fill="#0a8a0a"/><rect x="212.92" y="630.40" width="15.00" height="1.8" fill="#0a8a0a"/><rect x="230.50" y="630.40" width="15.00" height="1.8" fill="#0a8a0a"/><rect x="248.08" y="630.40" width="15.00" height="1.8" fill="#0a8a0a"/><rect x="265.66" y="630.40" width="15.00" height="1.8" fill="#0a8a0a"/><rect x="283.24" y="630.40" width="15.00" height="1.8" fill="#0a8a0a"/><rect x="300.82" y="630.40" width="15.00" height="1.8" fill="#0a8a0a"/><rect x="318.40" y="630.40" width="15.00" height="1.8" fill="#0a8a0a"/><text x="27.20" y="539.75" font-size="12.5" text-anchor="end">6000</text><rect x="31.4" y="535.10" width="3.3" height="1.2" fill="#000"/><text x="27.20" y="556.95" font-size="12.5" text-anchor="end">4000</text><rect x="31.4" y="552.30" width="3.3" height="1.2" fill="#000"/><text x="27.20" y="576.55" font-size="12.5" text-anchor="end">2000</text><rect x="31.4" y="571.90" width="3.3" height="1.2" fill="#000"/><text x="27.20" y="592.45" font-size="12.5" text-anchor="end">1000</text><rect x="31.4" y="587.80" width="3.3" height="1.2" fill="#000"/><text x="27.20" y="605.75" font-size="12.5" text-anchor="end">500</text><rect x="31.4" y="601.10" width="3.3" height="1.2" fill="#000"/><text x="27.20" y="617.05" font-size="12.5" text-anchor="end">200</text><rect x="31.4" y="612.40" width="3.3" height="1.2" fill="#000"/><text x="27.20" y="634.45" font-size="12.5" text-anchor="end">25</text><rect x="31.4" y="629.80" width="3.3" height="1.2" fill="#000"/><path d="M334.20,554.70 L344.20,550.10 L343.00,553.60 L351.60,553.60 L351.60,555.80 L343.00,555.80 L344.20,559.30 Z" fill="#000"/><text x="352.10" y="560.30" font-size="14.3">28S</text><path d="M334.20,574.90 L344.20,570.30 L343.00,573.80 L351.60,573.80 L351.60,576.00 L343.00,576.00 L344.20,579.50 Z" fill="#000"/><text x="352.10" y="580.50" font-size="14.3">18S</text><rect x="502.25" y="514.40" width="1.3" height="1.3" fill="#000"/><rect x="502.25" y="520.70" width="1.3" height="1.3" fill="#000"/><rect x="502.25" y="527.00" width="1.3" height="1.3" fill="#000"/><rect x="502.25" y="533.30" width="1.3" height="1.3" fill="#000"/><rect x="502.25" y="539.60" width="1.3" height="1.3" fill="#000"/><rect x="502.25" y="545.90" width="1.3" height="1.3" fill="#000"/><rect x="502.25" y="552.20" width="1.3" height="1.3" fill="#000"/><rect x="502.25" y="558.50" width="1.3" height="1.3" fill="#000"/><rect x="502.25" y="564.80" width="1.3" height="1.3" fill="#000"/><rect x="502.25" y="571.10" width="1.3" height="1.3" fill="#000"/><rect x="502.25" y="577.40" width="1.3" height="1.3" fill="#000"/><rect x="502.25" y="583.70" width="1.3" height="1.3" fill="#000"/><rect x="502.25" y="590.00" width="1.3" height="1.3" fill="#000"/><rect x="502.25" y="596.30" width="1.3" height="1.3" fill="#000"/><rect x="502.25" y="602.60" width="1.3" height="1.3" fill="#000"/><rect x="502.25" y="608.90" width="1.3" height="1.3" fill="#000"/><rect x="502.25" y="615.20" width="1.3" height="1.3" fill="#000"/><rect x="502.25" y="621.50" width="1.3" height="1.3" fill="#000"/><rect x="561.02" y="514.40" width="1.3" height="1.3" fill="#000"/><rect x="561.02" y="520.70" width="1.3" height="1.3" fill="#000"/><rect x="561.02" y="527.00" width="1.3" height="1.3" fill="#000"/><rect x="561.02" y="533.30" width="1.3" height="1.3" fill="#000"/><rect x="561.02" y="539.60" width="1.3" height="1.3" fill="#000"/><rect x="561.02" y="545.90" width="1.3" height="1.3" fill="#000"/><rect x="561.02" y="552.20" width="1.3" height="1.3" fill="#000"/><rect x="561.02" y="558.50" width="1.3" height="1.3" fill="#000"/><rect x="561.02" y="564.80" width="1.3" height="1.3" fill="#000"/><rect x="561.02" y="571.10" width="1.3" height="1.3" fill="#000"/><rect x="561.02" y="577.40" width="1.3" height="1.3" fill="#000"/><rect x="561.02" y="583.70" width="1.3" height="1.3" fill="#000"/><rect x="561.02" y="590.00" width="1.3" height="1.3" fill="#000"/><rect x="561.02" y="596.30" width="1.3" height="1.3" fill="#000"/><rect x="561.02" y="602.60" width="1.3" height="1.3" fill="#000"/><rect x="561.02" y="608.90" width="1.3" height="1.3" fill="#000"/><rect x="561.02" y="615.20" width="1.3" height="1.3" fill="#000"/><rect x="561.02" y="621.50" width="1.3" height="1.3" fill="#000"/><rect x="619.79" y="514.40" width="1.3" height="1.3" fill="#000"/><rect x="619.79" y="520.70" width="1.3" height="1.3" fill="#000"/><rect x="619.79" y="527.00" width="1.3" height="1.3" fill="#000"/><rect x="619.79" y="533.30" width="1.3" height="1.3" fill="#000"/><rect x="619.79" y="539.60" width="1.3" height="1.3" fill="#000"/><rect x="619.79" y="545.90" width="1.3" height="1.3" fill="#000"/><rect x="619.79" y="552.20" width="1.3" height="1.3" fill="#000"/><rect x="619.79" y="558.50" width="1.3" height="1.3" fill="#000"/><rect x="619.79" y="564.80" width="1.3" height="1.3" fill="#000"/><rect x="619.79" y="571.10" width="1.3" height="1.3" fill="#000"/><rect x="619.79" y="577.40" width="1.3" height="1.3" fill="#000"/><rect x="619.79" y="583.70" width="1.3" height="1.3" fill="#000"/><rect x="619.79" y="590.00" width="1.3" height="1.3" fill="#000"/><rect x="619.79" y="596.30" width="1.3" height="1.3" fill="#000"/><rect x="619.79" y="602.60" width="1.3" height="1.3" fill="#000"/><rect x="619.79" y="608.90" width="1.3" height="1.3" fill="#000"/><rect x="619.79" y="615.20" width="1.3" height="1.3" fill="#000"/><rect x="619.79" y="621.50" width="1.3" height="1.3" fill="#000"/><rect x="450.05" y="586.25" width="11.75" height="43.25" fill="#c0c0c0" stroke="#000" stroke-width="1.55"/><rect x="461.80" y="587.05" width="11.75" height="42.45" fill="#c0c0c0" stroke="#000" stroke-width="1.55"/><rect x="473.55" y="583.55" width="11.75" height="45.95" fill="#c0c0c0" stroke="#000" stroke-width="1.55"/><rect x="485.30" y="580.35" width="11.75" height="49.15" fill="#c0c0c0" stroke="#000" stroke-width="1.55"/><rect x="508.82" y="583.95" width="11.75" height="45.55" fill="#c0c0c0" stroke="#000" stroke-width="1.55"/><rect x="520.57" y="587.45" width="11.75" height="42.05" fill="#c0c0c0" stroke="#000" stroke-width="1.55"/><rect x="532.32" y="584.65" width="11.75" height="44.85" fill="#c0c0c0" stroke="#000" stroke-width="1.55"/><rect x="544.07" y="579.45" width="11.75" height="50.05" fill="#c0c0c0" stroke="#000" stroke-width="1.55"/><rect x="567.59" y="596.65" width="11.75" height="32.85" fill="#c0c0c0" stroke="#000" stroke-width="1.55"/><rect x="579.34" y="591.45" width="11.75" height="38.05" fill="#c0c0c0" stroke="#000" stroke-width="1.55"/><rect x="591.09" y="576.25" width="11.75" height="53.25" fill="#c0c0c0" stroke="#000" stroke-width="1.55"/><rect x="602.84" y="576.05" width="11.75" height="53.45" fill="#c0c0c0" stroke="#000" stroke-width="1.55"/><rect x="626.36" y="596.75" width="11.75" height="32.75" fill="#c0c0c0" stroke="#000" stroke-width="1.55"/><rect x="638.11" y="592.45" width="11.75" height="37.05" fill="#c0c0c0" stroke="#000" stroke-width="1.55"/><rect x="649.86" y="576.05" width="11.75" height="53.45" fill="#c0c0c0" stroke="#000" stroke-width="1.55"/><rect x="661.61" y="568.15" width="11.75" height="61.35" fill="#c0c0c0" stroke="#000" stroke-width="1.55"/><rect x="455.32" y="583.30" width="1.2" height="2.80" fill="#000"/><rect x="451.72" y="582.65" width="8.4" height="1.3" fill="#000"/><circle cx="455.12" cy="583.00" r="2.1" fill="#a80012" stroke="#000" stroke-width="1.35"/><circle cx="455.12" cy="587.60" r="2.1" fill="#a80012" stroke="#000" stroke-width="1.35"/><text x="455.92" y="575.90" font-size="9.4" text-anchor="middle">a</text><rect x="467.07" y="583.70" width="1.2" height="3.20" fill="#000"/><rect x="463.47" y="583.05" width="8.4" height="1.3" fill="#000"/><circle cx="467.27" cy="584.40" r="2.1" fill="#a80012" stroke="#000" stroke-width="1.35"/><circle cx="466.87" cy="591.50" r="2.1" fill="#ee7077" stroke="#000" stroke-width="1.35"/><text x="467.67" y="577.10" font-size="9.4" text-anchor="middle">a</text><rect x="478.82" y="580.10" width="1.2" height="3.30" fill="#000"/><rect x="475.22" y="579.45" width="8.4" height="1.3" fill="#000"/><circle cx="478.32" cy="580.10" r="2.1" fill="#a80012" stroke="#000" stroke-width="1.35"/><circle cx="479.12" cy="584.40" r="2.1" fill="#a80012" stroke="#000" stroke-width="1.35"/><text x="479.42" y="573.10" font-size="9.4" text-anchor="middle">a</text><rect x="490.57" y="575.00" width="1.2" height="5.20" fill="#000"/><rect x="486.97" y="574.35" width="8.4" height="1.3" fill="#000"/><circle cx="490.87" cy="575.00" r="2.1" fill="#a80012" stroke="#000" stroke-width="1.35"/><circle cx="490.87" cy="581.30" r="2.1" fill="#ee7077" stroke="#000" stroke-width="1.35"/><circle cx="491.27" cy="587.60" r="2.1" fill="#ee7077" stroke="#000" stroke-width="1.35"/><text x="491.17" y="567.20" font-size="9.4" text-anchor="middle">a</text><rect x="514.09" y="579.10" width="1.2" height="4.70" fill="#000"/><rect x="510.49" y="578.45" width="8.4" height="1.3" fill="#000"/><circle cx="514.09" cy="578.90" r="2.1" fill="#a80012" stroke="#000" stroke-width="1.35"/><circle cx="513.69" cy="583.30" r="2.1" fill="#a80012" stroke="#000" stroke-width="1.35"/><circle cx="514.59" cy="589.60" r="2.1" fill="#ee7077" stroke="#000" stroke-width="1.35"/><text x="514.69" y="571.50" font-size="9.4" text-anchor="middle">ab</text><rect x="525.84" y="584.40" width="1.2" height="2.90" fill="#000"/><rect x="522.24" y="583.75" width="8.4" height="1.3" fill="#000"/><circle cx="525.94" cy="584.00" r="2.1" fill="#a80012" stroke="#000" stroke-width="1.35"/><circle cx="525.34" cy="587.60" r="2.1" fill="#a80012" stroke="#000" stroke-width="1.35"/><circle cx="526.74" cy="589.80" r="2.1" fill="#ee7077" stroke="#000" stroke-width="1.35"/><text x="526.44" y="576.70" font-size="9.4" text-anchor="middle">a</text><rect x="537.59" y="581.70" width="1.2" height="2.80" fill="#000"/><rect x="533.99" y="581.05" width="8.4" height="1.3" fill="#000"/><circle cx="537.29" cy="582.10" r="2.1" fill="#a80012" stroke="#000" stroke-width="1.35"/><circle cx="537.29" cy="587.60" r="2.1" fill="#ee7077" stroke="#000" stroke-width="1.35"/><text x="538.19" y="574.30" font-size="9.4" text-anchor="middle">ab</text><rect x="549.34" y="576.20" width="1.2" height="3.10" fill="#000"/><rect x="545.74" y="575.55" width="8.4" height="1.3" fill="#000"/><circle cx="548.24" cy="576.60" r="2.1" fill="#a80012" stroke="#000" stroke-width="1.35"/><circle cx="550.34" cy="582.20" r="2.1" fill="#ee7077" stroke="#000" stroke-width="1.35"/><text x="549.94" y="568.40" font-size="9.4" text-anchor="middle">b</text><rect x="572.86" y="593.80" width="1.2" height="2.70" fill="#000"/><rect x="569.26" y="593.15" width="8.4" height="1.3" fill="#000"/><circle cx="572.26" cy="594.70" r="2.1" fill="#a80012" stroke="#000" stroke-width="1.35"/><circle cx="573.26" cy="599.30" r="2.1" fill="#ee7077" stroke="#000" stroke-width="1.35"/><text x="573.46" y="586.90" font-size="9.4" text-anchor="middle">a</text><rect x="584.61" y="588.60" width="1.2" height="2.70" fill="#000"/><rect x="581.01" y="587.95" width="8.4" height="1.3" fill="#000"/><circle cx="584.91" cy="589.40" r="2.1" fill="#a80012" stroke="#000" stroke-width="1.35"/><circle cx="584.31" cy="594.80" r="2.1" fill="#ee7077" stroke="#000" stroke-width="1.35"/><text x="585.21" y="582.00" font-size="9.4" text-anchor="middle">a</text><rect x="596.36" y="572.20" width="1.2" height="3.90" fill="#000"/><rect x="592.76" y="571.55" width="8.4" height="1.3" fill="#000"/><circle cx="596.26" cy="572.10" r="2.1" fill="#a80012" stroke="#000" stroke-width="1.35"/><circle cx="595.46" cy="576.00" r="2.1" fill="#a80012" stroke="#000" stroke-width="1.35"/><circle cx="595.36" cy="580.40" r="2.1" fill="#ee7077" stroke="#000" stroke-width="1.35"/><text x="596.96" y="564.70" font-size="9.4" text-anchor="middle">b</text><rect x="608.11" y="573.60" width="1.2" height="2.30" fill="#000"/><rect x="604.51" y="572.95" width="8.4" height="1.3" fill="#000"/><circle cx="607.01" cy="574.00" r="2.1" fill="#a80012" stroke="#000" stroke-width="1.35"/><circle cx="608.51" cy="578.00" r="2.1" fill="#ee7077" stroke="#000" stroke-width="1.35"/><text x="608.71" y="566.30" font-size="9.4" text-anchor="middle">b</text><rect x="631.63" y="594.10" width="1.2" height="2.50" fill="#000"/><rect x="628.03" y="593.45" width="8.4" height="1.3" fill="#000"/><circle cx="632.24" cy="594.50" r="2.1" fill="#a80012" stroke="#000" stroke-width="1.35"/><circle cx="630.53" cy="599.30" r="2.1" fill="#ee7077" stroke="#000" stroke-width="1.35"/><text x="632.24" y="586.90" font-size="9.4" text-anchor="middle">a</text><rect x="643.38" y="589.00" width="1.2" height="3.30" fill="#000"/><rect x="639.78" y="588.35" width="8.4" height="1.3" fill="#000"/><circle cx="643.69" cy="589.40" r="2.1" fill="#a80012" stroke="#000" stroke-width="1.35"/><circle cx="643.38" cy="591.80" r="2.1" fill="#a80012" stroke="#000" stroke-width="1.35"/><circle cx="643.28" cy="595.10" r="2.1" fill="#ee7077" stroke="#000" stroke-width="1.35"/><text x="643.99" y="581.60" font-size="9.4" text-anchor="middle">a</text><rect x="655.13" y="573.30" width="1.2" height="2.60" fill="#000"/><rect x="651.53" y="572.65" width="8.4" height="1.3" fill="#000"/><circle cx="655.34" cy="574.00" r="2.1" fill="#a80012" stroke="#000" stroke-width="1.35"/><circle cx="655.74" cy="578.00" r="2.1" fill="#ee7077" stroke="#000" stroke-width="1.35"/><text x="655.74" y="565.90" font-size="9.4" text-anchor="middle">b</text><rect x="666.88" y="564.60" width="1.2" height="3.40" fill="#000"/><rect x="663.28" y="563.95" width="8.4" height="1.3" fill="#000"/><circle cx="666.09" cy="564.20" r="2.1" fill="#a80012" stroke="#000" stroke-width="1.35"/><circle cx="666.49" cy="567.50" r="2.1" fill="#a80012" stroke="#000" stroke-width="1.35"/><circle cx="667.28" cy="572.10" r="2.1" fill="#ee7077" stroke="#000" stroke-width="1.35"/><text x="667.49" y="556.80" font-size="9.4" text-anchor="middle">b</text><rect x="440.00" y="509.20" width="2" height="121.20" fill="#000"/><rect x="440.00" y="628.60" width="242.00" height="1.6" fill="#505050"/><rect x="436.7" y="509.20" width="4.5" height="1.2" fill="#000"/><text x="433.90" y="513.90" font-size="9.6" text-anchor="end">1000</text><rect x="438.4" y="526.03" width="2.8" height="1" fill="#000"/><rect x="438.4" y="521.82" width="2.8" height="1" fill="#000"/><rect x="438.4" y="518.83" width="2.8" height="1" fill="#000"/><rect x="438.4" y="516.51" width="2.8" height="1" fill="#000"/><rect x="438.4" y="514.61" width="2.8" height="1" fill="#000"/><rect x="438.4" y="513.01" width="2.8" height="1" fill="#000"/><rect x="438.4" y="511.62" width="2.8" height="1" fill="#000"/><rect x="438.4" y="510.40" width="2.8" height="1" fill="#000"/><rect x="436.7" y="533.14" width="4.5" height="1.2" fill="#000"/><text x="433.90" y="537.84" font-size="9.6" text-anchor="end">100</text><rect x="438.4" y="549.97" width="2.8" height="1" fill="#000"/><rect x="438.4" y="545.76" width="2.8" height="1" fill="#000"/><rect x="438.4" y="542.77" width="2.8" height="1" fill="#000"/><rect x="438.4" y="540.45" width="2.8" height="1" fill="#000"/><rect x="438.4" y="538.55" width="2.8" height="1" fill="#000"/><rect x="438.4" y="536.95" width="2.8" height="1" fill="#000"/><rect x="438.4" y="535.56" width="2.8" height="1" fill="#000"/><rect x="438.4" y="534.34" width="2.8" height="1" fill="#000"/><rect x="436.7" y="557.08" width="4.5" height="1.2" fill="#000"/><text x="433.90" y="561.78" font-size="9.6" text-anchor="end">10</text><rect x="438.4" y="573.91" width="2.8" height="1" fill="#000"/><rect x="438.4" y="569.70" width="2.8" height="1" fill="#000"/><rect x="438.4" y="566.71" width="2.8" height="1" fill="#000"/><rect x="438.4" y="564.39" width="2.8" height="1" fill="#000"/><rect x="438.4" y="562.49" width="2.8" height="1" fill="#000"/><rect x="438.4" y="560.89" width="2.8" height="1" fill="#000"/><rect x="438.4" y="559.50" width="2.8" height="1" fill="#000"/><rect x="438.4" y="558.28" width="2.8" height="1" fill="#000"/><rect x="436.7" y="581.02" width="4.5" height="1.2" fill="#000"/><text x="433.90" y="585.72" font-size="9.6" text-anchor="end">1</text><rect x="438.4" y="597.85" width="2.8" height="1" fill="#000"/><rect x="438.4" y="593.64" width="2.8" height="1" fill="#000"/><rect x="438.4" y="590.65" width="2.8" height="1" fill="#000"/><rect x="438.4" y="588.33" width="2.8" height="1" fill="#000"/><rect x="438.4" y="586.43" width="2.8" height="1" fill="#000"/><rect x="438.4" y="584.83" width="2.8" height="1" fill="#000"/><rect x="438.4" y="583.44" width="2.8" height="1" fill="#000"/><rect x="438.4" y="582.22" width="2.8" height="1" fill="#000"/><rect x="436.7" y="604.96" width="4.5" height="1.2" fill="#000"/><text x="433.90" y="609.66" font-size="9.6" text-anchor="end">0.1</text><rect x="438.4" y="621.79" width="2.8" height="1" fill="#000"/><rect x="438.4" y="617.58" width="2.8" height="1" fill="#000"/><rect x="438.4" y="614.59" width="2.8" height="1" fill="#000"/><rect x="438.4" y="612.27" width="2.8" height="1" fill="#000"/><rect x="438.4" y="610.37" width="2.8" height="1" fill="#000"/><rect x="438.4" y="608.77" width="2.8" height="1" fill="#000"/><rect x="438.4" y="607.38" width="2.8" height="1" fill="#000"/><rect x="438.4" y="606.16" width="2.8" height="1" fill="#000"/><rect x="436.7" y="628.90" width="4.5" height="1.2" fill="#000"/><text x="433.90" y="633.60" font-size="9.6" text-anchor="end">0.01</text><text x="473.40" y="518.80" font-size="12" font-weight="bold" text-anchor="middle">8 h</text><text x="531.60" y="518.80" font-size="12" font-weight="bold" text-anchor="middle">24 h</text><text x="590.30" y="518.80" font-size="12" font-weight="bold" text-anchor="middle">48 h</text><text x="649.30" y="518.80" font-size="12" font-weight="bold" text-anchor="middle">72 h</text><text transform="translate(459.52,637.60) rotate(-90)" font-size="10" text-anchor="end">0</text><text transform="translate(471.27,638.70) rotate(-90)" font-size="10" text-anchor="end">0.1</text><text transform="translate(483.02,638.70) rotate(-90)" font-size="10" text-anchor="end">1</text><text transform="translate(494.77,637.60) rotate(-90)" font-size="10" text-anchor="end">10</text><text transform="translate(518.29,637.60) rotate(-90)" font-size="10" text-anchor="end">0</text><text transform="translate(530.04,638.70) rotate(-90)" font-size="10" text-anchor="end">0.1</text><text transform="translate(541.79,638.70) rotate(-90)" font-size="10" text-anchor="end">1</text><text transform="translate(553.54,637.60) rotate(-90)" font-size="10" text-anchor="end">10</text><text transform="translate(577.06,637.60) rotate(-90)" font-size="10" text-anchor="end">0</text><text transform="translate(588.81,638.70) rotate(-90)" font-size="10" text-anchor="end">0.1</text><text transform="translate(600.56,638.70) rotate(-90)" font-size="10" text-anchor="end">1</text><text transform="translate(612.31,637.60) rotate(-90)" font-size="10" text-anchor="end">10</text><text transform="translate(635.84,637.60) rotate(-90)" font-size="10" text-anchor="end">0</text><text transform="translate(647.59,638.70) rotate(-90)" font-size="10" text-anchor="end">0.1</text><text transform="translate(659.34,638.70) rotate(-90)" font-size="10" text-anchor="end">1</text><text transform="translate(671.09,637.60) rotate(-90)" font-size="10" text-anchor="end">10</text><text transform="translate(402.40,567.30) rotate(-90)" font-size="11.5" font-weight="bold" text-anchor="middle">RNA disruption index</text><text x="561.70" y="667.50" font-size="11.6" font-weight="bold" text-anchor="middle">[Doxorubicin] (uM)</text><text x="4.00" y="694.70" font-size="24" font-weight="bold">d)</text><text x="41.10" y="695.00" font-size="12.5" font-weight="bold" letter-spacing="0.2">A375</text><text transform="translate(47.90,742.20) rotate(-90)" font-size="12.3">Ladder</text><text x="6.40" y="737.60" font-size="13">[nt]</text><rect x="56.90" y="726.30" width="64.00" height="1.4" fill="#000"/><text x="89.60" y="721.90" font-size="14" font-weight="bold" text-anchor="middle">8 h</text><rect x="126.90" y="726.30" width="64.00" height="1.4" fill="#000"/><text x="160.50" y="721.90" font-size="14" font-weight="bold" text-anchor="middle">24 h</text><rect x="196.90" y="726.30" width="64.00" height="1.4" fill="#000"/><text x="230.70" y="721.90" font-size="14" font-weight="bold" text-anchor="middle">48 h</text><rect x="266.90" y="726.30" width="64.00" height="1.4" fill="#000"/><text x="300.40" y="721.90" font-size="14" font-weight="bold" text-anchor="middle">72 h</text><text x="62.20" y="739.90" font-size="12.4" text-anchor="middle">0</text><text x="79.75" y="739.90" font-size="12.4" text-anchor="middle">0.1</text><text x="97.30" y="739.90" font-size="12.4" text-anchor="middle">1</text><text x="114.85" y="739.90" font-size="12.4" text-anchor="middle">10</text><text x="132.40" y="739.90" font-size="12.4" text-anchor="middle">0</text><text x="149.95" y="739.90" font-size="12.4" text-anchor="middle">0.1</text><text x="167.50" y="739.90" font-size="12.4" text-anchor="middle">1</text><text x="185.05" y="739.90" font-size="12.4" text-anchor="middle">10</text><text x="202.60" y="739.90" font-size="12.4" text-anchor="middle">0</text><text x="220.15" y="739.90" font-size="12.4" text-anchor="middle">0.1</text><text x="237.70" y="739.90" font-size="12.4" text-anchor="middle">1</text><text x="255.25" y="739.90" font-size="12.4" text-anchor="middle">10</text><text x="272.80" y="739.90" font-size="12.4" text-anchor="middle">0</text><text x="290.35" y="739.90" font-size="12.4" text-anchor="middle">0.1</text><text x="307.90" y="739.90" font-size="12.4" text-anchor="middle">1</text><text x="325.45" y="739.90" font-size="12.4" text-anchor="middle">10</text><text x="333.60" y="738.10" font-size="12.2">DOX (µM)</text><rect x="37.30" y="743.00" width="14.60" height="113.00" fill="url(#g52)"/><rect x="54.30" y="743.00" width="15.20" height="113.00" fill="url(#g53)"/><rect x="71.85" y="743.00" width="15.20" height="113.00" fill="url(#g54)"/><rect x="89.40" y="743.00" width="15.20" height="113.00" fill="url(#g55)"/><rect x="106.95" y="743.00" width="15.20" height="113.00" fill="url(#g56)"/><rect x="124.50" y="743.00" width="15.20" height="113.00" fill="url(#g57)"/><rect x="142.05" y="743.00" width="15.20" height="113.00" fill="url(#g58)"/><rect x="159.60" y="743.00" width="15.20" height="113.00" fill="url(#g59)"/><rect x="177.15" y="743.00" width="15.20" height="113.00" fill="url(#g60)"/><rect x="194.70" y="743.00" width="15.20" height="113.00" fill="url(#g61)"/><rect x="212.25" y="743.00" width="15.20" height="113.00" fill="url(#g62)"/><rect x="229.80" y="743.00" width="15.20" height="113.00" fill="url(#g63)"/><rect x="247.35" y="743.00" width="15.20" height="113.00" fill="url(#g64)"/><rect x="264.90" y="743.00" width="15.20" height="113.00" fill="url(#g65)"/><rect x="282.45" y="743.00" width="15.20" height="113.00" fill="url(#g66)"/><rect x="300.00" y="743.00" width="15.20" height="113.00" fill="url(#g67)"/><rect x="317.55" y="743.00" width="15.20" height="113.00" fill="url(#g68)"/><rect x="37.30" y="853.10" width="14.60" height="1.8" fill="#0a8a0a"/><rect x="54.30" y="853.10" width="15.20" height="1.8" fill="#0a8a0a"/><rect x="71.85" y="853.10" width="15.20" height="1.8" fill="#0a8a0a"/><rect x="89.40" y="853.10" width="15.20" height="1.8" fill="#0a8a0a"/><rect x="106.95" y="853.10" width="15.20" height="1.8" fill="#0a8a0a"/><rect x="124.50" y="853.10" width="15.20" height="1.8" fill="#0a8a0a"/><rect x="142.05" y="853.10" width="15.20" height="1.8" fill="#0a8a0a"/><rect x="159.60" y="853.10" width="15.20" height="1.8" fill="#0a8a0a"/><rect x="177.15" y="853.10" width="15.20" height="1.8" fill="#0a8a0a"/><rect x="194.70" y="853.10" width="15.20" height="1.8" fill="#0a8a0a"/><rect x="212.25" y="853.10" width="15.20" height="1.8" fill="#0a8a0a"/><rect x="229.80" y="853.10" width="15.20" height="1.8" fill="#0a8a0a"/><rect x="247.35" y="853.10" width="15.20" height="1.8" fill="#0a8a0a"/><rect x="264.90" y="853.10" width="15.20" height="1.8" fill="#0a8a0a"/><rect x="282.45" y="853.10" width="15.20" height="1.8" fill="#0a8a0a"/><rect x="300.00" y="853.10" width="15.20" height="1.8" fill="#0a8a0a"/><rect x="317.55" y="853.10" width="15.20" height="1.8" fill="#0a8a0a"/><text x="27.20" y="759.05" font-size="12.5" text-anchor="end">6000</text><rect x="31.4" y="754.40" width="3.3" height="1.2" fill="#000"/><text x="27.20" y="777.65" font-size="12.5" text-anchor="end">4000</text><rect x="31.4" y="773.00" width="3.3" height="1.2" fill="#000"/><text x="27.20" y="797.35" font-size="12.5" text-anchor="end">2000</text><rect x="31.4" y="792.70" width="3.3" height="1.2" fill="#000"/><text x="27.20" y="813.45" font-size="12.5" text-anchor="end">1000</text><rect x="31.4" y="808.80" width="3.3" height="1.2" fill="#000"/><text x="27.20" y="827.35" font-size="12.5" text-anchor="end">500</text><rect x="31.4" y="822.70" width="3.3" height="1.2" fill="#000"/><text x="27.20" y="839.55" font-size="12.5" text-anchor="end">200</text><rect x="31.4" y="834.90" width="3.3" height="1.2" fill="#000"/><text x="27.20" y="857.85" font-size="12.5" text-anchor="end">25</text><rect x="31.4" y="853.20" width="3.3" height="1.2" fill="#000"/><path d="M334.70,775.90 L344.70,771.30 L343.50,774.80 L352.10,774.80 L352.10,777.00 L343.50,777.00 L344.70,780.50 Z" fill="#000"/><text x="352.60" y="781.50" font-size="15">28S</text><path d="M334.70,796.20 L344.70,791.60 L343.50,795.10 L352.10,795.10 L352.10,797.30 L343.50,797.30 L344.70,800.80 Z" fill="#000"/><text x="352.60" y="801.80" font-size="15">18S</text><rect x="502.25" y="737.70" width="1.3" height="1.3" fill="#000"/><rect x="502.25" y="744.00" width="1.3" height="1.3" fill="#000"/><rect x="502.25" y="750.30" width="1.3" height="1.3" fill="#000"/><rect x="502.25" y="756.60" width="1.3" height="1.3" fill="#000"/><rect x="502.25" y="762.90" width="1.3" height="1.3" fill="#000"/><rect x="502.25" y="769.20" width="1.3" height="1.3" fill="#000"/><rect x="502.25" y="775.50" width="1.3" height="1.3" fill="#000"/><rect x="502.25" y="781.80" width="1.3" height="1.3" fill="#000"/><rect x="502.25" y="788.10" width="1.3" height="1.3" fill="#000"/><rect x="502.25" y="794.40" width="1.3" height="1.3" fill="#000"/><rect x="502.25" y="800.70" width="1.3" height="1.3" fill="#000"/><rect x="502.25" y="807.00" width="1.3" height="1.3" fill="#000"/><rect x="502.25" y="813.30" width="1.3" height="1.3" fill="#000"/><rect x="502.25" y="819.60" width="1.3" height="1.3" fill="#000"/><rect x="502.25" y="825.90" width="1.3" height="1.3" fill="#000"/><rect x="502.25" y="832.20" width="1.3" height="1.3" fill="#000"/><rect x="502.25" y="838.50" width="1.3" height="1.3" fill="#000"/><rect x="502.25" y="844.80" width="1.3" height="1.3" fill="#000"/><rect x="502.25" y="851.10" width="1.3" height="1.3" fill="#000"/><rect x="561.02" y="737.70" width="1.3" height="1.3" fill="#000"/><rect x="561.02" y="744.00" width="1.3" height="1.3" fill="#000"/><rect x="561.02" y="750.30" width="1.3" height="1.3" fill="#000"/><rect x="561.02" y="756.60" width="1.3" height="1.3" fill="#000"/><rect x="561.02" y="762.90" width="1.3" height="1.3" fill="#000"/><rect x="561.02" y="769.20" width="1.3" height="1.3" fill="#000"/><rect x="561.02" y="775.50" width="1.3" height="1.3" fill="#000"/><rect x="561.02" y="781.80" width="1.3" height="1.3" fill="#000"/><rect x="561.02" y="788.10" width="1.3" height="1.3" fill="#000"/><rect x="561.02" y="794.40" width="1.3" height="1.3" fill="#000"/><rect x="561.02" y="800.70" width="1.3" height="1.3" fill="#000"/><rect x="561.02" y="807.00" width="1.3" height="1.3" fill="#000"/><rect x="561.02" y="813.30" width="1.3" height="1.3" fill="#000"/><rect x="561.02" y="819.60" width="1.3" height="1.3" fill="#000"/><rect x="561.02" y="825.90" width="1.3" height="1.3" fill="#000"/><rect x="561.02" y="832.20" width="1.3" height="1.3" fill="#000"/><rect x="561.02" y="838.50" width="1.3" height="1.3" fill="#000"/><rect x="561.02" y="844.80" width="1.3" height="1.3" fill="#000"/><rect x="561.02" y="851.10" width="1.3" height="1.3" fill="#000"/><rect x="619.79" y="737.70" width="1.3" height="1.3" fill="#000"/><rect x="619.79" y="744.00" width="1.3" height="1.3" fill="#000"/><rect x="619.79" y="750.30" width="1.3" height="1.3" fill="#000"/><rect x="619.79" y="756.60" width="1.3" height="1.3" fill="#000"/><rect x="619.79" y="762.90" width="1.3" height="1.3" fill="#000"/><rect x="619.79" y="769.20" width="1.3" height="1.3" fill="#000"/><rect x="619.79" y="775.50" width="1.3" height="1.3" fill="#000"/><rect x="619.79" y="781.80" width="1.3" height="1.3" fill="#000"/><rect x="619.79" y="788.10" width="1.3" height="1.3" fill="#000"/><rect x="619.79" y="794.40" width="1.3" height="1.3" fill="#000"/><rect x="619.79" y="800.70" width="1.3" height="1.3" fill="#000"/><rect x="619.79" y="807.00" width="1.3" height="1.3" fill="#000"/><rect x="619.79" y="813.30" width="1.3" height="1.3" fill="#000"/><rect x="619.79" y="819.60" width="1.3" height="1.3" fill="#000"/><rect x="619.79" y="825.90" width="1.3" height="1.3" fill="#000"/><rect x="619.79" y="832.20" width="1.3" height="1.3" fill="#000"/><rect x="619.79" y="838.50" width="1.3" height="1.3" fill="#000"/><rect x="619.79" y="844.80" width="1.3" height="1.3" fill="#000"/><rect x="619.79" y="851.10" width="1.3" height="1.3" fill="#000"/><rect x="450.05" y="817.05" width="11.75" height="36.65" fill="#c0c0c0" stroke="#000" stroke-width="1.55"/><rect x="461.80" y="816.45" width="11.75" height="37.25" fill="#c0c0c0" stroke="#000" stroke-width="1.55"/><rect x="473.55" y="807.55" width="11.75" height="46.15" fill="#c0c0c0" stroke="#000" stroke-width="1.55"/><rect x="485.30" y="810.75" width="11.75" height="42.95" fill="#c0c0c0" stroke="#000" stroke-width="1.55"/><rect x="508.82" y="826.05" width="11.75" height="27.65" fill="#c0c0c0" stroke="#000" stroke-width="1.55"/><rect x="520.57" y="818.65" width="11.75" height="35.05" fill="#c0c0c0" stroke="#000" stroke-width="1.55"/><rect x="532.32" y="814.95" width="11.75" height="38.75" fill="#c0c0c0" stroke="#000" stroke-width="1.55"/><rect x="544.07" y="811.25" width="11.75" height="42.45" fill="#c0c0c0" stroke="#000" stroke-width="1.55"/><rect x="567.59" y="827.85" width="11.75" height="25.85" fill="#c0c0c0" stroke="#000" stroke-width="1.55"/><rect x="579.34" y="823.05" width="11.75" height="30.65" fill="#c0c0c0" stroke="#000" stroke-width="1.55"/><rect x="591.09" y="803.65" width="11.75" height="50.05" fill="#c0c0c0" stroke="#000" stroke-width="1.55"/><rect x="602.84" y="799.05" width="11.75" height="54.65" fill="#c0c0c0" stroke="#000" stroke-width="1.55"/><rect x="626.36" y="824.15" width="11.75" height="29.55" fill="#c0c0c0" stroke="#000" stroke-width="1.55"/><rect x="638.11" y="821.85" width="11.75" height="31.85" fill="#c0c0c0" stroke="#000" stroke-width="1.55"/><rect x="649.86" y="804.45" width="11.75" height="49.25" fill="#c0c0c0" stroke="#000" stroke-width="1.55"/><rect x="661.61" y="789.45" width="11.75" height="64.25" fill="#c0c0c0" stroke="#000" stroke-width="1.55"/><rect x="455.32" y="810.50" width="1.2" height="6.40" fill="#000"/><rect x="451.72" y="809.85" width="8.4" height="1.3" fill="#000"/><circle cx="455.52" cy="808.90" r="2.1" fill="#ee7077" stroke="#000" stroke-width="1.35"/><circle cx="456.42" cy="814.80" r="2.1" fill="#a80012" stroke="#000" stroke-width="1.35"/><circle cx="455.62" cy="822.30" r="2.1" fill="#ee7077" stroke="#000" stroke-width="1.35"/><circle cx="456.22" cy="828.60" r="2.1" fill="#a80012" stroke="#000" stroke-width="1.35"/><text x="455.92" y="801.50" font-size="9.4" text-anchor="middle">a</text><rect x="467.07" y="810.50" width="1.2" height="5.80" fill="#000"/><rect x="463.47" y="809.85" width="8.4" height="1.3" fill="#000"/><circle cx="467.87" cy="808.90" r="2.1" fill="#ee7077" stroke="#000" stroke-width="1.35"/><circle cx="467.67" cy="814.80" r="2.1" fill="#a80012" stroke="#000" stroke-width="1.35"/><circle cx="468.47" cy="822.30" r="2.1" fill="#a80012" stroke="#000" stroke-width="1.35"/><text x="467.67" y="801.50" font-size="9.4" text-anchor="middle">ab</text><rect x="478.82" y="802.20" width="1.2" height="5.20" fill="#000"/><rect x="475.22" y="801.55" width="8.4" height="1.3" fill="#000"/><circle cx="478.32" cy="800.90" r="2.1" fill="#ee7077" stroke="#000" stroke-width="1.35"/><circle cx="478.32" cy="805.40" r="2.1" fill="#a80012" stroke="#000" stroke-width="1.35"/><circle cx="479.72" cy="811.70" r="2.1" fill="#a80012" stroke="#000" stroke-width="1.35"/><circle cx="479.72" cy="814.80" r="2.1" fill="#a80012" stroke="#000" stroke-width="1.35"/><text x="479.42" y="794.00" font-size="9.4" text-anchor="middle">b</text><rect x="490.57" y="804.20" width="1.2" height="6.40" fill="#000"/><rect x="486.97" y="803.55" width="8.4" height="1.3" fill="#000"/><circle cx="490.87" cy="802.60" r="2.1" fill="#ee7077" stroke="#000" stroke-width="1.35"/><circle cx="490.47" cy="812.70" r="2.1" fill="#a80012" stroke="#000" stroke-width="1.35"/><circle cx="491.27" cy="822.30" r="2.1" fill="#ee7077" stroke="#000" stroke-width="1.35"/><text x="491.17" y="794.80" font-size="9.4" text-anchor="middle">ab</text><rect x="514.09" y="822.00" width="1.2" height="3.90" fill="#000"/><rect x="510.49" y="821.35" width="8.4" height="1.3" fill="#000"/><circle cx="513.79" cy="822.00" r="2.1" fill="#a80012" stroke="#000" stroke-width="1.35"/><circle cx="514.59" cy="829.80" r="2.1" fill="#a80012" stroke="#000" stroke-width="1.35"/><text x="514.69" y="815.10" font-size="9.4" text-anchor="middle">a</text><rect x="525.84" y="815.40" width="1.2" height="3.10" fill="#000"/><rect x="522.24" y="814.75" width="8.4" height="1.3" fill="#000"/><circle cx="525.94" cy="815.00" r="2.1" fill="#a80012" stroke="#000" stroke-width="1.35"/><circle cx="525.94" cy="818.50" r="2.1" fill="#a80012" stroke="#000" stroke-width="1.35"/><circle cx="526.14" cy="822.70" r="2.1" fill="#ee7077" stroke="#000" stroke-width="1.35"/><text x="526.44" y="806.90" font-size="9.4" text-anchor="middle">ab</text><rect x="537.59" y="811.00" width="1.2" height="3.80" fill="#000"/><rect x="533.99" y="810.35" width="8.4" height="1.3" fill="#000"/><circle cx="538.09" cy="810.90" r="2.1" fill="#a80012" stroke="#000" stroke-width="1.35"/><circle cx="536.89" cy="818.10" r="2.1" fill="#a80012" stroke="#000" stroke-width="1.35"/><text x="538.19" y="802.70" font-size="9.4" text-anchor="middle">b</text><rect x="549.34" y="808.30" width="1.2" height="2.80" fill="#000"/><rect x="545.74" y="807.65" width="8.4" height="1.3" fill="#000"/><circle cx="548.54" cy="807.90" r="2.1" fill="#a80012" stroke="#000" stroke-width="1.35"/><circle cx="548.84" cy="811.80" r="2.1" fill="#a80012" stroke="#000" stroke-width="1.35"/><circle cx="548.84" cy="815.40" r="2.1" fill="#a80012" stroke="#000" stroke-width="1.35"/><text x="549.94" y="800.10" font-size="9.4" text-anchor="middle">b</text><rect x="572.86" y="823.60" width="1.2" height="4.10" fill="#000"/><rect x="569.26" y="822.95" width="8.4" height="1.3" fill="#000"/><circle cx="573.26" cy="822.00" r="2.1" fill="#ee7077" stroke="#000" stroke-width="1.35"/><circle cx="573.86" cy="829.90" r="2.1" fill="#a80012" stroke="#000" stroke-width="1.35"/><text x="573.46" y="815.00" font-size="9.4" text-anchor="middle">a</text><rect x="584.61" y="818.90" width="1.2" height="4.00" fill="#000"/><rect x="581.01" y="818.25" width="8.4" height="1.3" fill="#000"/><circle cx="584.31" cy="817.70" r="2.1" fill="#a80012" stroke="#000" stroke-width="1.35"/><circle cx="584.51" cy="822.40" r="2.1" fill="#a80012" stroke="#000" stroke-width="1.35"/><circle cx="584.31" cy="829.50" r="2.1" fill="#ee7077" stroke="#000" stroke-width="1.35"/><text x="585.21" y="809.90" font-size="9.4" text-anchor="middle">a</text><rect x="596.36" y="798.80" width="1.2" height="4.70" fill="#000"/><rect x="592.76" y="798.15" width="8.4" height="1.3" fill="#000"/><circle cx="595.86" cy="797.60" r="2.1" fill="#a80012" stroke="#000" stroke-width="1.35"/><circle cx="597.86" cy="799.80" r="2.1" fill="#ee7077" stroke="#000" stroke-width="1.35"/><circle cx="596.66" cy="809.80" r="2.1" fill="#a80012" stroke="#000" stroke-width="1.35"/><text x="596.96" y="789.80" font-size="9.4" text-anchor="middle">b</text><rect x="608.11" y="797.20" width="1.2" height="1.70" fill="#000"/><rect x="604.51" y="796.55" width="8.4" height="1.3" fill="#000"/><circle cx="608.51" cy="796.80" r="2.1" fill="#a80012" stroke="#000" stroke-width="1.35"/><circle cx="607.41" cy="800.60" r="2.1" fill="#a80012" stroke="#000" stroke-width="1.35"/><text x="608.71" y="789.00" font-size="9.4" text-anchor="middle">b</text><rect x="631.63" y="821.50" width="1.2" height="2.50" fill="#000"/><rect x="628.03" y="820.85" width="8.4" height="1.3" fill="#000"/><circle cx="631.74" cy="822.10" r="2.1" fill="#a80012" stroke="#000" stroke-width="1.35"/><circle cx="632.34" cy="829.60" r="2.1" fill="#ee7077" stroke="#000" stroke-width="1.35"/><text x="632.24" y="814.60" font-size="9.4" text-anchor="middle">a</text><rect x="643.38" y="819.50" width="1.2" height="2.20" fill="#000"/><rect x="639.78" y="818.85" width="8.4" height="1.3" fill="#000"/><circle cx="643.88" cy="817.90" r="2.1" fill="#ee7077" stroke="#000" stroke-width="1.35"/><circle cx="643.88" cy="822.60" r="2.1" fill="#a80012" stroke="#000" stroke-width="1.35"/><text x="643.99" y="810.10" font-size="9.4" text-anchor="middle">a</text><rect x="655.13" y="801.60" width="1.2" height="2.70" fill="#000"/><rect x="651.53" y="800.95" width="8.4" height="1.3" fill="#000"/><circle cx="654.94" cy="802.70" r="2.1" fill="#a80012" stroke="#000" stroke-width="1.35"/><circle cx="654.44" cy="809.20" r="2.1" fill="#ee7077" stroke="#000" stroke-width="1.35"/><text x="655.74" y="794.30" font-size="9.4" text-anchor="middle">b</text><rect x="666.88" y="785.00" width="1.2" height="4.30" fill="#000"/><rect x="663.28" y="784.35" width="8.4" height="1.3" fill="#000"/><circle cx="667.99" cy="784.00" r="2.1" fill="#ee7077" stroke="#000" stroke-width="1.35"/><circle cx="666.69" cy="789.50" r="2.1" fill="#a80012" stroke="#000" stroke-width="1.35"/><circle cx="665.78" cy="796.70" r="2.1" fill="#ee7077" stroke="#000" stroke-width="1.35"/><text x="667.49" y="776.60" font-size="9.4" text-anchor="middle">c</text><rect x="440.00" y="732.50" width="2" height="122.10" fill="#000"/><rect x="440.00" y="852.80" width="242.00" height="1.6" fill="#505050"/><rect x="436.7" y="732.50" width="4.5" height="1.2" fill="#000"/><text x="433.90" y="737.20" font-size="9.6" text-anchor="end">1000</text><rect x="438.4" y="749.46" width="2.8" height="1" fill="#000"/><rect x="438.4" y="745.21" width="2.8" height="1" fill="#000"/><rect x="438.4" y="742.20" width="2.8" height="1" fill="#000"/><rect x="438.4" y="739.86" width="2.8" height="1" fill="#000"/><rect x="438.4" y="737.95" width="2.8" height="1" fill="#000"/><rect x="438.4" y="736.34" width="2.8" height="1" fill="#000"/><rect x="438.4" y="734.94" width="2.8" height="1" fill="#000"/><rect x="438.4" y="733.70" width="2.8" height="1" fill="#000"/><rect x="436.7" y="756.62" width="4.5" height="1.2" fill="#000"/><text x="433.90" y="761.32" font-size="9.6" text-anchor="end">100</text><rect x="438.4" y="773.58" width="2.8" height="1" fill="#000"/><rect x="438.4" y="769.33" width="2.8" height="1" fill="#000"/><rect x="438.4" y="766.32" width="2.8" height="1" fill="#000"/><rect x="438.4" y="763.98" width="2.8" height="1" fill="#000"/><rect x="438.4" y="762.07" width="2.8" height="1" fill="#000"/><rect x="438.4" y="760.46" width="2.8" height="1" fill="#000"/><rect x="438.4" y="759.06" width="2.8" height="1" fill="#000"/><rect x="438.4" y="757.82" width="2.8" height="1" fill="#000"/><rect x="436.7" y="780.74" width="4.5" height="1.2" fill="#000"/><text x="433.90" y="785.44" font-size="9.6" text-anchor="end">10</text><rect x="438.4" y="797.70" width="2.8" height="1" fill="#000"/><rect x="438.4" y="793.45" width="2.8" height="1" fill="#000"/><rect x="438.4" y="790.44" width="2.8" height="1" fill="#000"/><rect x="438.4" y="788.10" width="2.8" height="1" fill="#000"/><rect x="438.4" y="786.19" width="2.8" height="1" fill="#000"/><rect x="438.4" y="784.58" width="2.8" height="1" fill="#000"/><rect x="438.4" y="783.18" width="2.8" height="1" fill="#000"/><rect x="438.4" y="781.94" width="2.8" height="1" fill="#000"/><rect x="436.7" y="804.86" width="4.5" height="1.2" fill="#000"/><text x="433.90" y="809.56" font-size="9.6" text-anchor="end">1</text><rect x="438.4" y="821.82" width="2.8" height="1" fill="#000"/><rect x="438.4" y="817.57" width="2.8" height="1" fill="#000"/><rect x="438.4" y="814.56" width="2.8" height="1" fill="#000"/><rect x="438.4" y="812.22" width="2.8" height="1" fill="#000"/><rect x="438.4" y="810.31" width="2.8" height="1" fill="#000"/><rect x="438.4" y="808.70" width="2.8" height="1" fill="#000"/><rect x="438.4" y="807.30" width="2.8" height="1" fill="#000"/><rect x="438.4" y="806.06" width="2.8" height="1" fill="#000"/><rect x="436.7" y="828.98" width="4.5" height="1.2" fill="#000"/><text x="433.90" y="833.68" font-size="9.6" text-anchor="end">0.1</text><rect x="438.4" y="845.94" width="2.8" height="1" fill="#000"/><rect x="438.4" y="841.69" width="2.8" height="1" fill="#000"/><rect x="438.4" y="838.68" width="2.8" height="1" fill="#000"/><rect x="438.4" y="836.34" width="2.8" height="1" fill="#000"/><rect x="438.4" y="834.43" width="2.8" height="1" fill="#000"/><rect x="438.4" y="832.82" width="2.8" height="1" fill="#000"/><rect x="438.4" y="831.42" width="2.8" height="1" fill="#000"/><rect x="438.4" y="830.18" width="2.8" height="1" fill="#000"/><rect x="436.7" y="853.10" width="4.5" height="1.2" fill="#000"/><text x="433.90" y="857.80" font-size="9.6" text-anchor="end">0.01</text><text x="473.40" y="742.10" font-size="12" font-weight="bold" text-anchor="middle">8 h</text><text x="531.60" y="742.10" font-size="12" font-weight="bold" text-anchor="middle">24 h</text><text x="590.30" y="742.10" font-size="12" font-weight="bold" text-anchor="middle">48 h</text><text x="649.30" y="742.10" font-size="12" font-weight="bold" text-anchor="middle">72 h</text><text transform="translate(459.52,860.90) rotate(-90)" font-size="10" text-anchor="end">0</text><text transform="translate(471.27,862.00) rotate(-90)" font-size="10" text-anchor="end">0.1</text><text transform="translate(483.02,862.00) rotate(-90)" font-size="10" text-anchor="end">1</text><text transform="translate(494.77,860.90) rotate(-90)" font-size="10" text-anchor="end">10</text><text transform="translate(518.29,860.90) rotate(-90)" font-size="10" text-anchor="end">0</text><text transform="translate(530.04,862.00) rotate(-90)" font-size="10" text-anchor="end">0.1</text><text transform="translate(541.79,862.00) rotate(-90)" font-size="10" text-anchor="end">1</text><text transform="translate(553.54,860.90) rotate(-90)" font-size="10" text-anchor="end">10</text><text transform="translate(577.06,860.90) rotate(-90)" font-size="10" text-anchor="end">0</text><text transform="translate(588.81,862.00) rotate(-90)" font-size="10" text-anchor="end">0.1</text><text transform="translate(600.56,862.00) rotate(-90)" font-size="10" text-anchor="end">1</text><text transform="translate(612.31,860.90) rotate(-90)" font-size="10" text-anchor="end">10</text><text transform="translate(635.84,860.90) rotate(-90)" font-size="10" text-anchor="end">0</text><text transform="translate(647.59,862.00) rotate(-90)" font-size="10" text-anchor="end">0.1</text><text transform="translate(659.34,862.00) rotate(-90)" font-size="10" text-anchor="end">1</text><text transform="translate(671.09,860.90) rotate(-90)" font-size="10" text-anchor="end">10</text><text transform="translate(402.40,790.60) rotate(-90)" font-size="11.5" font-weight="bold" text-anchor="middle">RNA disruption index</text><text x="562.30" y="890.10" font-size="11.6" font-weight="bold" text-anchor="middle">[Doxorubicin] (uM)</text></svg></body></html>
